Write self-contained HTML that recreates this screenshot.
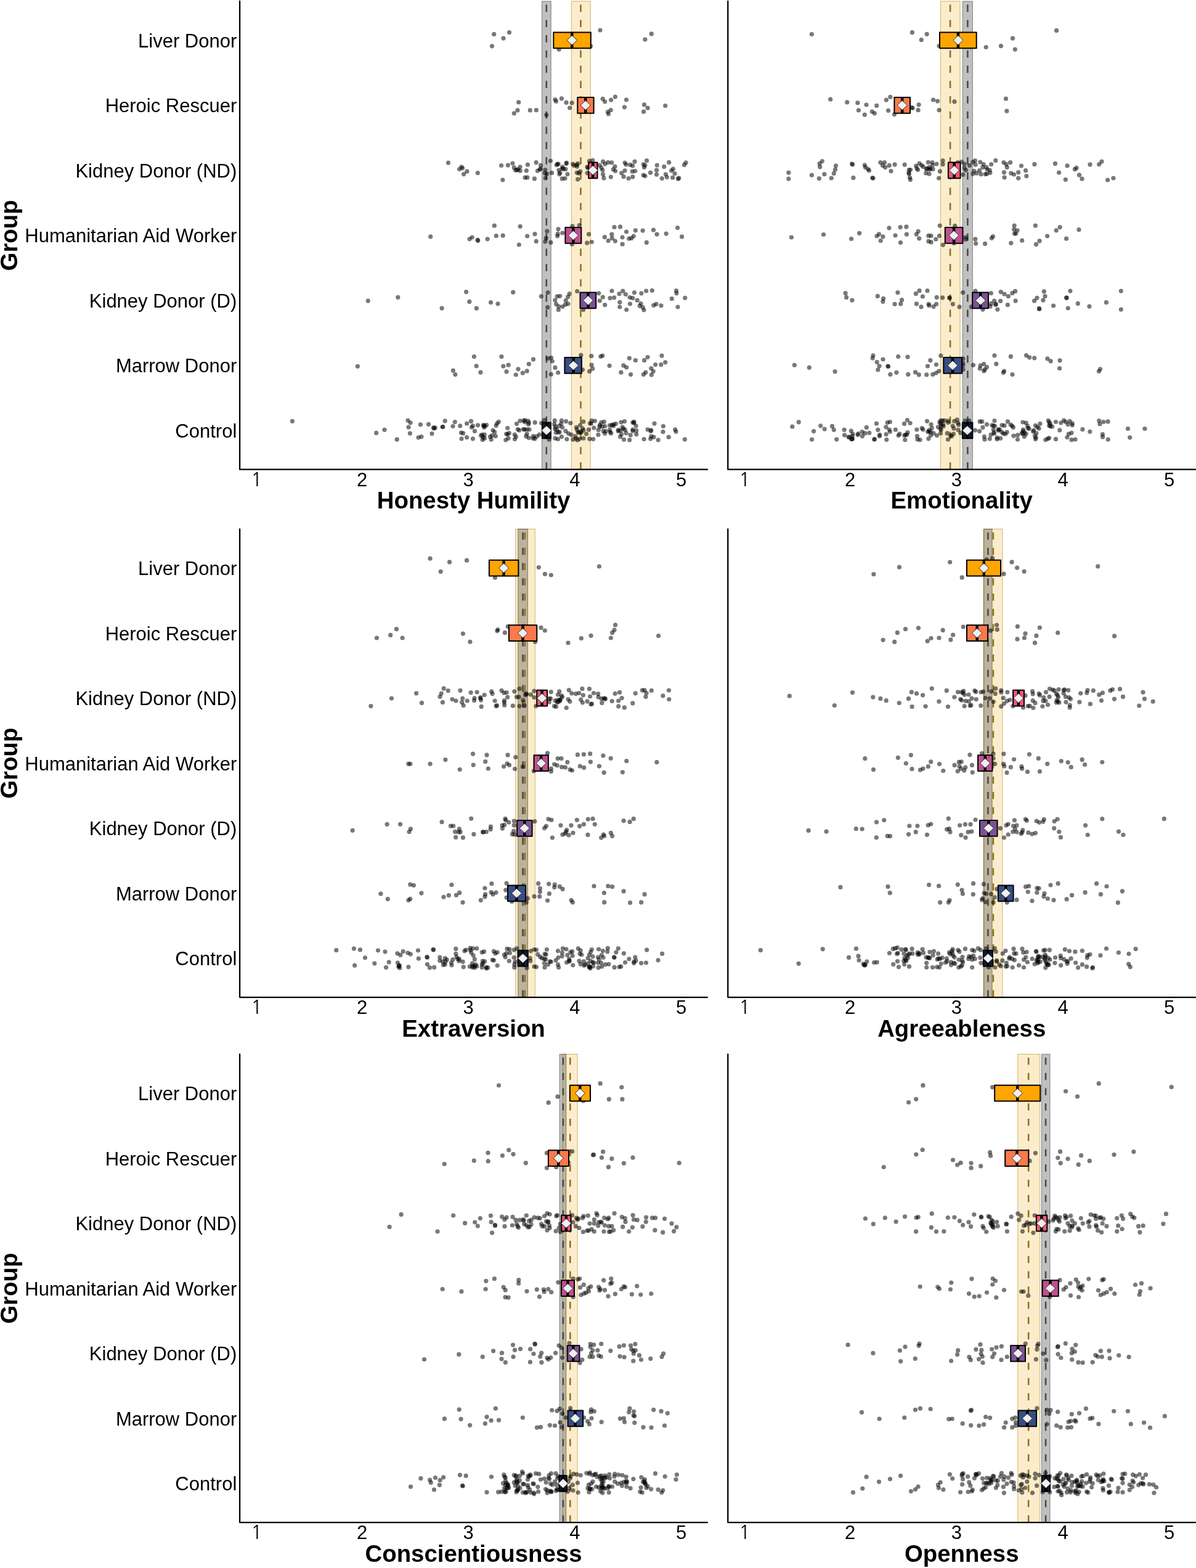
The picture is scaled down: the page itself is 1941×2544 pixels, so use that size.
<!DOCTYPE html><html><head><meta charset="utf-8"><title>Personality traits by group</title>
<style>html,body{margin:0;padding:0;background:#fff;}svg{display:block;}text{font-family:"Liberation Sans",Arial,sans-serif;fill:#000;}.lb{font-size:31px;text-anchor:end;}.tk{font-size:31px;text-anchor:middle;}.tt{font-size:38.4px;font-weight:700;text-anchor:middle;}.pt{fill:#000;fill-opacity:.53;}.gb{fill:#1e1e1e;fill-opacity:.28;stroke:#1e1e1e;stroke-opacity:.45;stroke-width:1.1;}.yb{fill:#EDAD17;fill-opacity:.22;stroke:#CDAE62;stroke-opacity:.85;stroke-width:1.1;}.gd{stroke:#4a4a4a;stroke-width:2.6;stroke-dasharray:11.6 13.15;}.yd{stroke:#93701C;stroke-width:2.6;stroke-dasharray:11.6 13.15;}.bx{stroke:#000;stroke-width:2;stroke-linejoin:round;}.md{stroke:#000;stroke-width:4.4;}.dm{fill:#f0f0f0;stroke:#222;stroke-width:0.9;}.one{font-family:NanumGothic,"Liberation Sans",sans-serif;}.ax{stroke:#000;stroke-width:2.3;fill:none;stroke-linecap:round;stroke-linejoin:round;}</style></head><body>
<svg width="1941" height="2544" viewBox="0 0 1941 2544">
<rect width="1941" height="2544" fill="#fff"/>
<g>
<rect class="yb" x="927.4" y="2" width="30.8" height="759.7"/>
<rect class="gb" x="879.5" y="2" width="14.7" height="759.7"/>
<line class="gd" x1="886.8" y1="761.7" x2="886.8" y2="2"/>
<line class="yd" x1="942.5" y1="761.7" x2="942.5" y2="2"/>
<circle class="pt" cx="801.7" cy="55.4" r="3.6"/>
<circle class="pt" cx="826.5" cy="52.6" r="3.6"/>
<circle class="pt" cx="817" cy="62.1" r="3.6"/>
<circle class="pt" cx="798.5" cy="74.8" r="3.6"/>
<circle class="pt" cx="907.1" cy="80.2" r="3.6"/>
<circle class="pt" cx="958.6" cy="74.8" r="3.6"/>
<circle class="pt" cx="974" cy="49" r="3.6"/>
<circle class="pt" cx="1057.3" cy="54.9" r="3.6"/>
<circle class="pt" cx="1046.9" cy="64" r="3.6"/>
<circle class="pt" cx="841.7" cy="165.9" r="3.6"/>
<circle class="pt" cx="839.9" cy="178.9" r="3.6"/>
<circle class="pt" cx="834.3" cy="183.8" r="3.6"/>
<circle class="pt" cx="860.3" cy="178.9" r="3.6"/>
<circle class="pt" cx="870.3" cy="178.7" r="3.6"/>
<circle class="pt" cx="886.8" cy="186.6" r="3.6"/>
<circle class="pt" cx="900.9" cy="161.5" r="3.6"/>
<circle class="pt" cx="902.5" cy="164.5" r="3.6"/>
<circle class="pt" cx="911.4" cy="159.9" r="3.6"/>
<circle class="pt" cx="919" cy="166.4" r="3.6"/>
<circle class="pt" cx="928.1" cy="166.9" r="3.6"/>
<circle class="pt" cx="924.6" cy="175" r="3.6"/>
<circle class="pt" cx="978.2" cy="160.4" r="3.6"/>
<circle class="pt" cx="981.7" cy="165" r="3.6"/>
<circle class="pt" cx="991.7" cy="162.2" r="3.6"/>
<circle class="pt" cx="998.4" cy="157.1" r="3.6"/>
<circle class="pt" cx="991.2" cy="178.7" r="3.6"/>
<circle class="pt" cx="986.3" cy="181.5" r="3.6"/>
<circle class="pt" cx="987.5" cy="185" r="3.6"/>
<circle class="pt" cx="1016.5" cy="161.8" r="3.6"/>
<circle class="pt" cx="1013.5" cy="173.8" r="3.6"/>
<circle class="pt" cx="1045.5" cy="169.9" r="3.6"/>
<circle class="pt" cx="1051.1" cy="175.2" r="3.6"/>
<circle class="pt" cx="1044.6" cy="181.2" r="3.6"/>
<circle class="pt" cx="1079.7" cy="171.5" r="3.6"/>
<circle class="pt" cx="727.5" cy="264.1" r="3.6"/>
<circle class="pt" cx="748.9" cy="270.8" r="3.6"/>
<circle class="pt" cx="745.5" cy="274.5" r="3.6"/>
<circle class="pt" cx="750.6" cy="272.8" r="3.6"/>
<circle class="pt" cx="757.9" cy="278.2" r="3.6"/>
<circle class="pt" cx="752.6" cy="282.6" r="3.6"/>
<circle class="pt" cx="775.3" cy="280.6" r="3.6"/>
<circle class="pt" cx="813.6" cy="268.5" r="3.6"/>
<circle class="pt" cx="824.4" cy="268.1" r="3.6"/>
<circle class="pt" cx="831.9" cy="265" r="3.6"/>
<circle class="pt" cx="834.3" cy="271.9" r="3.6"/>
<circle class="pt" cx="836.6" cy="276.1" r="3.6"/>
<circle class="pt" cx="840.6" cy="274.8" r="3.6"/>
<circle class="pt" cx="844" cy="270.8" r="3.6"/>
<circle class="pt" cx="844.2" cy="277.2" r="3.6"/>
<circle class="pt" cx="856.4" cy="267.2" r="3.6"/>
<circle class="pt" cx="854.4" cy="276.8" r="3.6"/>
<circle class="pt" cx="852" cy="288.2" r="3.6"/>
<circle class="pt" cx="855.8" cy="287.9" r="3.6"/>
<circle class="pt" cx="867.4" cy="289.9" r="3.6"/>
<circle class="pt" cx="815.8" cy="291.8" r="3.6"/>
<circle class="pt" cx="870.1" cy="263.7" r="3.6"/>
<circle class="pt" cx="877.5" cy="268.1" r="3.6"/>
<circle class="pt" cx="877.1" cy="273.7" r="3.6"/>
<circle class="pt" cx="872.4" cy="277.1" r="3.6"/>
<circle class="pt" cx="884.8" cy="275.5" r="3.6"/>
<circle class="pt" cx="884.2" cy="280.8" r="3.6"/>
<circle class="pt" cx="887.5" cy="282.2" r="3.6"/>
<circle class="pt" cx="885.2" cy="288.9" r="3.6"/>
<circle class="pt" cx="893.5" cy="261" r="3.6"/>
<circle class="pt" cx="895.5" cy="280.4" r="3.6"/>
<circle class="pt" cx="906.2" cy="266.1" r="3.6"/>
<circle class="pt" cx="904.6" cy="266.1" r="3.6"/>
<circle class="pt" cx="906.9" cy="276.1" r="3.6"/>
<circle class="pt" cx="908.9" cy="280.2" r="3.6"/>
<circle class="pt" cx="907.9" cy="282.6" r="3.6"/>
<circle class="pt" cx="912.9" cy="270.8" r="3.6"/>
<circle class="pt" cx="914.3" cy="274.1" r="3.6"/>
<circle class="pt" cx="919.4" cy="264.1" r="3.6"/>
<circle class="pt" cx="919.1" cy="265.4" r="3.6"/>
<circle class="pt" cx="921" cy="282.6" r="3.6"/>
<circle class="pt" cx="912.3" cy="289.9" r="3.6"/>
<circle class="pt" cx="917" cy="289.5" r="3.6"/>
<circle class="pt" cx="929.7" cy="266.1" r="3.6"/>
<circle class="pt" cx="935.7" cy="267.4" r="3.6"/>
<circle class="pt" cx="937.7" cy="265.4" r="3.6"/>
<circle class="pt" cx="936.4" cy="270.1" r="3.6"/>
<circle class="pt" cx="941.7" cy="278.2" r="3.6"/>
<circle class="pt" cx="936.4" cy="280.2" r="3.6"/>
<circle class="pt" cx="937.7" cy="290.9" r="3.6"/>
<circle class="pt" cx="956.5" cy="261.4" r="3.6"/>
<circle class="pt" cx="953.1" cy="270.8" r="3.6"/>
<circle class="pt" cx="953.1" cy="280.8" r="3.6"/>
<circle class="pt" cx="961.8" cy="260.1" r="3.6"/>
<circle class="pt" cx="973.2" cy="268.1" r="3.6"/>
<circle class="pt" cx="975.9" cy="272.1" r="3.6"/>
<circle class="pt" cx="977.9" cy="276.1" r="3.6"/>
<circle class="pt" cx="978.6" cy="282.8" r="3.6"/>
<circle class="pt" cx="979.9" cy="288.9" r="3.6"/>
<circle class="pt" cx="978.6" cy="262.1" r="3.6"/>
<circle class="pt" cx="981.9" cy="266.1" r="3.6"/>
<circle class="pt" cx="986.6" cy="263.4" r="3.6"/>
<circle class="pt" cx="992.6" cy="263.8" r="3.6"/>
<circle class="pt" cx="998" cy="270.1" r="3.6"/>
<circle class="pt" cx="995.3" cy="274.8" r="3.6"/>
<circle class="pt" cx="998.7" cy="277.5" r="3.6"/>
<circle class="pt" cx="991.3" cy="287.1" r="3.6"/>
<circle class="pt" cx="1014.1" cy="264.1" r="3.6"/>
<circle class="pt" cx="1016.1" cy="266.8" r="3.6"/>
<circle class="pt" cx="1008.7" cy="280.8" r="3.6"/>
<circle class="pt" cx="1014.1" cy="276.8" r="3.6"/>
<circle class="pt" cx="1012.1" cy="286.6" r="3.6"/>
<circle class="pt" cx="1020.1" cy="289.5" r="3.6"/>
<circle class="pt" cx="1022.8" cy="267.4" r="3.6"/>
<circle class="pt" cx="1026.8" cy="268.8" r="3.6"/>
<circle class="pt" cx="1030.1" cy="262.1" r="3.6"/>
<circle class="pt" cx="1026.1" cy="278.2" r="3.6"/>
<circle class="pt" cx="1030.8" cy="277.5" r="3.6"/>
<circle class="pt" cx="1026.8" cy="286.9" r="3.6"/>
<circle class="pt" cx="1044.2" cy="266.8" r="3.6"/>
<circle class="pt" cx="1046.9" cy="268.1" r="3.6"/>
<circle class="pt" cx="1049.6" cy="260.7" r="3.6"/>
<circle class="pt" cx="1045.5" cy="271.5" r="3.6"/>
<circle class="pt" cx="1044.2" cy="284.2" r="3.6"/>
<circle class="pt" cx="1046.9" cy="285.5" r="3.6"/>
<circle class="pt" cx="1055.6" cy="280.2" r="3.6"/>
<circle class="pt" cx="1066.3" cy="268.1" r="3.6"/>
<circle class="pt" cx="1065.6" cy="276.1" r="3.6"/>
<circle class="pt" cx="1065.6" cy="283.1" r="3.6"/>
<circle class="pt" cx="1077.7" cy="270.4" r="3.6"/>
<circle class="pt" cx="1085.7" cy="263.4" r="3.6"/>
<circle class="pt" cx="1092.4" cy="274.1" r="3.6"/>
<circle class="pt" cx="1089.7" cy="276.8" r="3.6"/>
<circle class="pt" cx="1095.1" cy="281.5" r="3.6"/>
<circle class="pt" cx="1080.4" cy="282.8" r="3.6"/>
<circle class="pt" cx="1082.4" cy="287.5" r="3.6"/>
<circle class="pt" cx="1074.3" cy="289.5" r="3.6"/>
<circle class="pt" cx="1091.7" cy="288.2" r="3.6"/>
<circle class="pt" cx="1100.4" cy="290.2" r="3.6"/>
<circle class="pt" cx="1101.8" cy="288.9" r="3.6"/>
<circle class="pt" cx="1110.5" cy="267.4" r="3.6"/>
<circle class="pt" cx="1113.2" cy="263.8" r="3.6"/>
<circle class="pt" cx="917.8" cy="274.4" r="3.6"/>
<circle class="pt" cx="903.3" cy="267.6" r="3.6"/>
<circle class="pt" cx="954.1" cy="272.3" r="3.6"/>
<circle class="pt" cx="912.5" cy="273.4" r="3.6"/>
<circle class="pt" cx="939.4" cy="281.2" r="3.6"/>
<circle class="pt" cx="839.1" cy="275.8" r="3.6"/>
<circle class="pt" cx="931.7" cy="268.7" r="3.6"/>
<circle class="pt" cx="876.2" cy="275" r="3.6"/>
<circle class="pt" cx="698.7" cy="383.9" r="3.6"/>
<circle class="pt" cx="762" cy="387.8" r="3.6"/>
<circle class="pt" cx="766.2" cy="385" r="3.6"/>
<circle class="pt" cx="775.1" cy="389.2" r="3.6"/>
<circle class="pt" cx="775.7" cy="390.6" r="3.6"/>
<circle class="pt" cx="791.1" cy="387.8" r="3.6"/>
<circle class="pt" cx="802.3" cy="366.2" r="3.6"/>
<circle class="pt" cx="805.3" cy="382.7" r="3.6"/>
<circle class="pt" cx="816.2" cy="382.2" r="3.6"/>
<circle class="pt" cx="844.2" cy="367.3" r="3.6"/>
<circle class="pt" cx="842.3" cy="397" r="3.6"/>
<circle class="pt" cx="855.7" cy="383" r="3.6"/>
<circle class="pt" cx="868" cy="379.7" r="3.6"/>
<circle class="pt" cx="870.2" cy="391.4" r="3.6"/>
<circle class="pt" cx="887.9" cy="375.2" r="3.6"/>
<circle class="pt" cx="886.2" cy="386.4" r="3.6"/>
<circle class="pt" cx="884.8" cy="392" r="3.6"/>
<circle class="pt" cx="894" cy="393.4" r="3.6"/>
<circle class="pt" cx="906" cy="371.8" r="3.6"/>
<circle class="pt" cx="905.2" cy="379.4" r="3.6"/>
<circle class="pt" cx="904.6" cy="383" r="3.6"/>
<circle class="pt" cx="912.8" cy="378" r="3.6"/>
<circle class="pt" cx="929" cy="366.8" r="3.6"/>
<circle class="pt" cx="940.2" cy="365.7" r="3.6"/>
<circle class="pt" cx="928.4" cy="396.2" r="3.6"/>
<circle class="pt" cx="955.6" cy="379.9" r="3.6"/>
<circle class="pt" cx="952.8" cy="394.2" r="3.6"/>
<circle class="pt" cx="960.3" cy="392.5" r="3.6"/>
<circle class="pt" cx="981.3" cy="384.7" r="3.6"/>
<circle class="pt" cx="987.2" cy="390.6" r="3.6"/>
<circle class="pt" cx="992.8" cy="380.2" r="3.6"/>
<circle class="pt" cx="993.3" cy="386.4" r="3.6"/>
<circle class="pt" cx="998.4" cy="391.1" r="3.6"/>
<circle class="pt" cx="997" cy="368.5" r="3.6"/>
<circle class="pt" cx="1006.5" cy="367.9" r="3.6"/>
<circle class="pt" cx="1010.1" cy="385" r="3.6"/>
<circle class="pt" cx="1010.1" cy="396.2" r="3.6"/>
<circle class="pt" cx="1016.6" cy="376" r="3.6"/>
<circle class="pt" cx="1020.8" cy="387.2" r="3.6"/>
<circle class="pt" cx="1024.9" cy="386.4" r="3.6"/>
<circle class="pt" cx="1028.3" cy="383" r="3.6"/>
<circle class="pt" cx="1031.4" cy="373.8" r="3.6"/>
<circle class="pt" cx="1043.1" cy="374.1" r="3.6"/>
<circle class="pt" cx="1049.3" cy="393.4" r="3.6"/>
<circle class="pt" cx="1060.5" cy="373.2" r="3.6"/>
<circle class="pt" cx="1066.1" cy="380.2" r="3.6"/>
<circle class="pt" cx="1081.2" cy="379.1" r="3.6"/>
<circle class="pt" cx="1099.6" cy="369.6" r="3.6"/>
<circle class="pt" cx="1106.6" cy="383.9" r="3.6"/>
<circle class="pt" cx="597.3" cy="488.1" r="3.6"/>
<circle class="pt" cx="645.8" cy="482.3" r="3.6"/>
<circle class="pt" cx="717.1" cy="500.1" r="3.6"/>
<circle class="pt" cx="756.6" cy="473.6" r="3.6"/>
<circle class="pt" cx="761.8" cy="489.4" r="3.6"/>
<circle class="pt" cx="773.3" cy="500.2" r="3.6"/>
<circle class="pt" cx="796.5" cy="490.7" r="3.6"/>
<circle class="pt" cx="808" cy="492.8" r="3.6"/>
<circle class="pt" cx="832.7" cy="474.2" r="3.6"/>
<circle class="pt" cx="878.3" cy="480.8" r="3.6"/>
<circle class="pt" cx="889.2" cy="474.7" r="3.6"/>
<circle class="pt" cx="888.7" cy="498.7" r="3.6"/>
<circle class="pt" cx="904.2" cy="480.8" r="3.6"/>
<circle class="pt" cx="908.7" cy="480.3" r="3.6"/>
<circle class="pt" cx="900.8" cy="487" r="3.6"/>
<circle class="pt" cx="902.5" cy="493.3" r="3.6"/>
<circle class="pt" cx="906.7" cy="497" r="3.6"/>
<circle class="pt" cx="906.3" cy="502.5" r="3.6"/>
<circle class="pt" cx="913" cy="497.5" r="3.6"/>
<circle class="pt" cx="917.5" cy="494.2" r="3.6"/>
<circle class="pt" cx="918.3" cy="487.5" r="3.6"/>
<circle class="pt" cx="921.7" cy="481.7" r="3.6"/>
<circle class="pt" cx="924.2" cy="476.7" r="3.6"/>
<circle class="pt" cx="922" cy="493" r="3.6"/>
<circle class="pt" cx="936.7" cy="472.5" r="3.6"/>
<circle class="pt" cx="946.7" cy="502.5" r="3.6"/>
<circle class="pt" cx="971.7" cy="475.8" r="3.6"/>
<circle class="pt" cx="978.3" cy="482.2" r="3.6"/>
<circle class="pt" cx="973.3" cy="488" r="3.6"/>
<circle class="pt" cx="981.7" cy="494.7" r="3.6"/>
<circle class="pt" cx="993" cy="472" r="3.6"/>
<circle class="pt" cx="990" cy="483.7" r="3.6"/>
<circle class="pt" cx="996.7" cy="482.8" r="3.6"/>
<circle class="pt" cx="1005" cy="476.7" r="3.6"/>
<circle class="pt" cx="1010.8" cy="472.2" r="3.6"/>
<circle class="pt" cx="1015.3" cy="477.5" r="3.6"/>
<circle class="pt" cx="1005.8" cy="490.3" r="3.6"/>
<circle class="pt" cx="1005.8" cy="498" r="3.6"/>
<circle class="pt" cx="1016.7" cy="502.5" r="3.6"/>
<circle class="pt" cx="1022" cy="482.5" r="3.6"/>
<circle class="pt" cx="1026.7" cy="483.7" r="3.6"/>
<circle class="pt" cx="1022.5" cy="493" r="3.6"/>
<circle class="pt" cx="1034.2" cy="487.2" r="3.6"/>
<circle class="pt" cx="1029.5" cy="474.7" r="3.6"/>
<circle class="pt" cx="1040.8" cy="475.8" r="3.6"/>
<circle class="pt" cx="1048.7" cy="472" r="3.6"/>
<circle class="pt" cx="1058.3" cy="471.3" r="3.6"/>
<circle class="pt" cx="1040" cy="492.5" r="3.6"/>
<circle class="pt" cx="1038.3" cy="496.3" r="3.6"/>
<circle class="pt" cx="1043.3" cy="498.7" r="3.6"/>
<circle class="pt" cx="1045" cy="503" r="3.6"/>
<circle class="pt" cx="1060.8" cy="495.3" r="3.6"/>
<circle class="pt" cx="1065" cy="493.3" r="3.6"/>
<circle class="pt" cx="1073" cy="495.8" r="3.6"/>
<circle class="pt" cx="1090.3" cy="484.7" r="3.6"/>
<circle class="pt" cx="1097.5" cy="471.7" r="3.6"/>
<circle class="pt" cx="1098" cy="475.8" r="3.6"/>
<circle class="pt" cx="1100" cy="498" r="3.6"/>
<circle class="pt" cx="1111.7" cy="483.3" r="3.6"/>
<circle class="pt" cx="580.4" cy="594.3" r="3.6"/>
<circle class="pt" cx="735.4" cy="601.2" r="3.6"/>
<circle class="pt" cx="738.8" cy="607.6" r="3.6"/>
<circle class="pt" cx="769.4" cy="578.6" r="3.6"/>
<circle class="pt" cx="773.2" cy="593.8" r="3.6"/>
<circle class="pt" cx="779.9" cy="604.2" r="3.6"/>
<circle class="pt" cx="813.9" cy="578.6" r="3.6"/>
<circle class="pt" cx="816.8" cy="594.1" r="3.6"/>
<circle class="pt" cx="825.1" cy="592.2" r="3.6"/>
<circle class="pt" cx="822" cy="602.9" r="3.6"/>
<circle class="pt" cx="841" cy="598.8" r="3.6"/>
<circle class="pt" cx="837.2" cy="608" r="3.6"/>
<circle class="pt" cx="848.3" cy="605.2" r="3.6"/>
<circle class="pt" cx="855.2" cy="601.9" r="3.6"/>
<circle class="pt" cx="858.3" cy="590.7" r="3.6"/>
<circle class="pt" cx="865.5" cy="582.9" r="3.6"/>
<circle class="pt" cx="889.3" cy="581.7" r="3.6"/>
<circle class="pt" cx="894.5" cy="580.3" r="3.6"/>
<circle class="pt" cx="896.2" cy="586" r="3.6"/>
<circle class="pt" cx="900.9" cy="596.4" r="3.6"/>
<circle class="pt" cx="905.7" cy="604.5" r="3.6"/>
<circle class="pt" cx="894.5" cy="607.3" r="3.6"/>
<circle class="pt" cx="942.9" cy="576.2" r="3.6"/>
<circle class="pt" cx="945.4" cy="599.8" r="3.6"/>
<circle class="pt" cx="959.8" cy="577.7" r="3.6"/>
<circle class="pt" cx="960.1" cy="592.1" r="3.6"/>
<circle class="pt" cx="961.8" cy="598.1" r="3.6"/>
<circle class="pt" cx="956.7" cy="602.4" r="3.6"/>
<circle class="pt" cx="974.8" cy="578.3" r="3.6"/>
<circle class="pt" cx="977.9" cy="577.1" r="3.6"/>
<circle class="pt" cx="989.1" cy="593.3" r="3.6"/>
<circle class="pt" cx="1021.4" cy="581.2" r="3.6"/>
<circle class="pt" cx="1031.4" cy="584.6" r="3.6"/>
<circle class="pt" cx="1011.9" cy="592.9" r="3.6"/>
<circle class="pt" cx="1016.7" cy="596" r="3.6"/>
<circle class="pt" cx="1007.9" cy="604.2" r="3.6"/>
<circle class="pt" cx="1023.6" cy="607.6" r="3.6"/>
<circle class="pt" cx="1045.6" cy="584.6" r="3.6"/>
<circle class="pt" cx="1051.1" cy="579.5" r="3.6"/>
<circle class="pt" cx="1047.8" cy="604.2" r="3.6"/>
<circle class="pt" cx="1044.4" cy="607.6" r="3.6"/>
<circle class="pt" cx="1056.8" cy="597.6" r="3.6"/>
<circle class="pt" cx="1060.2" cy="602.4" r="3.6"/>
<circle class="pt" cx="1057.3" cy="608.1" r="3.6"/>
<circle class="pt" cx="1063.7" cy="591.6" r="3.6"/>
<circle class="pt" cx="1072.8" cy="591.6" r="3.6"/>
<circle class="pt" cx="1074" cy="577.1" r="3.6"/>
<circle class="pt" cx="1079.7" cy="587.8" r="3.6"/>
<circle class="pt" cx="474.4" cy="683.3" r="3.6"/>
<circle class="pt" cx="610.6" cy="702.4" r="3.6"/>
<circle class="pt" cx="624" cy="697.3" r="3.6"/>
<circle class="pt" cx="644.2" cy="712.9" r="3.6"/>
<circle class="pt" cx="662" cy="682.2" r="3.6"/>
<circle class="pt" cx="666.1" cy="685.8" r="3.6"/>
<circle class="pt" cx="663" cy="693.1" r="3.6"/>
<circle class="pt" cx="665.4" cy="703.1" r="3.6"/>
<circle class="pt" cx="682.4" cy="688.8" r="3.6"/>
<circle class="pt" cx="679" cy="709.8" r="3.6"/>
<circle class="pt" cx="683.9" cy="708.6" r="3.6"/>
<circle class="pt" cx="695.5" cy="688.4" r="3.6"/>
<circle class="pt" cx="703.4" cy="693.9" r="3.6"/>
<circle class="pt" cx="704.5" cy="694.9" r="3.6"/>
<circle class="pt" cx="701" cy="703.6" r="3.6"/>
<circle class="pt" cx="718" cy="692.6" r="3.6"/>
<circle class="pt" cx="722.2" cy="682.8" r="3.6"/>
<circle class="pt" cx="718.9" cy="692.5" r="3.6"/>
<circle class="pt" cx="738.3" cy="684.6" r="3.6"/>
<circle class="pt" cx="735" cy="691.5" r="3.6"/>
<circle class="pt" cx="746.7" cy="690.9" r="3.6"/>
<circle class="pt" cx="757.6" cy="687.2" r="3.6"/>
<circle class="pt" cx="764.5" cy="683.4" r="3.6"/>
<circle class="pt" cx="767.4" cy="690.9" r="3.6"/>
<circle class="pt" cx="765.4" cy="693.2" r="3.6"/>
<circle class="pt" cx="775.5" cy="689.8" r="3.6"/>
<circle class="pt" cx="770.4" cy="699.4" r="3.6"/>
<circle class="pt" cx="748.4" cy="702" r="3.6"/>
<circle class="pt" cx="751.7" cy="702.9" r="3.6"/>
<circle class="pt" cx="749" cy="711.8" r="3.6"/>
<circle class="pt" cx="757.6" cy="709.6" r="3.6"/>
<circle class="pt" cx="767.4" cy="711.8" r="3.6"/>
<circle class="pt" cx="784.4" cy="690.2" r="3.6"/>
<circle class="pt" cx="786.8" cy="691.5" r="3.6"/>
<circle class="pt" cx="789.6" cy="689.6" r="3.6"/>
<circle class="pt" cx="785.7" cy="693.5" r="3.6"/>
<circle class="pt" cx="780.5" cy="706.6" r="3.6"/>
<circle class="pt" cx="782.4" cy="705.3" r="3.6"/>
<circle class="pt" cx="783.8" cy="709.2" r="3.6"/>
<circle class="pt" cx="786.4" cy="711.2" r="3.6"/>
<circle class="pt" cx="783.1" cy="713.4" r="3.6"/>
<circle class="pt" cx="797.2" cy="713.1" r="3.6"/>
<circle class="pt" cx="798.5" cy="706.6" r="3.6"/>
<circle class="pt" cx="799.9" cy="698.1" r="3.6"/>
<circle class="pt" cx="802.7" cy="701.1" r="3.6"/>
<circle class="pt" cx="804.3" cy="707.6" r="3.6"/>
<circle class="pt" cx="809.3" cy="684.3" r="3.6"/>
<circle class="pt" cx="806.7" cy="687" r="3.6"/>
<circle class="pt" cx="805.1" cy="690.6" r="3.6"/>
<circle class="pt" cx="823.7" cy="694.5" r="3.6"/>
<circle class="pt" cx="821.7" cy="704" r="3.6"/>
<circle class="pt" cx="823.7" cy="704.6" r="3.6"/>
<circle class="pt" cx="826.3" cy="702.7" r="3.6"/>
<circle class="pt" cx="820.8" cy="713.8" r="3.6"/>
<circle class="pt" cx="825" cy="711.2" r="3.6"/>
<circle class="pt" cx="835.2" cy="705" r="3.6"/>
<circle class="pt" cx="837.4" cy="708.6" r="3.6"/>
<circle class="pt" cx="835.5" cy="712.5" r="3.6"/>
<circle class="pt" cx="838.5" cy="687.6" r="3.6"/>
<circle class="pt" cx="842.7" cy="698.1" r="3.6"/>
<circle class="pt" cx="844" cy="682.8" r="3.6"/>
<circle class="pt" cx="849.9" cy="682.4" r="3.6"/>
<circle class="pt" cx="851.8" cy="685" r="3.6"/>
<circle class="pt" cx="857.1" cy="683" r="3.6"/>
<circle class="pt" cx="857.5" cy="688.5" r="3.6"/>
<circle class="pt" cx="851.2" cy="696.8" r="3.6"/>
<circle class="pt" cx="854.9" cy="696.8" r="3.6"/>
<circle class="pt" cx="859" cy="696.8" r="3.6"/>
<circle class="pt" cx="855.1" cy="704" r="3.6"/>
<circle class="pt" cx="853.8" cy="707.9" r="3.6"/>
<circle class="pt" cx="858.4" cy="710.5" r="3.6"/>
<circle class="pt" cx="868.2" cy="685.4" r="3.6"/>
<circle class="pt" cx="865.6" cy="707.6" r="3.6"/>
<circle class="pt" cx="868" cy="711.8" r="3.6"/>
<circle class="pt" cx="871.2" cy="708.2" r="3.6"/>
<circle class="pt" cx="875.4" cy="705" r="3.6"/>
<circle class="pt" cx="878.7" cy="686.3" r="3.6"/>
<circle class="pt" cx="883.3" cy="681.7" r="3.6"/>
<circle class="pt" cx="891.1" cy="713.1" r="3.6"/>
<circle class="pt" cx="900.3" cy="682.4" r="3.6"/>
<circle class="pt" cx="899.6" cy="688.3" r="3.6"/>
<circle class="pt" cx="901.6" cy="692.2" r="3.6"/>
<circle class="pt" cx="900.7" cy="695.9" r="3.6"/>
<circle class="pt" cx="902.3" cy="702" r="3.6"/>
<circle class="pt" cx="901" cy="711.2" r="3.6"/>
<circle class="pt" cx="905.5" cy="712.5" r="3.6"/>
<circle class="pt" cx="908.2" cy="701.1" r="3.6"/>
<circle class="pt" cx="907.5" cy="690.9" r="3.6"/>
<circle class="pt" cx="911.4" cy="682.4" r="3.6"/>
<circle class="pt" cx="910.8" cy="687.6" r="3.6"/>
<circle class="pt" cx="912.7" cy="693.5" r="3.6"/>
<circle class="pt" cx="911.4" cy="708.6" r="3.6"/>
<circle class="pt" cx="918.6" cy="683.7" r="3.6"/>
<circle class="pt" cx="918" cy="699.4" r="3.6"/>
<circle class="pt" cx="922.6" cy="703.3" r="3.6"/>
<circle class="pt" cx="919.9" cy="712.5" r="3.6"/>
<circle class="pt" cx="925.8" cy="686.3" r="3.6"/>
<circle class="pt" cx="927.1" cy="705.3" r="3.6"/>
<circle class="pt" cx="929.8" cy="713.1" r="3.6"/>
<circle class="pt" cx="933.7" cy="707.9" r="3.6"/>
<circle class="pt" cx="946.8" cy="684.1" r="3.6"/>
<circle class="pt" cx="941.5" cy="690" r="3.6"/>
<circle class="pt" cx="936.3" cy="696.8" r="3.6"/>
<circle class="pt" cx="945.5" cy="695.1" r="3.6"/>
<circle class="pt" cx="947" cy="698.1" r="3.6"/>
<circle class="pt" cx="937.9" cy="701.1" r="3.6"/>
<circle class="pt" cx="943.1" cy="702" r="3.6"/>
<circle class="pt" cx="951.6" cy="704" r="3.6"/>
<circle class="pt" cx="955.5" cy="697.2" r="3.6"/>
<circle class="pt" cx="934.6" cy="711.6" r="3.6"/>
<circle class="pt" cx="940.5" cy="712.1" r="3.6"/>
<circle class="pt" cx="946.8" cy="711.2" r="3.6"/>
<circle class="pt" cx="956.8" cy="712.1" r="3.6"/>
<circle class="pt" cx="957.5" cy="687" r="3.6"/>
<circle class="pt" cx="960.1" cy="682.4" r="3.6"/>
<circle class="pt" cx="965.4" cy="683" r="3.6"/>
<circle class="pt" cx="959.5" cy="687" r="3.6"/>
<circle class="pt" cx="963.8" cy="694.2" r="3.6"/>
<circle class="pt" cx="975.8" cy="685.4" r="3.6"/>
<circle class="pt" cx="980.4" cy="684.3" r="3.6"/>
<circle class="pt" cx="973.2" cy="692.2" r="3.6"/>
<circle class="pt" cx="977.1" cy="692.2" r="3.6"/>
<circle class="pt" cx="981.7" cy="691.5" r="3.6"/>
<circle class="pt" cx="971.2" cy="697.4" r="3.6"/>
<circle class="pt" cx="979.1" cy="699.4" r="3.6"/>
<circle class="pt" cx="981.7" cy="703.3" r="3.6"/>
<circle class="pt" cx="970.9" cy="705.3" r="3.6"/>
<circle class="pt" cx="989.6" cy="690.2" r="3.6"/>
<circle class="pt" cx="992.9" cy="689.6" r="3.6"/>
<circle class="pt" cx="995.5" cy="690.9" r="3.6"/>
<circle class="pt" cx="999.4" cy="687.6" r="3.6"/>
<circle class="pt" cx="989.6" cy="697.4" r="3.6"/>
<circle class="pt" cx="991.8" cy="702.9" r="3.6"/>
<circle class="pt" cx="1007.9" cy="685" r="3.6"/>
<circle class="pt" cx="1013.5" cy="683.7" r="3.6"/>
<circle class="pt" cx="1010.1" cy="692.8" r="3.6"/>
<circle class="pt" cx="1011.8" cy="695.5" r="3.6"/>
<circle class="pt" cx="1014.5" cy="697.4" r="3.6"/>
<circle class="pt" cx="1003.3" cy="699.4" r="3.6"/>
<circle class="pt" cx="1007.3" cy="698.7" r="3.6"/>
<circle class="pt" cx="1016.2" cy="702.7" r="3.6"/>
<circle class="pt" cx="1008.6" cy="704.6" r="3.6"/>
<circle class="pt" cx="1006.6" cy="708.6" r="3.6"/>
<circle class="pt" cx="1012.5" cy="713.1" r="3.6"/>
<circle class="pt" cx="1023.2" cy="705.9" r="3.6"/>
<circle class="pt" cx="1021.7" cy="713.8" r="3.6"/>
<circle class="pt" cx="1028.9" cy="684.3" r="3.6"/>
<circle class="pt" cx="1026.9" cy="685.6" r="3.6"/>
<circle class="pt" cx="1032.1" cy="690.9" r="3.6"/>
<circle class="pt" cx="1026.9" cy="697.2" r="3.6"/>
<circle class="pt" cx="1032.8" cy="698.7" r="3.6"/>
<circle class="pt" cx="1032.8" cy="704.6" r="3.6"/>
<circle class="pt" cx="1062" cy="687.2" r="3.6"/>
<circle class="pt" cx="1051.1" cy="696.8" r="3.6"/>
<circle class="pt" cx="1056" cy="699.4" r="3.6"/>
<circle class="pt" cx="1045.2" cy="712.5" r="3.6"/>
<circle class="pt" cx="1057" cy="707.9" r="3.6"/>
<circle class="pt" cx="1061" cy="709.2" r="3.6"/>
<circle class="pt" cx="1055.7" cy="711.8" r="3.6"/>
<circle class="pt" cx="1068.2" cy="713.8" r="3.6"/>
<circle class="pt" cx="1076.4" cy="691.5" r="3.6"/>
<circle class="pt" cx="1076" cy="700.7" r="3.6"/>
<circle class="pt" cx="1085.2" cy="709.2" r="3.6"/>
<circle class="pt" cx="1095.7" cy="696.8" r="3.6"/>
<circle class="pt" cx="1097" cy="700.3" r="3.6"/>
<circle class="pt" cx="1111.4" cy="712.8" r="3.6"/>
<circle class="pt" cx="962.7" cy="712.5" r="3.6"/>
<circle class="pt" cx="906.1" cy="701.2" r="3.6"/>
<circle class="pt" cx="983" cy="699.5" r="3.6"/>
<circle class="pt" cx="1003.6" cy="697.5" r="3.6"/>
<circle class="pt" cx="795.4" cy="708.5" r="3.6"/>
<circle class="pt" cx="942.9" cy="699.9" r="3.6"/>
<circle class="pt" cx="935.4" cy="693.3" r="3.6"/>
<circle class="pt" cx="990" cy="701.1" r="3.6"/>
<circle class="pt" cx="858.4" cy="685.8" r="3.6"/>
<circle class="pt" cx="840.3" cy="696.6" r="3.6"/>
<circle class="pt" cx="1028.8" cy="686.1" r="3.6"/>
<circle class="pt" cx="1056.9" cy="697.8" r="3.6"/>
<circle class="pt" cx="849.4" cy="696.3" r="3.6"/>
<circle class="pt" cx="903.8" cy="696.9" r="3.6"/>
<circle class="pt" cx="786.2" cy="705.2" r="3.6"/>
<circle class="pt" cx="995.8" cy="688.5" r="3.6"/>
<circle class="pt" cx="973.4" cy="689.5" r="3.6"/>
<circle class="pt" cx="785.1" cy="689.9" r="3.6"/>
<circle class="pt" cx="937.1" cy="713.9" r="3.6"/>
<circle class="pt" cx="852.2" cy="681.8" r="3.6"/>
<circle class="pt" cx="939.5" cy="702" r="3.6"/>
<circle class="pt" cx="1027.1" cy="699.1" r="3.6"/>
<circle class="pt" cx="865.2" cy="711.2" r="3.6"/>
<circle class="pt" cx="706.2" cy="693.9" r="3.6"/>
<rect class="bx" fill="#FFA500" x="898.3" y="52.4" width="60.5" height="25.8"/>
<line class="md" x1="928.3" y1="52.4" x2="928.3" y2="78.2"/>
<polygon class="dm" points="920.1,65.3 928.3,57.6 936.5,65.3 928.3,73"/>
<rect class="bx" fill="#FB794A" x="937.3" y="157.9" width="26.3" height="25.8"/>
<line class="md" x1="950.3" y1="157.9" x2="950.3" y2="183.7"/>
<polygon class="dm" points="942.1,170.8 950.3,163.1 958.5,170.8 950.3,178.5"/>
<rect class="bx" fill="#F05576" x="955.2" y="263.4" width="14.3" height="25.8"/>
<line class="md" x1="962.2" y1="263.4" x2="962.2" y2="289.2"/>
<polygon class="dm" points="954,276.3 962.2,268.6 970.4,276.3 962.2,284"/>
<rect class="bx" fill="#C05091" x="917.4" y="369" width="25.9" height="25.8"/>
<line class="md" x1="930.4" y1="369" x2="930.4" y2="394.8"/>
<polygon class="dm" points="922.2,381.9 930.4,374.2 938.6,381.9 930.4,389.6"/>
<rect class="bx" fill="#7C5296" x="941.5" y="474.5" width="25.7" height="25.8"/>
<line class="md" x1="954.5" y1="474.5" x2="954.5" y2="500.3"/>
<polygon class="dm" points="946.3,487.4 954.5,479.7 962.7,487.4 954.5,495.1"/>
<rect class="bx" fill="#384E84" x="916.4" y="580" width="27.5" height="25.8"/>
<line class="md" x1="930.6" y1="580" x2="930.6" y2="605.8"/>
<polygon class="dm" points="922.4,592.9 930.6,585.2 938.8,592.9 930.6,600.6"/>
<rect class="bx" fill="#0C1C34" x="879.9" y="685.5" width="14" height="25.8"/>
<line class="md" x1="886.9" y1="685.5" x2="886.9" y2="711.3"/>
<polygon class="dm" points="878.7,698.4 886.9,690.7 895.1,698.4 886.9,706.1"/>
<path class="ax" d="M389.1 2V761.7H1148"/>
<text class="tk one" x="416.3" y="788.7">1</text>
<text class="tk" x="587.5" y="788.7">2</text>
<text class="tk" x="760.2" y="788.7">3</text>
<text class="tk" x="932.9" y="788.7">4</text>
<text class="tk" x="1105.6" y="788.7">5</text>
<text class="tt" x="768.5" y="825.2">Honesty Humility</text>
</g>
<g>
<rect class="yb" x="1526.4" y="2" width="31.7" height="759.7"/>
<rect class="gb" x="1562.3" y="2" width="16.1" height="759.7"/>
<line class="gd" x1="1570.4" y1="761.7" x2="1570.4" y2="2"/>
<line class="yd" x1="1542.1" y1="761.7" x2="1542.1" y2="2"/>
<circle class="pt" cx="1317.4" cy="55.5" r="3.6"/>
<circle class="pt" cx="1480.4" cy="52.7" r="3.6"/>
<circle class="pt" cx="1504.2" cy="55.3" r="3.6"/>
<circle class="pt" cx="1495.3" cy="64.7" r="3.6"/>
<circle class="pt" cx="1524" cy="74.5" r="3.6"/>
<circle class="pt" cx="1600.2" cy="76.5" r="3.6"/>
<circle class="pt" cx="1624.5" cy="74.7" r="3.6"/>
<circle class="pt" cx="1643.5" cy="62.2" r="3.6"/>
<circle class="pt" cx="1647.3" cy="80.1" r="3.6"/>
<circle class="pt" cx="1714.6" cy="49.4" r="3.6"/>
<circle class="pt" cx="1347.7" cy="161.2" r="3.6"/>
<circle class="pt" cx="1374.8" cy="165.9" r="3.6"/>
<circle class="pt" cx="1391.9" cy="166.9" r="3.6"/>
<circle class="pt" cx="1406" cy="170" r="3.6"/>
<circle class="pt" cx="1422.7" cy="171.4" r="3.6"/>
<circle class="pt" cx="1393.4" cy="178.9" r="3.6"/>
<circle class="pt" cx="1403.3" cy="186.1" r="3.6"/>
<circle class="pt" cx="1415.4" cy="181.2" r="3.6"/>
<circle class="pt" cx="1419.4" cy="183.8" r="3.6"/>
<circle class="pt" cx="1438.4" cy="162.2" r="3.6"/>
<circle class="pt" cx="1444.9" cy="157.3" r="3.6"/>
<circle class="pt" cx="1441.6" cy="179.3" r="3.6"/>
<circle class="pt" cx="1451.4" cy="185.6" r="3.6"/>
<circle class="pt" cx="1479.3" cy="174.4" r="3.6"/>
<circle class="pt" cx="1481.2" cy="175.3" r="3.6"/>
<circle class="pt" cx="1491.1" cy="169.8" r="3.6"/>
<circle class="pt" cx="1490.1" cy="178.7" r="3.6"/>
<circle class="pt" cx="1514.6" cy="162" r="3.6"/>
<circle class="pt" cx="1521.5" cy="164.1" r="3.6"/>
<circle class="pt" cx="1524.1" cy="178.7" r="3.6"/>
<circle class="pt" cx="1549" cy="164.9" r="3.6"/>
<circle class="pt" cx="1632.5" cy="160.2" r="3.6"/>
<circle class="pt" cx="1633.9" cy="180.2" r="3.6"/>
<circle class="pt" cx="1279.8" cy="280.1" r="3.6"/>
<circle class="pt" cx="1279.8" cy="290.1" r="3.6"/>
<circle class="pt" cx="1317.4" cy="284.2" r="3.6"/>
<circle class="pt" cx="1334.3" cy="261.5" r="3.6"/>
<circle class="pt" cx="1330.1" cy="265.4" r="3.6"/>
<circle class="pt" cx="1330.7" cy="270.8" r="3.6"/>
<circle class="pt" cx="1329.3" cy="289.6" r="3.6"/>
<circle class="pt" cx="1337.9" cy="282.7" r="3.6"/>
<circle class="pt" cx="1356.5" cy="268.8" r="3.6"/>
<circle class="pt" cx="1355.5" cy="275.2" r="3.6"/>
<circle class="pt" cx="1353.3" cy="281.3" r="3.6"/>
<circle class="pt" cx="1349.2" cy="289" r="3.6"/>
<circle class="pt" cx="1382.5" cy="265.8" r="3.6"/>
<circle class="pt" cx="1383.7" cy="266.9" r="3.6"/>
<circle class="pt" cx="1384.9" cy="288.4" r="3.6"/>
<circle class="pt" cx="1403.3" cy="267.8" r="3.6"/>
<circle class="pt" cx="1404.5" cy="271.4" r="3.6"/>
<circle class="pt" cx="1408.7" cy="274.4" r="3.6"/>
<circle class="pt" cx="1410.5" cy="276.7" r="3.6"/>
<circle class="pt" cx="1415.8" cy="288.6" r="3.6"/>
<circle class="pt" cx="1417" cy="289.2" r="3.6"/>
<circle class="pt" cx="1428.9" cy="263.6" r="3.6"/>
<circle class="pt" cx="1435.5" cy="263.6" r="3.6"/>
<circle class="pt" cx="1432.5" cy="268.4" r="3.6"/>
<circle class="pt" cx="1436.7" cy="271.4" r="3.6"/>
<circle class="pt" cx="1443.2" cy="268.4" r="3.6"/>
<circle class="pt" cx="1452.1" cy="266.9" r="3.6"/>
<circle class="pt" cx="1446" cy="277.7" r="3.6"/>
<circle class="pt" cx="1468.2" cy="267.2" r="3.6"/>
<circle class="pt" cx="1477.7" cy="275.5" r="3.6"/>
<circle class="pt" cx="1474.8" cy="280.3" r="3.6"/>
<circle class="pt" cx="1475.4" cy="282.1" r="3.6"/>
<circle class="pt" cx="1476.5" cy="288" r="3.6"/>
<circle class="pt" cx="1477.4" cy="291.4" r="3.6"/>
<circle class="pt" cx="1486.7" cy="269" r="3.6"/>
<circle class="pt" cx="1487.9" cy="273.2" r="3.6"/>
<circle class="pt" cx="1489.6" cy="275.5" r="3.6"/>
<circle class="pt" cx="1492" cy="265.2" r="3.6"/>
<circle class="pt" cx="1498.3" cy="270.4" r="3.6"/>
<circle class="pt" cx="1503.3" cy="274.4" r="3.6"/>
<circle class="pt" cx="1502.7" cy="280.9" r="3.6"/>
<circle class="pt" cx="1506.3" cy="263.3" r="3.6"/>
<circle class="pt" cx="1508.1" cy="271.4" r="3.6"/>
<circle class="pt" cx="1509.9" cy="273.8" r="3.6"/>
<circle class="pt" cx="1508.1" cy="282.1" r="3.6"/>
<circle class="pt" cx="1512.9" cy="263.6" r="3.6"/>
<circle class="pt" cx="1513.5" cy="267.8" r="3.6"/>
<circle class="pt" cx="1514" cy="274.4" r="3.6"/>
<circle class="pt" cx="1520" cy="266" r="3.6"/>
<circle class="pt" cx="1525.4" cy="277.9" r="3.6"/>
<circle class="pt" cx="1523.6" cy="289" r="3.6"/>
<circle class="pt" cx="1530.1" cy="260.7" r="3.6"/>
<circle class="pt" cx="1530.1" cy="266.6" r="3.6"/>
<circle class="pt" cx="1554.5" cy="263.6" r="3.6"/>
<circle class="pt" cx="1560.5" cy="262.5" r="3.6"/>
<circle class="pt" cx="1565.2" cy="266" r="3.6"/>
<circle class="pt" cx="1565.2" cy="272.6" r="3.6"/>
<circle class="pt" cx="1567.6" cy="276.1" r="3.6"/>
<circle class="pt" cx="1562.9" cy="283.3" r="3.6"/>
<circle class="pt" cx="1573.6" cy="268.4" r="3.6"/>
<circle class="pt" cx="1578.9" cy="263" r="3.6"/>
<circle class="pt" cx="1582.5" cy="260.7" r="3.6"/>
<circle class="pt" cx="1583.1" cy="267.2" r="3.6"/>
<circle class="pt" cx="1580.7" cy="277.3" r="3.6"/>
<circle class="pt" cx="1578.9" cy="282.1" r="3.6"/>
<circle class="pt" cx="1584.9" cy="280.9" r="3.6"/>
<circle class="pt" cx="1590.8" cy="263" r="3.6"/>
<circle class="pt" cx="1589.6" cy="276.7" r="3.6"/>
<circle class="pt" cx="1592" cy="282.7" r="3.6"/>
<circle class="pt" cx="1596.2" cy="266.6" r="3.6"/>
<circle class="pt" cx="1595" cy="271.4" r="3.6"/>
<circle class="pt" cx="1599.2" cy="282.7" r="3.6"/>
<circle class="pt" cx="1601" cy="271.4" r="3.6"/>
<circle class="pt" cx="1602.1" cy="275" r="3.6"/>
<circle class="pt" cx="1606.3" cy="276.1" r="3.6"/>
<circle class="pt" cx="1606.9" cy="280.3" r="3.6"/>
<circle class="pt" cx="1608.7" cy="266.6" r="3.6"/>
<circle class="pt" cx="1615.8" cy="260.4" r="3.6"/>
<circle class="pt" cx="1628.9" cy="263.6" r="3.6"/>
<circle class="pt" cx="1629.5" cy="279.7" r="3.6"/>
<circle class="pt" cx="1633.1" cy="266.6" r="3.6"/>
<circle class="pt" cx="1634.3" cy="271.4" r="3.6"/>
<circle class="pt" cx="1639.6" cy="263.6" r="3.6"/>
<circle class="pt" cx="1630.1" cy="287.8" r="3.6"/>
<circle class="pt" cx="1640.8" cy="280.9" r="3.6"/>
<circle class="pt" cx="1645.6" cy="283" r="3.6"/>
<circle class="pt" cx="1652.7" cy="279.7" r="3.6"/>
<circle class="pt" cx="1657.5" cy="269" r="3.6"/>
<circle class="pt" cx="1652.7" cy="289.2" r="3.6"/>
<circle class="pt" cx="1664.6" cy="276.7" r="3.6"/>
<circle class="pt" cx="1665.8" cy="285.7" r="3.6"/>
<circle class="pt" cx="1678.9" cy="266.4" r="3.6"/>
<circle class="pt" cx="1712.5" cy="265.4" r="3.6"/>
<circle class="pt" cx="1718.6" cy="280" r="3.6"/>
<circle class="pt" cx="1732.1" cy="268.8" r="3.6"/>
<circle class="pt" cx="1729.3" cy="291.3" r="3.6"/>
<circle class="pt" cx="1744.4" cy="274.7" r="3.6"/>
<circle class="pt" cx="1747.1" cy="272.3" r="3.6"/>
<circle class="pt" cx="1751.5" cy="283.9" r="3.6"/>
<circle class="pt" cx="1756" cy="290.2" r="3.6"/>
<circle class="pt" cx="1769" cy="266.9" r="3.6"/>
<circle class="pt" cx="1783.7" cy="266.6" r="3.6"/>
<circle class="pt" cx="1787.9" cy="262.1" r="3.6"/>
<circle class="pt" cx="1797.6" cy="292" r="3.6"/>
<circle class="pt" cx="1806.9" cy="289" r="3.6"/>
<circle class="pt" cx="1495.6" cy="268.2" r="3.6"/>
<circle class="pt" cx="1475.2" cy="275.5" r="3.6"/>
<circle class="pt" cx="1601.6" cy="282" r="3.6"/>
<circle class="pt" cx="1504.5" cy="273.3" r="3.6"/>
<circle class="pt" cx="1508.3" cy="275" r="3.6"/>
<circle class="pt" cx="1284.4" cy="385" r="3.6"/>
<circle class="pt" cx="1336.5" cy="380.5" r="3.6"/>
<circle class="pt" cx="1381.6" cy="387.5" r="3.6"/>
<circle class="pt" cx="1394.6" cy="378.3" r="3.6"/>
<circle class="pt" cx="1423" cy="383" r="3.6"/>
<circle class="pt" cx="1426.5" cy="379.8" r="3.6"/>
<circle class="pt" cx="1432.9" cy="383.9" r="3.6"/>
<circle class="pt" cx="1429.2" cy="390.5" r="3.6"/>
<circle class="pt" cx="1442.9" cy="369.8" r="3.6"/>
<circle class="pt" cx="1453" cy="382" r="3.6"/>
<circle class="pt" cx="1461.2" cy="368.6" r="3.6"/>
<circle class="pt" cx="1461.5" cy="393.5" r="3.6"/>
<circle class="pt" cx="1470.9" cy="367.9" r="3.6"/>
<circle class="pt" cx="1471.3" cy="380.2" r="3.6"/>
<circle class="pt" cx="1487.3" cy="380.1" r="3.6"/>
<circle class="pt" cx="1490.2" cy="375.3" r="3.6"/>
<circle class="pt" cx="1491.7" cy="386.8" r="3.6"/>
<circle class="pt" cx="1506.9" cy="382.4" r="3.6"/>
<circle class="pt" cx="1511.1" cy="382.7" r="3.6"/>
<circle class="pt" cx="1506.9" cy="391.4" r="3.6"/>
<circle class="pt" cx="1511.1" cy="392.9" r="3.6"/>
<circle class="pt" cx="1518.8" cy="388.2" r="3.6"/>
<circle class="pt" cx="1525.2" cy="366.1" r="3.6"/>
<circle class="pt" cx="1524.5" cy="382.7" r="3.6"/>
<circle class="pt" cx="1530.4" cy="397.3" r="3.6"/>
<circle class="pt" cx="1549.8" cy="366.4" r="3.6"/>
<circle class="pt" cx="1548.3" cy="394.6" r="3.6"/>
<circle class="pt" cx="1566.9" cy="385" r="3.6"/>
<circle class="pt" cx="1567.3" cy="388.4" r="3.6"/>
<circle class="pt" cx="1582.8" cy="387.9" r="3.6"/>
<circle class="pt" cx="1583.7" cy="395.1" r="3.6"/>
<circle class="pt" cx="1598.6" cy="395.4" r="3.6"/>
<circle class="pt" cx="1609.3" cy="386.5" r="3.6"/>
<circle class="pt" cx="1611.5" cy="383.5" r="3.6"/>
<circle class="pt" cx="1646.2" cy="366.1" r="3.6"/>
<circle class="pt" cx="1645.7" cy="372.3" r="3.6"/>
<circle class="pt" cx="1651" cy="373.8" r="3.6"/>
<circle class="pt" cx="1646.5" cy="379" r="3.6"/>
<circle class="pt" cx="1648.7" cy="379" r="3.6"/>
<circle class="pt" cx="1640.8" cy="394.3" r="3.6"/>
<circle class="pt" cx="1658.7" cy="390.2" r="3.6"/>
<circle class="pt" cx="1680.4" cy="366.1" r="3.6"/>
<circle class="pt" cx="1699.6" cy="383" r="3.6"/>
<circle class="pt" cx="1687" cy="390.9" r="3.6"/>
<circle class="pt" cx="1681.5" cy="396.4" r="3.6"/>
<circle class="pt" cx="1714.2" cy="373.8" r="3.6"/>
<circle class="pt" cx="1720.1" cy="368.6" r="3.6"/>
<circle class="pt" cx="1730.6" cy="387.2" r="3.6"/>
<circle class="pt" cx="1751" cy="372.6" r="3.6"/>
<circle class="pt" cx="1372.1" cy="475.7" r="3.6"/>
<circle class="pt" cx="1373.6" cy="482.4" r="3.6"/>
<circle class="pt" cx="1382.9" cy="487.1" r="3.6"/>
<circle class="pt" cx="1424.3" cy="480.4" r="3.6"/>
<circle class="pt" cx="1433.6" cy="484.3" r="3.6"/>
<circle class="pt" cx="1432.9" cy="489.3" r="3.6"/>
<circle class="pt" cx="1456.9" cy="474.6" r="3.6"/>
<circle class="pt" cx="1463.6" cy="486.7" r="3.6"/>
<circle class="pt" cx="1461.7" cy="492.9" r="3.6"/>
<circle class="pt" cx="1452.1" cy="493.3" r="3.6"/>
<circle class="pt" cx="1486.4" cy="476.4" r="3.6"/>
<circle class="pt" cx="1492.1" cy="471.7" r="3.6"/>
<circle class="pt" cx="1505" cy="471.7" r="3.6"/>
<circle class="pt" cx="1497.4" cy="481" r="3.6"/>
<circle class="pt" cx="1487.4" cy="492.9" r="3.6"/>
<circle class="pt" cx="1495" cy="497.9" r="3.6"/>
<circle class="pt" cx="1507.1" cy="493.3" r="3.6"/>
<circle class="pt" cx="1507.9" cy="495.7" r="3.6"/>
<circle class="pt" cx="1515" cy="497.4" r="3.6"/>
<circle class="pt" cx="1519.6" cy="493.3" r="3.6"/>
<circle class="pt" cx="1520.3" cy="482.4" r="3.6"/>
<circle class="pt" cx="1529.6" cy="482.9" r="3.6"/>
<circle class="pt" cx="1540.7" cy="482.9" r="3.6"/>
<circle class="pt" cx="1541.4" cy="483.6" r="3.6"/>
<circle class="pt" cx="1546.4" cy="493.3" r="3.6"/>
<circle class="pt" cx="1557.1" cy="497.9" r="3.6"/>
<circle class="pt" cx="1562.6" cy="474.6" r="3.6"/>
<circle class="pt" cx="1576.4" cy="497.9" r="3.6"/>
<circle class="pt" cx="1582.9" cy="472.1" r="3.6"/>
<circle class="pt" cx="1595" cy="502.1" r="3.6"/>
<circle class="pt" cx="1608.3" cy="475.7" r="3.6"/>
<circle class="pt" cx="1613.6" cy="488.1" r="3.6"/>
<circle class="pt" cx="1608.6" cy="492.4" r="3.6"/>
<circle class="pt" cx="1615.7" cy="494.3" r="3.6"/>
<circle class="pt" cx="1616.4" cy="493.3" r="3.6"/>
<circle class="pt" cx="1607.1" cy="497.1" r="3.6"/>
<circle class="pt" cx="1618.9" cy="502.1" r="3.6"/>
<circle class="pt" cx="1624.3" cy="473.6" r="3.6"/>
<circle class="pt" cx="1630" cy="477.1" r="3.6"/>
<circle class="pt" cx="1636.4" cy="480.7" r="3.6"/>
<circle class="pt" cx="1623.6" cy="488.3" r="3.6"/>
<circle class="pt" cx="1635.4" cy="494.6" r="3.6"/>
<circle class="pt" cx="1642.9" cy="475.7" r="3.6"/>
<circle class="pt" cx="1647.6" cy="472.4" r="3.6"/>
<circle class="pt" cx="1648.1" cy="488.1" r="3.6"/>
<circle class="pt" cx="1682.9" cy="483.3" r="3.6"/>
<circle class="pt" cx="1678.6" cy="488.1" r="3.6"/>
<circle class="pt" cx="1694.3" cy="472.9" r="3.6"/>
<circle class="pt" cx="1696" cy="480.7" r="3.6"/>
<circle class="pt" cx="1692.9" cy="487.1" r="3.6"/>
<circle class="pt" cx="1686.4" cy="500.4" r="3.6"/>
<circle class="pt" cx="1686.7" cy="501.4" r="3.6"/>
<circle class="pt" cx="1709.6" cy="496" r="3.6"/>
<circle class="pt" cx="1736.9" cy="472.1" r="3.6"/>
<circle class="pt" cx="1730.7" cy="482.9" r="3.6"/>
<circle class="pt" cx="1731.1" cy="483.3" r="3.6"/>
<circle class="pt" cx="1733.3" cy="500" r="3.6"/>
<circle class="pt" cx="1749.3" cy="492.4" r="3.6"/>
<circle class="pt" cx="1767.9" cy="497.1" r="3.6"/>
<circle class="pt" cx="1795.4" cy="490.7" r="3.6"/>
<circle class="pt" cx="1819.3" cy="472.1" r="3.6"/>
<circle class="pt" cx="1819.3" cy="502.1" r="3.6"/>
<circle class="pt" cx="1289.3" cy="592.3" r="3.6"/>
<circle class="pt" cx="1313.3" cy="596.3" r="3.6"/>
<circle class="pt" cx="1355.1" cy="602.8" r="3.6"/>
<circle class="pt" cx="1417" cy="576.8" r="3.6"/>
<circle class="pt" cx="1416.2" cy="581.1" r="3.6"/>
<circle class="pt" cx="1423.2" cy="587.6" r="3.6"/>
<circle class="pt" cx="1427.1" cy="593.8" r="3.6"/>
<circle class="pt" cx="1424.8" cy="600" r="3.6"/>
<circle class="pt" cx="1433" cy="583" r="3.6"/>
<circle class="pt" cx="1441" cy="594" r="3.6"/>
<circle class="pt" cx="1441.5" cy="594.7" r="3.6"/>
<circle class="pt" cx="1444.9" cy="607.4" r="3.6"/>
<circle class="pt" cx="1454.9" cy="604.3" r="3.6"/>
<circle class="pt" cx="1457.7" cy="578.5" r="3.6"/>
<circle class="pt" cx="1473" cy="579.1" r="3.6"/>
<circle class="pt" cx="1473.8" cy="607.4" r="3.6"/>
<circle class="pt" cx="1485.6" cy="603.9" r="3.6"/>
<circle class="pt" cx="1491.3" cy="607.9" r="3.6"/>
<circle class="pt" cx="1503.7" cy="607.9" r="3.6"/>
<circle class="pt" cx="1505.5" cy="594" r="3.6"/>
<circle class="pt" cx="1509.9" cy="584.7" r="3.6"/>
<circle class="pt" cx="1513.8" cy="607.4" r="3.6"/>
<circle class="pt" cx="1519.5" cy="591.5" r="3.6"/>
<circle class="pt" cx="1519.2" cy="605.1" r="3.6"/>
<circle class="pt" cx="1523.8" cy="602" r="3.6"/>
<circle class="pt" cx="1526.9" cy="577.2" r="3.6"/>
<circle class="pt" cx="1562.9" cy="581.9" r="3.6"/>
<circle class="pt" cx="1562.9" cy="589.1" r="3.6"/>
<circle class="pt" cx="1562.9" cy="593.1" r="3.6"/>
<circle class="pt" cx="1562.9" cy="599.6" r="3.6"/>
<circle class="pt" cx="1579.5" cy="592.3" r="3.6"/>
<circle class="pt" cx="1591.1" cy="593.1" r="3.6"/>
<circle class="pt" cx="1590.3" cy="598" r="3.6"/>
<circle class="pt" cx="1596.7" cy="590.7" r="3.6"/>
<circle class="pt" cx="1601.5" cy="595.6" r="3.6"/>
<circle class="pt" cx="1598.3" cy="599.6" r="3.6"/>
<circle class="pt" cx="1596.7" cy="602" r="3.6"/>
<circle class="pt" cx="1613.9" cy="576.8" r="3.6"/>
<circle class="pt" cx="1616.8" cy="590.4" r="3.6"/>
<circle class="pt" cx="1629.6" cy="602" r="3.6"/>
<circle class="pt" cx="1628.4" cy="604.4" r="3.6"/>
<circle class="pt" cx="1643" cy="607.6" r="3.6"/>
<circle class="pt" cx="1640.4" cy="578.4" r="3.6"/>
<circle class="pt" cx="1665.5" cy="576.6" r="3.6"/>
<circle class="pt" cx="1670.6" cy="579.8" r="3.6"/>
<circle class="pt" cx="1678.7" cy="580.8" r="3.6"/>
<circle class="pt" cx="1699.9" cy="581.9" r="3.6"/>
<circle class="pt" cx="1705.2" cy="585.9" r="3.6"/>
<circle class="pt" cx="1720.1" cy="584.8" r="3.6"/>
<circle class="pt" cx="1719.6" cy="597.6" r="3.6"/>
<circle class="pt" cx="1785.5" cy="598.8" r="3.6"/>
<circle class="pt" cx="1783.4" cy="602.5" r="3.6"/>
<circle class="pt" cx="1285.8" cy="692.2" r="3.6"/>
<circle class="pt" cx="1296.2" cy="684.8" r="3.6"/>
<circle class="pt" cx="1320.6" cy="699.6" r="3.6"/>
<circle class="pt" cx="1317.6" cy="713" r="3.6"/>
<circle class="pt" cx="1331.7" cy="690.8" r="3.6"/>
<circle class="pt" cx="1338.2" cy="696.1" r="3.6"/>
<circle class="pt" cx="1350.6" cy="691.4" r="3.6"/>
<circle class="pt" cx="1353.3" cy="697.3" r="3.6"/>
<circle class="pt" cx="1357.7" cy="712.8" r="3.6"/>
<circle class="pt" cx="1370.2" cy="697.3" r="3.6"/>
<circle class="pt" cx="1370.6" cy="705.9" r="3.6"/>
<circle class="pt" cx="1381.3" cy="699.1" r="3.6"/>
<circle class="pt" cx="1384" cy="704.1" r="3.6"/>
<circle class="pt" cx="1377.1" cy="708.9" r="3.6"/>
<circle class="pt" cx="1378.3" cy="709.5" r="3.6"/>
<circle class="pt" cx="1383.1" cy="707.7" r="3.6"/>
<circle class="pt" cx="1383.7" cy="711.8" r="3.6"/>
<circle class="pt" cx="1382.5" cy="712.4" r="3.6"/>
<circle class="pt" cx="1392" cy="705.5" r="3.6"/>
<circle class="pt" cx="1399.2" cy="700.5" r="3.6"/>
<circle class="pt" cx="1399.5" cy="707.7" r="3.6"/>
<circle class="pt" cx="1403.9" cy="702.9" r="3.6"/>
<circle class="pt" cx="1406.3" cy="693.4" r="3.6"/>
<circle class="pt" cx="1410.8" cy="702.3" r="3.6"/>
<circle class="pt" cx="1422.4" cy="687.2" r="3.6"/>
<circle class="pt" cx="1424.8" cy="697.3" r="3.6"/>
<circle class="pt" cx="1427.7" cy="705.3" r="3.6"/>
<circle class="pt" cx="1427.4" cy="707.7" r="3.6"/>
<circle class="pt" cx="1419.4" cy="712.4" r="3.6"/>
<circle class="pt" cx="1418.8" cy="713" r="3.6"/>
<circle class="pt" cx="1437.9" cy="692.8" r="3.6"/>
<circle class="pt" cx="1440.2" cy="685.6" r="3.6"/>
<circle class="pt" cx="1444.4" cy="684.5" r="3.6"/>
<circle class="pt" cx="1443.2" cy="697" r="3.6"/>
<circle class="pt" cx="1444.4" cy="700.5" r="3.6"/>
<circle class="pt" cx="1438.1" cy="704.7" r="3.6"/>
<circle class="pt" cx="1438.8" cy="713.3" r="3.6"/>
<circle class="pt" cx="1453.3" cy="697.2" r="3.6"/>
<circle class="pt" cx="1459.9" cy="703.9" r="3.6"/>
<circle class="pt" cx="1458.1" cy="706.5" r="3.6"/>
<circle class="pt" cx="1467.6" cy="687.4" r="3.6"/>
<circle class="pt" cx="1468.8" cy="713.6" r="3.6"/>
<circle class="pt" cx="1469.4" cy="705.3" r="3.6"/>
<circle class="pt" cx="1472.4" cy="681.5" r="3.6"/>
<circle class="pt" cx="1477.1" cy="686.5" r="3.6"/>
<circle class="pt" cx="1473" cy="701.7" r="3.6"/>
<circle class="pt" cx="1471.8" cy="705.3" r="3.6"/>
<circle class="pt" cx="1487.9" cy="697" r="3.6"/>
<circle class="pt" cx="1488.5" cy="707.7" r="3.6"/>
<circle class="pt" cx="1489" cy="713" r="3.6"/>
<circle class="pt" cx="1493.2" cy="713.6" r="3.6"/>
<circle class="pt" cx="1496.2" cy="694.6" r="3.6"/>
<circle class="pt" cx="1498" cy="697" r="3.6"/>
<circle class="pt" cx="1504.5" cy="683.3" r="3.6"/>
<circle class="pt" cx="1511.1" cy="688.6" r="3.6"/>
<circle class="pt" cx="1512.3" cy="694.6" r="3.6"/>
<circle class="pt" cx="1505.7" cy="700.5" r="3.6"/>
<circle class="pt" cx="1508.1" cy="700.5" r="3.6"/>
<circle class="pt" cx="1510.5" cy="706.5" r="3.6"/>
<circle class="pt" cx="1506.9" cy="711.8" r="3.6"/>
<circle class="pt" cx="1515.2" cy="702.9" r="3.6"/>
<circle class="pt" cx="1520.6" cy="706.5" r="3.6"/>
<circle class="pt" cx="1522.4" cy="692.8" r="3.6"/>
<circle class="pt" cx="1526.5" cy="687.4" r="3.6"/>
<circle class="pt" cx="1524.8" cy="685" r="3.6"/>
<circle class="pt" cx="1527.7" cy="690.4" r="3.6"/>
<circle class="pt" cx="1529.5" cy="682.7" r="3.6"/>
<circle class="pt" cx="1532.5" cy="682.1" r="3.6"/>
<circle class="pt" cx="1531.3" cy="691.6" r="3.6"/>
<circle class="pt" cx="1527.1" cy="697.5" r="3.6"/>
<circle class="pt" cx="1526.5" cy="702.9" r="3.6"/>
<circle class="pt" cx="1538.5" cy="682.7" r="3.6"/>
<circle class="pt" cx="1538.5" cy="685.6" r="3.6"/>
<circle class="pt" cx="1537.3" cy="702.9" r="3.6"/>
<circle class="pt" cx="1538.5" cy="713" r="3.6"/>
<circle class="pt" cx="1542.6" cy="706.5" r="3.6"/>
<circle class="pt" cx="1544.4" cy="707.7" r="3.6"/>
<circle class="pt" cx="1546.2" cy="691" r="3.6"/>
<circle class="pt" cx="1548" cy="695.2" r="3.6"/>
<circle class="pt" cx="1548.6" cy="683.3" r="3.6"/>
<circle class="pt" cx="1553.3" cy="680.9" r="3.6"/>
<circle class="pt" cx="1555.7" cy="689.2" r="3.6"/>
<circle class="pt" cx="1555.1" cy="697.5" r="3.6"/>
<circle class="pt" cx="1558.7" cy="702.3" r="3.6"/>
<circle class="pt" cx="1547.4" cy="704.1" r="3.6"/>
<circle class="pt" cx="1566.4" cy="682.7" r="3.6"/>
<circle class="pt" cx="1573" cy="682.7" r="3.6"/>
<circle class="pt" cx="1582.5" cy="698.1" r="3.6"/>
<circle class="pt" cx="1589.6" cy="699.6" r="3.6"/>
<circle class="pt" cx="1590.2" cy="683.9" r="3.6"/>
<circle class="pt" cx="1593.8" cy="683.9" r="3.6"/>
<circle class="pt" cx="1595" cy="693.4" r="3.6"/>
<circle class="pt" cx="1601.5" cy="688.6" r="3.6"/>
<circle class="pt" cx="1597.4" cy="708.3" r="3.6"/>
<circle class="pt" cx="1598" cy="713" r="3.6"/>
<circle class="pt" cx="1606.3" cy="711.8" r="3.6"/>
<circle class="pt" cx="1608.1" cy="705.3" r="3.6"/>
<circle class="pt" cx="1612.3" cy="697" r="3.6"/>
<circle class="pt" cx="1612.9" cy="701.7" r="3.6"/>
<circle class="pt" cx="1609.9" cy="689.8" r="3.6"/>
<circle class="pt" cx="1614" cy="682.7" r="3.6"/>
<circle class="pt" cx="1614.6" cy="691" r="3.6"/>
<circle class="pt" cx="1618.2" cy="710" r="3.6"/>
<circle class="pt" cx="1618.2" cy="712.4" r="3.6"/>
<circle class="pt" cx="1623.6" cy="711.2" r="3.6"/>
<circle class="pt" cx="1622.4" cy="697" r="3.6"/>
<circle class="pt" cx="1626" cy="701.1" r="3.6"/>
<circle class="pt" cx="1628.3" cy="703.5" r="3.6"/>
<circle class="pt" cx="1630.1" cy="690.4" r="3.6"/>
<circle class="pt" cx="1626" cy="689.8" r="3.6"/>
<circle class="pt" cx="1634.3" cy="701.1" r="3.6"/>
<circle class="pt" cx="1635.5" cy="683.9" r="3.6"/>
<circle class="pt" cx="1640.2" cy="689.2" r="3.6"/>
<circle class="pt" cx="1642.6" cy="691" r="3.6"/>
<circle class="pt" cx="1644.4" cy="693.4" r="3.6"/>
<circle class="pt" cx="1645" cy="707.1" r="3.6"/>
<circle class="pt" cx="1651.5" cy="705.9" r="3.6"/>
<circle class="pt" cx="1651.5" cy="713" r="3.6"/>
<circle class="pt" cx="1658.1" cy="702.9" r="3.6"/>
<circle class="pt" cx="1660.5" cy="697" r="3.6"/>
<circle class="pt" cx="1662.9" cy="701.7" r="3.6"/>
<circle class="pt" cx="1662.3" cy="708.3" r="3.6"/>
<circle class="pt" cx="1659.9" cy="685" r="3.6"/>
<circle class="pt" cx="1665.2" cy="686.2" r="3.6"/>
<circle class="pt" cx="1667.6" cy="691" r="3.6"/>
<circle class="pt" cx="1668.2" cy="694.6" r="3.6"/>
<circle class="pt" cx="1665.2" cy="704.1" r="3.6"/>
<circle class="pt" cx="1680.5" cy="690.4" r="3.6"/>
<circle class="pt" cx="1683.7" cy="692.8" r="3.6"/>
<circle class="pt" cx="1686.1" cy="695.2" r="3.6"/>
<circle class="pt" cx="1687.9" cy="687.4" r="3.6"/>
<circle class="pt" cx="1677.7" cy="698.1" r="3.6"/>
<circle class="pt" cx="1681.9" cy="702.9" r="3.6"/>
<circle class="pt" cx="1679.5" cy="707.1" r="3.6"/>
<circle class="pt" cx="1681.3" cy="710" r="3.6"/>
<circle class="pt" cx="1680.5" cy="712.4" r="3.6"/>
<circle class="pt" cx="1702.7" cy="685" r="3.6"/>
<circle class="pt" cx="1704.5" cy="687.4" r="3.6"/>
<circle class="pt" cx="1702.7" cy="690.4" r="3.6"/>
<circle class="pt" cx="1704.5" cy="691.6" r="3.6"/>
<circle class="pt" cx="1696.8" cy="713.6" r="3.6"/>
<circle class="pt" cx="1700.4" cy="711.8" r="3.6"/>
<circle class="pt" cx="1702.7" cy="710.6" r="3.6"/>
<circle class="pt" cx="1713.5" cy="684.5" r="3.6"/>
<circle class="pt" cx="1721.8" cy="686" r="3.6"/>
<circle class="pt" cx="1726.5" cy="682.1" r="3.6"/>
<circle class="pt" cx="1729.5" cy="684.5" r="3.6"/>
<circle class="pt" cx="1733.1" cy="688.6" r="3.6"/>
<circle class="pt" cx="1736.1" cy="683.3" r="3.6"/>
<circle class="pt" cx="1740.2" cy="686.8" r="3.6"/>
<circle class="pt" cx="1740.2" cy="689.8" r="3.6"/>
<circle class="pt" cx="1719.8" cy="697.9" r="3.6"/>
<circle class="pt" cx="1713.5" cy="712.4" r="3.6"/>
<circle class="pt" cx="1734.3" cy="704.1" r="3.6"/>
<circle class="pt" cx="1739" cy="702.3" r="3.6"/>
<circle class="pt" cx="1731.9" cy="709.5" r="3.6"/>
<circle class="pt" cx="1739" cy="713.6" r="3.6"/>
<circle class="pt" cx="1745" cy="713" r="3.6"/>
<circle class="pt" cx="1756.9" cy="696.7" r="3.6"/>
<circle class="pt" cx="1768.8" cy="700.3" r="3.6"/>
<circle class="pt" cx="1783.7" cy="682.7" r="3.6"/>
<circle class="pt" cx="1784.9" cy="688" r="3.6"/>
<circle class="pt" cx="1790.8" cy="684.5" r="3.6"/>
<circle class="pt" cx="1798" cy="683.9" r="3.6"/>
<circle class="pt" cx="1789.4" cy="704.7" r="3.6"/>
<circle class="pt" cx="1789.6" cy="708.9" r="3.6"/>
<circle class="pt" cx="1798.3" cy="713" r="3.6"/>
<circle class="pt" cx="1830.5" cy="695.5" r="3.6"/>
<circle class="pt" cx="1833.7" cy="709.8" r="3.6"/>
<circle class="pt" cx="1857.9" cy="695.5" r="3.6"/>
<circle class="pt" cx="1620.3" cy="696.7" r="3.6"/>
<circle class="pt" cx="1526.3" cy="695.4" r="3.6"/>
<circle class="pt" cx="1381.8" cy="712.3" r="3.6"/>
<circle class="pt" cx="1613.4" cy="703.5" r="3.6"/>
<circle class="pt" cx="1676.7" cy="700.1" r="3.6"/>
<circle class="pt" cx="1554.6" cy="686.2" r="3.6"/>
<circle class="pt" cx="1660.3" cy="699.5" r="3.6"/>
<circle class="pt" cx="1526.6" cy="682.4" r="3.6"/>
<circle class="pt" cx="1612.1" cy="690.8" r="3.6"/>
<circle class="pt" cx="1631.6" cy="704.2" r="3.6"/>
<circle class="pt" cx="1620.2" cy="698.5" r="3.6"/>
<circle class="pt" cx="1507.9" cy="697.8" r="3.6"/>
<circle class="pt" cx="1510.4" cy="701" r="3.6"/>
<circle class="pt" cx="1701.4" cy="682.3" r="3.6"/>
<circle class="pt" cx="1707.5" cy="692.2" r="3.6"/>
<circle class="pt" cx="1467.8" cy="706.5" r="3.6"/>
<circle class="pt" cx="1530.4" cy="688.5" r="3.6"/>
<circle class="pt" cx="1670.2" cy="695.6" r="3.6"/>
<circle class="pt" cx="1660" cy="703.4" r="3.6"/>
<circle class="pt" cx="1392.9" cy="703.6" r="3.6"/>
<rect class="bx" fill="#FFA500" x="1525" y="52.4" width="59.7" height="25.8"/>
<line class="md" x1="1555" y1="52.4" x2="1555" y2="78.2"/>
<polygon class="dm" points="1546.8,65.3 1555,57.6 1563.2,65.3 1555,73"/>
<rect class="bx" fill="#FB794A" x="1451.4" y="157.9" width="25.6" height="25.8"/>
<line class="md" x1="1464.2" y1="157.9" x2="1464.2" y2="183.7"/>
<polygon class="dm" points="1456,170.8 1464.2,163.1 1472.4,170.8 1464.2,178.5"/>
<rect class="bx" fill="#F05576" x="1538.9" y="263.4" width="19.7" height="25.8"/>
<line class="md" x1="1548.7" y1="263.4" x2="1548.7" y2="289.2"/>
<polygon class="dm" points="1540.5,276.3 1548.7,268.6 1556.9,276.3 1548.7,284"/>
<rect class="bx" fill="#C05091" x="1533.8" y="369" width="28.7" height="25.8"/>
<line class="md" x1="1548.1" y1="369" x2="1548.1" y2="394.8"/>
<polygon class="dm" points="1539.9,381.9 1548.1,374.2 1556.3,381.9 1548.1,389.6"/>
<rect class="bx" fill="#7C5296" x="1578.2" y="474.5" width="25.8" height="25.8"/>
<line class="md" x1="1591.3" y1="474.5" x2="1591.3" y2="500.3"/>
<polygon class="dm" points="1583.1,487.4 1591.3,479.7 1599.5,487.4 1591.3,495.1"/>
<rect class="bx" fill="#384E84" x="1531.3" y="580" width="29.8" height="25.8"/>
<line class="md" x1="1546" y1="580" x2="1546" y2="605.8"/>
<polygon class="dm" points="1537.8,592.9 1546,585.2 1554.2,592.9 1546,600.6"/>
<rect class="bx" fill="#0C1C34" x="1561.9" y="685.5" width="16.5" height="25.8"/>
<line class="md" x1="1569.9" y1="685.5" x2="1569.9" y2="711.3"/>
<polygon class="dm" points="1561.7,698.4 1569.9,690.7 1578.1,698.4 1569.9,706.1"/>
<path class="ax" d="M1181.3 2V761.7H1940"/>
<text class="tk one" x="1208.4" y="788.7">1</text>
<text class="tk" x="1379.6" y="788.7">2</text>
<text class="tk" x="1552.3" y="788.7">3</text>
<text class="tk" x="1725" y="788.7">4</text>
<text class="tk" x="1897.7" y="788.7">5</text>
<text class="tt" x="1560.7" y="825.2">Emotionality</text>
</g>
<text class="lb" x="384.3" y="76.7">Liver Donor</text>
<text class="lb" x="384.3" y="182.2">Heroic Rescuer</text>
<text class="lb" x="384.3" y="287.7">Kidney Donor (ND)</text>
<text class="lb" x="384.3" y="393.2">Humanitarian Aid Worker</text>
<text class="lb" x="384.3" y="498.8">Kidney Donor (D)</text>
<text class="lb" x="384.3" y="604.3">Marrow Donor</text>
<text class="lb" x="384.3" y="709.8">Control</text>
<text class="tt" transform="translate(28.3 381.9) rotate(-90)" x="0" y="0">Group</text>
<g>
<rect class="yb" x="836.7" y="858.4" width="31.6" height="759.7"/>
<rect class="gb" x="840.8" y="858.4" width="15.6" height="759.7"/>
<line class="gd" x1="848.5" y1="1618.1" x2="848.5" y2="858.4"/>
<line class="yd" x1="851.8" y1="1618.1" x2="851.8" y2="858.4"/>
<circle class="pt" cx="698.1" cy="906.2" r="3.6"/>
<circle class="pt" cx="729.5" cy="911.9" r="3.6"/>
<circle class="pt" cx="757.5" cy="909.2" r="3.6"/>
<circle class="pt" cx="715.2" cy="927.3" r="3.6"/>
<circle class="pt" cx="803.4" cy="937.2" r="3.6"/>
<circle class="pt" cx="874.3" cy="920.5" r="3.6"/>
<circle class="pt" cx="884.4" cy="931.3" r="3.6"/>
<circle class="pt" cx="894.3" cy="933" r="3.6"/>
<circle class="pt" cx="972.4" cy="919" r="3.6"/>
<circle class="pt" cx="611.4" cy="1035" r="3.6"/>
<circle class="pt" cx="633.7" cy="1030.4" r="3.6"/>
<circle class="pt" cx="643.4" cy="1020.7" r="3.6"/>
<circle class="pt" cx="653.1" cy="1035" r="3.6"/>
<circle class="pt" cx="751.4" cy="1028.1" r="3.6"/>
<circle class="pt" cx="762.9" cy="1041.3" r="3.6"/>
<circle class="pt" cx="808" cy="1021.6" r="3.6"/>
<circle class="pt" cx="806.9" cy="1023.6" r="3.6"/>
<circle class="pt" cx="819.4" cy="1026.4" r="3.6"/>
<circle class="pt" cx="824.3" cy="1016.4" r="3.6"/>
<circle class="pt" cx="868.6" cy="1041.3" r="3.6"/>
<circle class="pt" cx="878" cy="1018.4" r="3.6"/>
<circle class="pt" cx="884.3" cy="1023" r="3.6"/>
<circle class="pt" cx="922" cy="1043" r="3.6"/>
<circle class="pt" cx="943.4" cy="1035.6" r="3.6"/>
<circle class="pt" cx="959.1" cy="1031.3" r="3.6"/>
<circle class="pt" cx="991.4" cy="1035" r="3.6"/>
<circle class="pt" cx="993.7" cy="1026.4" r="3.6"/>
<circle class="pt" cx="997.1" cy="1022.1" r="3.6"/>
<circle class="pt" cx="998.6" cy="1013.9" r="3.6"/>
<circle class="pt" cx="1068.6" cy="1031.6" r="3.6"/>
<circle class="pt" cx="601.9" cy="1145.6" r="3.6"/>
<circle class="pt" cx="635.4" cy="1133" r="3.6"/>
<circle class="pt" cx="675.6" cy="1124.8" r="3.6"/>
<circle class="pt" cx="684.5" cy="1140.4" r="3.6"/>
<circle class="pt" cx="720.2" cy="1116.9" r="3.6"/>
<circle class="pt" cx="727.2" cy="1120.6" r="3.6"/>
<circle class="pt" cx="716.2" cy="1125.1" r="3.6"/>
<circle class="pt" cx="714" cy="1130.3" r="3.6"/>
<circle class="pt" cx="718.4" cy="1139.4" r="3.6"/>
<circle class="pt" cx="734" cy="1134.5" r="3.6"/>
<circle class="pt" cx="740" cy="1137" r="3.6"/>
<circle class="pt" cx="747" cy="1120.3" r="3.6"/>
<circle class="pt" cx="750.7" cy="1133" r="3.6"/>
<circle class="pt" cx="749.7" cy="1139.4" r="3.6"/>
<circle class="pt" cx="752.2" cy="1144.6" r="3.6"/>
<circle class="pt" cx="758.2" cy="1137" r="3.6"/>
<circle class="pt" cx="764.1" cy="1123.6" r="3.6"/>
<circle class="pt" cx="774.1" cy="1123" r="3.6"/>
<circle class="pt" cx="770.1" cy="1132.5" r="3.6"/>
<circle class="pt" cx="769.6" cy="1136.4" r="3.6"/>
<circle class="pt" cx="779.7" cy="1131.5" r="3.6"/>
<circle class="pt" cx="779.7" cy="1133" r="3.6"/>
<circle class="pt" cx="786.1" cy="1127.5" r="3.6"/>
<circle class="pt" cx="781.2" cy="1146.4" r="3.6"/>
<circle class="pt" cx="797.6" cy="1121.8" r="3.6"/>
<circle class="pt" cx="799.1" cy="1125.6" r="3.6"/>
<circle class="pt" cx="803.1" cy="1137" r="3.6"/>
<circle class="pt" cx="806.5" cy="1144.6" r="3.6"/>
<circle class="pt" cx="814" cy="1120.3" r="3.6"/>
<circle class="pt" cx="817.7" cy="1124.1" r="3.6"/>
<circle class="pt" cx="822.1" cy="1123.6" r="3.6"/>
<circle class="pt" cx="823.6" cy="1131.2" r="3.6"/>
<circle class="pt" cx="818.4" cy="1136.7" r="3.6"/>
<circle class="pt" cx="818.4" cy="1139.7" r="3.6"/>
<circle class="pt" cx="818.7" cy="1144.2" r="3.6"/>
<circle class="pt" cx="832.3" cy="1145.2" r="3.6"/>
<circle class="pt" cx="834.8" cy="1121.8" r="3.6"/>
<circle class="pt" cx="838.5" cy="1130.8" r="3.6"/>
<circle class="pt" cx="843" cy="1117.4" r="3.6"/>
<circle class="pt" cx="842.2" cy="1130.8" r="3.6"/>
<circle class="pt" cx="843" cy="1145.6" r="3.6"/>
<circle class="pt" cx="848.9" cy="1136" r="3.6"/>
<circle class="pt" cx="851.2" cy="1144.9" r="3.6"/>
<circle class="pt" cx="853.4" cy="1125.6" r="3.6"/>
<circle class="pt" cx="852.6" cy="1127.8" r="3.6"/>
<circle class="pt" cx="861.6" cy="1127" r="3.6"/>
<circle class="pt" cx="866.8" cy="1121.1" r="3.6"/>
<circle class="pt" cx="866.8" cy="1131.5" r="3.6"/>
<circle class="pt" cx="869.8" cy="1145.6" r="3.6"/>
<circle class="pt" cx="891.3" cy="1133.7" r="3.6"/>
<circle class="pt" cx="891.3" cy="1138.9" r="3.6"/>
<circle class="pt" cx="894.3" cy="1122.6" r="3.6"/>
<circle class="pt" cx="901" cy="1136.7" r="3.6"/>
<circle class="pt" cx="904" cy="1138.9" r="3.6"/>
<circle class="pt" cx="902.5" cy="1146.4" r="3.6"/>
<circle class="pt" cx="899.5" cy="1145.6" r="3.6"/>
<circle class="pt" cx="905.5" cy="1127" r="3.6"/>
<circle class="pt" cx="907.7" cy="1121.8" r="3.6"/>
<circle class="pt" cx="908.5" cy="1137.5" r="3.6"/>
<circle class="pt" cx="912.6" cy="1130.8" r="3.6"/>
<circle class="pt" cx="919.2" cy="1148.3" r="3.6"/>
<circle class="pt" cx="923.3" cy="1119.6" r="3.6"/>
<circle class="pt" cx="927.8" cy="1124.8" r="3.6"/>
<circle class="pt" cx="922.1" cy="1134.5" r="3.6"/>
<circle class="pt" cx="924.8" cy="1138.2" r="3.6"/>
<circle class="pt" cx="934.5" cy="1125.6" r="3.6"/>
<circle class="pt" cx="939.7" cy="1124.5" r="3.6"/>
<circle class="pt" cx="944.9" cy="1117.4" r="3.6"/>
<circle class="pt" cx="946.4" cy="1127.8" r="3.6"/>
<circle class="pt" cx="942.7" cy="1135.2" r="3.6"/>
<circle class="pt" cx="945.4" cy="1140" r="3.6"/>
<circle class="pt" cx="953.1" cy="1137.9" r="3.6"/>
<circle class="pt" cx="956.5" cy="1117.7" r="3.6"/>
<circle class="pt" cx="957.6" cy="1130" r="3.6"/>
<circle class="pt" cx="959" cy="1142.7" r="3.6"/>
<circle class="pt" cx="960.5" cy="1141.9" r="3.6"/>
<circle class="pt" cx="963.5" cy="1124.5" r="3.6"/>
<circle class="pt" cx="970.7" cy="1125.6" r="3.6"/>
<circle class="pt" cx="971" cy="1130.8" r="3.6"/>
<circle class="pt" cx="976.2" cy="1133.7" r="3.6"/>
<circle class="pt" cx="979.9" cy="1133" r="3.6"/>
<circle class="pt" cx="982.1" cy="1133" r="3.6"/>
<circle class="pt" cx="976.9" cy="1140.4" r="3.6"/>
<circle class="pt" cx="993.3" cy="1137.5" r="3.6"/>
<circle class="pt" cx="998.2" cy="1125.3" r="3.6"/>
<circle class="pt" cx="1005.5" cy="1123.3" r="3.6"/>
<circle class="pt" cx="1003.7" cy="1137" r="3.6"/>
<circle class="pt" cx="1009.2" cy="1132.5" r="3.6"/>
<circle class="pt" cx="1003.7" cy="1145.9" r="3.6"/>
<circle class="pt" cx="1013.4" cy="1147.9" r="3.6"/>
<circle class="pt" cx="1026.8" cy="1140.9" r="3.6"/>
<circle class="pt" cx="1031.2" cy="1124.8" r="3.6"/>
<circle class="pt" cx="1042.4" cy="1119.9" r="3.6"/>
<circle class="pt" cx="1046.1" cy="1119.9" r="3.6"/>
<circle class="pt" cx="1049.1" cy="1124.5" r="3.6"/>
<circle class="pt" cx="1048" cy="1130.5" r="3.6"/>
<circle class="pt" cx="1057.3" cy="1120.3" r="3.6"/>
<circle class="pt" cx="1075.9" cy="1128.8" r="3.6"/>
<circle class="pt" cx="1085.5" cy="1120" r="3.6"/>
<circle class="pt" cx="1085.8" cy="1134.5" r="3.6"/>
<circle class="pt" cx="905.8" cy="1139.1" r="3.6"/>
<circle class="pt" cx="909.1" cy="1135.2" r="3.6"/>
<circle class="pt" cx="855.1" cy="1126" r="3.6"/>
<circle class="pt" cx="780.5" cy="1135.8" r="3.6"/>
<circle class="pt" cx="893.5" cy="1133.4" r="3.6"/>
<circle class="pt" cx="982.2" cy="1134.5" r="3.6"/>
<circle class="pt" cx="911.2" cy="1128.7" r="3.6"/>
<circle class="pt" cx="908.8" cy="1135.6" r="3.6"/>
<circle class="pt" cx="905.5" cy="1135.6" r="3.6"/>
<circle class="pt" cx="805.2" cy="1145.4" r="3.6"/>
<circle class="pt" cx="662.8" cy="1239.3" r="3.6"/>
<circle class="pt" cx="665.9" cy="1239.3" r="3.6"/>
<circle class="pt" cx="698.1" cy="1239.3" r="3.6"/>
<circle class="pt" cx="722.9" cy="1232.6" r="3.6"/>
<circle class="pt" cx="746.2" cy="1248.5" r="3.6"/>
<circle class="pt" cx="767.5" cy="1223.1" r="3.6"/>
<circle class="pt" cx="768.2" cy="1241.1" r="3.6"/>
<circle class="pt" cx="790" cy="1224.9" r="3.6"/>
<circle class="pt" cx="787.7" cy="1235.7" r="3.6"/>
<circle class="pt" cx="792.3" cy="1247" r="3.6"/>
<circle class="pt" cx="824" cy="1224.9" r="3.6"/>
<circle class="pt" cx="823" cy="1238.8" r="3.6"/>
<circle class="pt" cx="826.6" cy="1241.3" r="3.6"/>
<circle class="pt" cx="817.6" cy="1243.6" r="3.6"/>
<circle class="pt" cx="836.8" cy="1228.5" r="3.6"/>
<circle class="pt" cx="835.6" cy="1247.5" r="3.6"/>
<circle class="pt" cx="848.4" cy="1243.9" r="3.6"/>
<circle class="pt" cx="866.3" cy="1251" r="3.6"/>
<circle class="pt" cx="888.5" cy="1221.9" r="3.6"/>
<circle class="pt" cx="894.4" cy="1247" r="3.6"/>
<circle class="pt" cx="894.4" cy="1251.6" r="3.6"/>
<circle class="pt" cx="899.6" cy="1240" r="3.6"/>
<circle class="pt" cx="904.2" cy="1241.8" r="3.6"/>
<circle class="pt" cx="905.2" cy="1230.6" r="3.6"/>
<circle class="pt" cx="911.1" cy="1230.6" r="3.6"/>
<circle class="pt" cx="911.6" cy="1244.4" r="3.6"/>
<circle class="pt" cx="917.5" cy="1244.9" r="3.6"/>
<circle class="pt" cx="920.8" cy="1236.7" r="3.6"/>
<circle class="pt" cx="925.1" cy="1248.7" r="3.6"/>
<circle class="pt" cx="928.5" cy="1250" r="3.6"/>
<circle class="pt" cx="937.4" cy="1224.4" r="3.6"/>
<circle class="pt" cx="947.4" cy="1223.9" r="3.6"/>
<circle class="pt" cx="941.3" cy="1243.1" r="3.6"/>
<circle class="pt" cx="947.7" cy="1245.4" r="3.6"/>
<circle class="pt" cx="957.7" cy="1222.9" r="3.6"/>
<circle class="pt" cx="958.4" cy="1236.2" r="3.6"/>
<circle class="pt" cx="972.5" cy="1243.1" r="3.6"/>
<circle class="pt" cx="978.9" cy="1226" r="3.6"/>
<circle class="pt" cx="980.2" cy="1253.4" r="3.6"/>
<circle class="pt" cx="991.2" cy="1230.3" r="3.6"/>
<circle class="pt" cx="1010.4" cy="1252.8" r="3.6"/>
<circle class="pt" cx="1016.8" cy="1234.7" r="3.6"/>
<circle class="pt" cx="1065.9" cy="1236.7" r="3.6"/>
<circle class="pt" cx="572.1" cy="1347.3" r="3.6"/>
<circle class="pt" cx="628.1" cy="1337.3" r="3.6"/>
<circle class="pt" cx="649.6" cy="1337.3" r="3.6"/>
<circle class="pt" cx="666.4" cy="1344.9" r="3.6"/>
<circle class="pt" cx="664" cy="1349.6" r="3.6"/>
<circle class="pt" cx="717.1" cy="1333.7" r="3.6"/>
<circle class="pt" cx="731.4" cy="1340.1" r="3.6"/>
<circle class="pt" cx="735.7" cy="1340.1" r="3.6"/>
<circle class="pt" cx="745.3" cy="1344.9" r="3.6"/>
<circle class="pt" cx="738.6" cy="1349.4" r="3.6"/>
<circle class="pt" cx="744.3" cy="1349.9" r="3.6"/>
<circle class="pt" cx="747.1" cy="1349.9" r="3.6"/>
<circle class="pt" cx="739.7" cy="1358.4" r="3.6"/>
<circle class="pt" cx="751.4" cy="1358.9" r="3.6"/>
<circle class="pt" cx="764.7" cy="1328.1" r="3.6"/>
<circle class="pt" cx="768.9" cy="1353.4" r="3.6"/>
<circle class="pt" cx="783.6" cy="1349.9" r="3.6"/>
<circle class="pt" cx="784.3" cy="1349.9" r="3.6"/>
<circle class="pt" cx="789.3" cy="1349.6" r="3.6"/>
<circle class="pt" cx="796.4" cy="1341" r="3.6"/>
<circle class="pt" cx="796.1" cy="1345.6" r="3.6"/>
<circle class="pt" cx="820" cy="1328.4" r="3.6"/>
<circle class="pt" cx="820.7" cy="1330.6" r="3.6"/>
<circle class="pt" cx="825.7" cy="1334.1" r="3.6"/>
<circle class="pt" cx="815" cy="1339.1" r="3.6"/>
<circle class="pt" cx="818.6" cy="1338.4" r="3.6"/>
<circle class="pt" cx="815.4" cy="1344.1" r="3.6"/>
<circle class="pt" cx="834.3" cy="1332" r="3.6"/>
<circle class="pt" cx="834.3" cy="1338.9" r="3.6"/>
<circle class="pt" cx="833.6" cy="1348.4" r="3.6"/>
<circle class="pt" cx="831.4" cy="1353.4" r="3.6"/>
<circle class="pt" cx="835" cy="1354.1" r="3.6"/>
<circle class="pt" cx="867.9" cy="1332.7" r="3.6"/>
<circle class="pt" cx="890" cy="1328.9" r="3.6"/>
<circle class="pt" cx="895" cy="1330.3" r="3.6"/>
<circle class="pt" cx="886.4" cy="1340.3" r="3.6"/>
<circle class="pt" cx="883.6" cy="1343.7" r="3.6"/>
<circle class="pt" cx="896.4" cy="1359.1" r="3.6"/>
<circle class="pt" cx="910" cy="1339.1" r="3.6"/>
<circle class="pt" cx="919.7" cy="1346.7" r="3.6"/>
<circle class="pt" cx="918.6" cy="1349.4" r="3.6"/>
<circle class="pt" cx="917.1" cy="1352.7" r="3.6"/>
<circle class="pt" cx="912.9" cy="1354.1" r="3.6"/>
<circle class="pt" cx="923.1" cy="1354.9" r="3.6"/>
<circle class="pt" cx="930" cy="1351.3" r="3.6"/>
<circle class="pt" cx="926.9" cy="1339.1" r="3.6"/>
<circle class="pt" cx="936.4" cy="1330.3" r="3.6"/>
<circle class="pt" cx="940.7" cy="1340.3" r="3.6"/>
<circle class="pt" cx="947.4" cy="1337.3" r="3.6"/>
<circle class="pt" cx="954.3" cy="1329.1" r="3.6"/>
<circle class="pt" cx="962.1" cy="1328.4" r="3.6"/>
<circle class="pt" cx="965.3" cy="1337.3" r="3.6"/>
<circle class="pt" cx="954" cy="1354.4" r="3.6"/>
<circle class="pt" cx="975.7" cy="1359.1" r="3.6"/>
<circle class="pt" cx="979.3" cy="1354.1" r="3.6"/>
<circle class="pt" cx="980.7" cy="1356.3" r="3.6"/>
<circle class="pt" cx="991.4" cy="1351.3" r="3.6"/>
<circle class="pt" cx="993.6" cy="1356.3" r="3.6"/>
<circle class="pt" cx="1012.1" cy="1331.6" r="3.6"/>
<circle class="pt" cx="1022.1" cy="1333.4" r="3.6"/>
<circle class="pt" cx="1028.3" cy="1328.4" r="3.6"/>
<circle class="pt" cx="617.9" cy="1450.1" r="3.6"/>
<circle class="pt" cx="629.3" cy="1458.7" r="3.6"/>
<circle class="pt" cx="665.7" cy="1435.1" r="3.6"/>
<circle class="pt" cx="671.4" cy="1436.3" r="3.6"/>
<circle class="pt" cx="683.9" cy="1449.1" r="3.6"/>
<circle class="pt" cx="662.9" cy="1460.6" r="3.6"/>
<circle class="pt" cx="665.7" cy="1458.4" r="3.6"/>
<circle class="pt" cx="732.9" cy="1435.6" r="3.6"/>
<circle class="pt" cx="728.3" cy="1452.7" r="3.6"/>
<circle class="pt" cx="720" cy="1455.3" r="3.6"/>
<circle class="pt" cx="745.7" cy="1448.4" r="3.6"/>
<circle class="pt" cx="740.4" cy="1452.3" r="3.6"/>
<circle class="pt" cx="751" cy="1464.1" r="3.6"/>
<circle class="pt" cx="786.9" cy="1441" r="3.6"/>
<circle class="pt" cx="797.9" cy="1433.7" r="3.6"/>
<circle class="pt" cx="787.6" cy="1450.9" r="3.6"/>
<circle class="pt" cx="786.9" cy="1454.9" r="3.6"/>
<circle class="pt" cx="780.3" cy="1460.6" r="3.6"/>
<circle class="pt" cx="797.1" cy="1447.7" r="3.6"/>
<circle class="pt" cx="800" cy="1450.9" r="3.6"/>
<circle class="pt" cx="805" cy="1448.1" r="3.6"/>
<circle class="pt" cx="822.1" cy="1433.1" r="3.6"/>
<circle class="pt" cx="820.7" cy="1444.1" r="3.6"/>
<circle class="pt" cx="822.1" cy="1456.3" r="3.6"/>
<circle class="pt" cx="830.7" cy="1462.7" r="3.6"/>
<circle class="pt" cx="856.4" cy="1457.7" r="3.6"/>
<circle class="pt" cx="854.3" cy="1464.1" r="3.6"/>
<circle class="pt" cx="867.1" cy="1454.4" r="3.6"/>
<circle class="pt" cx="873.6" cy="1433.4" r="3.6"/>
<circle class="pt" cx="876.4" cy="1441.3" r="3.6"/>
<circle class="pt" cx="876.4" cy="1447" r="3.6"/>
<circle class="pt" cx="875.7" cy="1454.4" r="3.6"/>
<circle class="pt" cx="890.7" cy="1434.1" r="3.6"/>
<circle class="pt" cx="891.4" cy="1449.9" r="3.6"/>
<circle class="pt" cx="888.6" cy="1461" r="3.6"/>
<circle class="pt" cx="900.3" cy="1435.1" r="3.6"/>
<circle class="pt" cx="899.7" cy="1439.6" r="3.6"/>
<circle class="pt" cx="908.3" cy="1438.4" r="3.6"/>
<circle class="pt" cx="913.1" cy="1442.4" r="3.6"/>
<circle class="pt" cx="927.1" cy="1460.6" r="3.6"/>
<circle class="pt" cx="929.3" cy="1463.9" r="3.6"/>
<circle class="pt" cx="964" cy="1437.7" r="3.6"/>
<circle class="pt" cx="986.9" cy="1437.7" r="3.6"/>
<circle class="pt" cx="993.6" cy="1438.7" r="3.6"/>
<circle class="pt" cx="980.4" cy="1448.7" r="3.6"/>
<circle class="pt" cx="980.7" cy="1463.9" r="3.6"/>
<circle class="pt" cx="1012.1" cy="1445.9" r="3.6"/>
<circle class="pt" cx="1022.6" cy="1464.6" r="3.6"/>
<circle class="pt" cx="1040.7" cy="1463.9" r="3.6"/>
<circle class="pt" cx="1046.1" cy="1450.9" r="3.6"/>
<circle class="pt" cx="545.8" cy="1541.7" r="3.6"/>
<circle class="pt" cx="574.4" cy="1539.1" r="3.6"/>
<circle class="pt" cx="584.5" cy="1540.9" r="3.6"/>
<circle class="pt" cx="592.5" cy="1553.8" r="3.6"/>
<circle class="pt" cx="575.6" cy="1566.3" r="3.6"/>
<circle class="pt" cx="613.5" cy="1542" r="3.6"/>
<circle class="pt" cx="625" cy="1544.1" r="3.6"/>
<circle class="pt" cx="607.8" cy="1563.1" r="3.6"/>
<circle class="pt" cx="631.2" cy="1561.1" r="3.6"/>
<circle class="pt" cx="626.5" cy="1569.6" r="3.6"/>
<circle class="pt" cx="644.8" cy="1546.8" r="3.6"/>
<circle class="pt" cx="649.9" cy="1549.4" r="3.6"/>
<circle class="pt" cx="654.2" cy="1543.6" r="3.6"/>
<circle class="pt" cx="661.8" cy="1546" r="3.6"/>
<circle class="pt" cx="666.3" cy="1548.1" r="3.6"/>
<circle class="pt" cx="645.4" cy="1562" r="3.6"/>
<circle class="pt" cx="648.2" cy="1566" r="3.6"/>
<circle class="pt" cx="646.8" cy="1568.5" r="3.6"/>
<circle class="pt" cx="647.6" cy="1567.1" r="3.6"/>
<circle class="pt" cx="662.9" cy="1568.8" r="3.6"/>
<circle class="pt" cx="678.5" cy="1542" r="3.6"/>
<circle class="pt" cx="679.3" cy="1555.2" r="3.6"/>
<circle class="pt" cx="703" cy="1540.5" r="3.6"/>
<circle class="pt" cx="703.6" cy="1541.1" r="3.6"/>
<circle class="pt" cx="692.9" cy="1552.7" r="3.6"/>
<circle class="pt" cx="693.4" cy="1553.3" r="3.6"/>
<circle class="pt" cx="693.4" cy="1564.5" r="3.6"/>
<circle class="pt" cx="697.4" cy="1569.9" r="3.6"/>
<circle class="pt" cx="704.7" cy="1569.4" r="3.6"/>
<circle class="pt" cx="713.8" cy="1553" r="3.6"/>
<circle class="pt" cx="713.8" cy="1558.6" r="3.6"/>
<circle class="pt" cx="718.3" cy="1559.8" r="3.6"/>
<circle class="pt" cx="719.4" cy="1565.4" r="3.6"/>
<circle class="pt" cx="722.3" cy="1554.7" r="3.6"/>
<circle class="pt" cx="722.8" cy="1560.3" r="3.6"/>
<circle class="pt" cx="722.3" cy="1564.8" r="3.6"/>
<circle class="pt" cx="739.8" cy="1539.4" r="3.6"/>
<circle class="pt" cx="739.8" cy="1547.3" r="3.6"/>
<circle class="pt" cx="740.9" cy="1552.4" r="3.6"/>
<circle class="pt" cx="734.7" cy="1556.9" r="3.6"/>
<circle class="pt" cx="732.4" cy="1562" r="3.6"/>
<circle class="pt" cx="733" cy="1566" r="3.6"/>
<circle class="pt" cx="745.4" cy="1555.8" r="3.6"/>
<circle class="pt" cx="744.9" cy="1559.2" r="3.6"/>
<circle class="pt" cx="751.1" cy="1560.3" r="3.6"/>
<circle class="pt" cx="752.2" cy="1568.8" r="3.6"/>
<circle class="pt" cx="753.9" cy="1542.8" r="3.6"/>
<circle class="pt" cx="756.2" cy="1541.1" r="3.6"/>
<circle class="pt" cx="763.5" cy="1541.7" r="3.6"/>
<circle class="pt" cx="764.7" cy="1545.6" r="3.6"/>
<circle class="pt" cx="767.5" cy="1538.8" r="3.6"/>
<circle class="pt" cx="773.7" cy="1538.8" r="3.6"/>
<circle class="pt" cx="768.1" cy="1550.1" r="3.6"/>
<circle class="pt" cx="770.3" cy="1556.4" r="3.6"/>
<circle class="pt" cx="766.4" cy="1563.1" r="3.6"/>
<circle class="pt" cx="762.4" cy="1568.2" r="3.6"/>
<circle class="pt" cx="766.9" cy="1569.4" r="3.6"/>
<circle class="pt" cx="772" cy="1564.8" r="3.6"/>
<circle class="pt" cx="773.7" cy="1567.7" r="3.6"/>
<circle class="pt" cx="770.3" cy="1569.9" r="3.6"/>
<circle class="pt" cx="782.2" cy="1545.1" r="3.6"/>
<circle class="pt" cx="785.6" cy="1543.9" r="3.6"/>
<circle class="pt" cx="783.3" cy="1559.2" r="3.6"/>
<circle class="pt" cx="786.7" cy="1559.8" r="3.6"/>
<circle class="pt" cx="782.2" cy="1564.8" r="3.6"/>
<circle class="pt" cx="782.2" cy="1569.4" r="3.6"/>
<circle class="pt" cx="789" cy="1569.4" r="3.6"/>
<circle class="pt" cx="791.8" cy="1569.9" r="3.6"/>
<circle class="pt" cx="801.4" cy="1543.4" r="3.6"/>
<circle class="pt" cx="807.1" cy="1545.1" r="3.6"/>
<circle class="pt" cx="803.7" cy="1546.8" r="3.6"/>
<circle class="pt" cx="799.2" cy="1557.5" r="3.6"/>
<circle class="pt" cx="801.4" cy="1558.1" r="3.6"/>
<circle class="pt" cx="807.1" cy="1566.5" r="3.6"/>
<circle class="pt" cx="822.9" cy="1539.4" r="3.6"/>
<circle class="pt" cx="826.9" cy="1540" r="3.6"/>
<circle class="pt" cx="818.4" cy="1549" r="3.6"/>
<circle class="pt" cx="821.8" cy="1546.8" r="3.6"/>
<circle class="pt" cx="827.4" cy="1546.2" r="3.6"/>
<circle class="pt" cx="820.1" cy="1553" r="3.6"/>
<circle class="pt" cx="826.3" cy="1559.2" r="3.6"/>
<circle class="pt" cx="834.2" cy="1541.1" r="3.6"/>
<circle class="pt" cx="838.8" cy="1538.8" r="3.6"/>
<circle class="pt" cx="834.2" cy="1553.5" r="3.6"/>
<circle class="pt" cx="835.9" cy="1560.3" r="3.6"/>
<circle class="pt" cx="834.8" cy="1564.8" r="3.6"/>
<circle class="pt" cx="834.8" cy="1569.4" r="3.6"/>
<circle class="pt" cx="861.4" cy="1542.8" r="3.6"/>
<circle class="pt" cx="867" cy="1540.5" r="3.6"/>
<circle class="pt" cx="870.4" cy="1541.1" r="3.6"/>
<circle class="pt" cx="860.2" cy="1554.7" r="3.6"/>
<circle class="pt" cx="860.8" cy="1559.2" r="3.6"/>
<circle class="pt" cx="855.1" cy="1570.5" r="3.6"/>
<circle class="pt" cx="867" cy="1568.2" r="3.6"/>
<circle class="pt" cx="870.4" cy="1568.8" r="3.6"/>
<circle class="pt" cx="872.7" cy="1548.4" r="3.6"/>
<circle class="pt" cx="876.6" cy="1552.4" r="3.6"/>
<circle class="pt" cx="879.5" cy="1554.7" r="3.6"/>
<circle class="pt" cx="884" cy="1547.9" r="3.6"/>
<circle class="pt" cx="886.2" cy="1548.4" r="3.6"/>
<circle class="pt" cx="887.4" cy="1540.5" r="3.6"/>
<circle class="pt" cx="883.4" cy="1555.8" r="3.6"/>
<circle class="pt" cx="883.4" cy="1562.6" r="3.6"/>
<circle class="pt" cx="884" cy="1569.4" r="3.6"/>
<circle class="pt" cx="889.6" cy="1564.8" r="3.6"/>
<circle class="pt" cx="892.5" cy="1559.8" r="3.6"/>
<circle class="pt" cx="902.1" cy="1558.1" r="3.6"/>
<circle class="pt" cx="905.5" cy="1542.8" r="3.6"/>
<circle class="pt" cx="906" cy="1553.5" r="3.6"/>
<circle class="pt" cx="905.5" cy="1564.8" r="3.6"/>
<circle class="pt" cx="906.6" cy="1569.4" r="3.6"/>
<circle class="pt" cx="913.4" cy="1538.8" r="3.6"/>
<circle class="pt" cx="919" cy="1540" r="3.6"/>
<circle class="pt" cx="912.3" cy="1545.6" r="3.6"/>
<circle class="pt" cx="912.3" cy="1551.3" r="3.6"/>
<circle class="pt" cx="925.8" cy="1545.1" r="3.6"/>
<circle class="pt" cx="920.7" cy="1549.6" r="3.6"/>
<circle class="pt" cx="929.2" cy="1550.7" r="3.6"/>
<circle class="pt" cx="923.6" cy="1555.8" r="3.6"/>
<circle class="pt" cx="924.1" cy="1558.6" r="3.6"/>
<circle class="pt" cx="919.6" cy="1561.5" r="3.6"/>
<circle class="pt" cx="929.8" cy="1566" r="3.6"/>
<circle class="pt" cx="938.3" cy="1538.8" r="3.6"/>
<circle class="pt" cx="942.2" cy="1542.2" r="3.6"/>
<circle class="pt" cx="941.1" cy="1547.3" r="3.6"/>
<circle class="pt" cx="943.9" cy="1549" r="3.6"/>
<circle class="pt" cx="940" cy="1559.2" r="3.6"/>
<circle class="pt" cx="942.2" cy="1564.3" r="3.6"/>
<circle class="pt" cx="947.3" cy="1559.8" r="3.6"/>
<circle class="pt" cx="947.9" cy="1566.5" r="3.6"/>
<circle class="pt" cx="960.3" cy="1540.5" r="3.6"/>
<circle class="pt" cx="958.6" cy="1544.5" r="3.6"/>
<circle class="pt" cx="956.4" cy="1549" r="3.6"/>
<circle class="pt" cx="962" cy="1551.8" r="3.6"/>
<circle class="pt" cx="954.1" cy="1554.7" r="3.6"/>
<circle class="pt" cx="958.6" cy="1559.2" r="3.6"/>
<circle class="pt" cx="954.1" cy="1563.1" r="3.6"/>
<circle class="pt" cx="963.7" cy="1562" r="3.6"/>
<circle class="pt" cx="962.6" cy="1567.7" r="3.6"/>
<circle class="pt" cx="955.8" cy="1568.8" r="3.6"/>
<circle class="pt" cx="957.5" cy="1569.4" r="3.6"/>
<circle class="pt" cx="971.6" cy="1540" r="3.6"/>
<circle class="pt" cx="978.4" cy="1542.8" r="3.6"/>
<circle class="pt" cx="986.3" cy="1538.3" r="3.6"/>
<circle class="pt" cx="985.8" cy="1543.9" r="3.6"/>
<circle class="pt" cx="976.2" cy="1549.6" r="3.6"/>
<circle class="pt" cx="979" cy="1553.5" r="3.6"/>
<circle class="pt" cx="970.5" cy="1553" r="3.6"/>
<circle class="pt" cx="972.2" cy="1556.4" r="3.6"/>
<circle class="pt" cx="970.5" cy="1562" r="3.6"/>
<circle class="pt" cx="975.6" cy="1562" r="3.6"/>
<circle class="pt" cx="971.1" cy="1569.9" r="3.6"/>
<circle class="pt" cx="976.7" cy="1568.2" r="3.6"/>
<circle class="pt" cx="982.4" cy="1564.8" r="3.6"/>
<circle class="pt" cx="988" cy="1564.3" r="3.6"/>
<circle class="pt" cx="996.5" cy="1553" r="3.6"/>
<circle class="pt" cx="997.1" cy="1553.5" r="3.6"/>
<circle class="pt" cx="999.9" cy="1545.1" r="3.6"/>
<circle class="pt" cx="1003.3" cy="1538.8" r="3.6"/>
<circle class="pt" cx="1012.4" cy="1546.8" r="3.6"/>
<circle class="pt" cx="1020.8" cy="1555.8" r="3.6"/>
<circle class="pt" cx="1014.6" cy="1561.5" r="3.6"/>
<circle class="pt" cx="997.1" cy="1569.4" r="3.6"/>
<circle class="pt" cx="1005" cy="1568.8" r="3.6"/>
<circle class="pt" cx="1007.8" cy="1568.2" r="3.6"/>
<circle class="pt" cx="1030.8" cy="1553" r="3.6"/>
<circle class="pt" cx="1028.8" cy="1560.3" r="3.6"/>
<circle class="pt" cx="1028.8" cy="1562.6" r="3.6"/>
<circle class="pt" cx="1040.6" cy="1562.6" r="3.6"/>
<circle class="pt" cx="1048.5" cy="1562" r="3.6"/>
<circle class="pt" cx="1049.7" cy="1541.1" r="3.6"/>
<circle class="pt" cx="1068.1" cy="1557.8" r="3.6"/>
<circle class="pt" cx="1074.6" cy="1547.3" r="3.6"/>
<circle class="pt" cx="949.5" cy="1564.8" r="3.6"/>
<circle class="pt" cx="956.7" cy="1568.1" r="3.6"/>
<circle class="pt" cx="885.6" cy="1556.4" r="3.6"/>
<circle class="pt" cx="957.9" cy="1570.9" r="3.6"/>
<circle class="pt" cx="725.3" cy="1557.1" r="3.6"/>
<circle class="pt" cx="742.7" cy="1555.8" r="3.6"/>
<circle class="pt" cx="789.4" cy="1571.1" r="3.6"/>
<circle class="pt" cx="894.4" cy="1560.5" r="3.6"/>
<circle class="pt" cx="766.9" cy="1567.5" r="3.6"/>
<circle class="pt" cx="923.8" cy="1559.8" r="3.6"/>
<circle class="pt" cx="1032.1" cy="1558.6" r="3.6"/>
<circle class="pt" cx="928.6" cy="1543.7" r="3.6"/>
<circle class="pt" cx="763.1" cy="1538.1" r="3.6"/>
<circle class="pt" cx="648.8" cy="1570.4" r="3.6"/>
<circle class="pt" cx="962" cy="1561.3" r="3.6"/>
<circle class="pt" cx="783.7" cy="1563.1" r="3.6"/>
<circle class="pt" cx="769.8" cy="1567.2" r="3.6"/>
<rect class="bx" fill="#FFA500" x="793.9" y="908.8" width="47.5" height="25.8"/>
<line class="md" x1="817.6" y1="908.8" x2="817.6" y2="934.6"/>
<polygon class="dm" points="809.4,921.7 817.6,914 825.8,921.7 817.6,929.4"/>
<rect class="bx" fill="#FB794A" x="825.9" y="1014.3" width="45.4" height="25.8"/>
<line class="md" x1="848.5" y1="1014.3" x2="848.5" y2="1040.1"/>
<polygon class="dm" points="840.3,1027.2 848.5,1019.5 856.7,1027.2 848.5,1034.9"/>
<rect class="bx" fill="#F05576" x="871.2" y="1119.8" width="16.9" height="25.8"/>
<line class="md" x1="879.6" y1="1119.8" x2="879.6" y2="1145.6"/>
<polygon class="dm" points="871.4,1132.7 879.6,1125 887.8,1132.7 879.6,1140.4"/>
<rect class="bx" fill="#C05091" x="866.5" y="1225.3" width="23.4" height="25.8"/>
<line class="md" x1="878.2" y1="1225.3" x2="878.2" y2="1251.2"/>
<polygon class="dm" points="870,1238.2 878.2,1230.5 886.4,1238.2 878.2,1246"/>
<rect class="bx" fill="#7C5296" x="839.1" y="1330.9" width="24.5" height="25.8"/>
<line class="md" x1="851.3" y1="1330.9" x2="851.3" y2="1356.7"/>
<polygon class="dm" points="843.1,1343.8 851.3,1336.1 859.5,1343.8 851.3,1351.5"/>
<rect class="bx" fill="#384E84" x="824" y="1436.4" width="29" height="25.8"/>
<line class="md" x1="838.4" y1="1436.4" x2="838.4" y2="1462.2"/>
<polygon class="dm" points="830.2,1449.3 838.4,1441.6 846.6,1449.3 838.4,1457"/>
<rect class="bx" fill="#0C1C34" x="840.5" y="1541.9" width="16.3" height="25.8"/>
<line class="md" x1="848.5" y1="1541.9" x2="848.5" y2="1567.7"/>
<polygon class="dm" points="840.3,1554.8 848.5,1547.1 856.7,1554.8 848.5,1562.5"/>
<path class="ax" d="M389.1 858.4V1618.1H1148"/>
<text class="tk one" x="416.3" y="1645.1">1</text>
<text class="tk" x="587.5" y="1645.1">2</text>
<text class="tk" x="760.2" y="1645.1">3</text>
<text class="tk" x="932.9" y="1645.1">4</text>
<text class="tk" x="1105.6" y="1645.1">5</text>
<text class="tt" x="768.5" y="1681.6">Extraversion</text>
</g>
<g>
<rect class="yb" x="1596.5" y="858.4" width="30.4" height="759.7"/>
<rect class="gb" x="1596.5" y="858.4" width="13.6" height="759.7"/>
<line class="gd" x1="1603.4" y1="1618.1" x2="1603.4" y2="858.4"/>
<line class="yd" x1="1611.9" y1="1618.1" x2="1611.9" y2="858.4"/>
<circle class="pt" cx="1417.9" cy="931.7" r="3.6"/>
<circle class="pt" cx="1459.5" cy="920.2" r="3.6"/>
<circle class="pt" cx="1541.7" cy="912.1" r="3.6"/>
<circle class="pt" cx="1561.2" cy="936.9" r="3.6"/>
<circle class="pt" cx="1601.2" cy="907.9" r="3.6"/>
<circle class="pt" cx="1610.7" cy="905.5" r="3.6"/>
<circle class="pt" cx="1629" cy="931.2" r="3.6"/>
<circle class="pt" cx="1642.1" cy="911.9" r="3.6"/>
<circle class="pt" cx="1650.7" cy="921.2" r="3.6"/>
<circle class="pt" cx="1662.1" cy="927.1" r="3.6"/>
<circle class="pt" cx="1781.7" cy="918.8" r="3.6"/>
<circle class="pt" cx="1433.1" cy="1038.3" r="3.6"/>
<circle class="pt" cx="1451.7" cy="1041.4" r="3.6"/>
<circle class="pt" cx="1456.4" cy="1026.4" r="3.6"/>
<circle class="pt" cx="1469.5" cy="1020.7" r="3.6"/>
<circle class="pt" cx="1490.5" cy="1018.8" r="3.6"/>
<circle class="pt" cx="1505.2" cy="1040.2" r="3.6"/>
<circle class="pt" cx="1511" cy="1035.5" r="3.6"/>
<circle class="pt" cx="1524" cy="1035" r="3.6"/>
<circle class="pt" cx="1530.2" cy="1022.4" r="3.6"/>
<circle class="pt" cx="1542.9" cy="1037.9" r="3.6"/>
<circle class="pt" cx="1546.7" cy="1030.2" r="3.6"/>
<circle class="pt" cx="1563.3" cy="1017.1" r="3.6"/>
<circle class="pt" cx="1607.6" cy="1023.1" r="3.6"/>
<circle class="pt" cx="1617.6" cy="1014" r="3.6"/>
<circle class="pt" cx="1618.3" cy="1021.4" r="3.6"/>
<circle class="pt" cx="1651.4" cy="1016.4" r="3.6"/>
<circle class="pt" cx="1651" cy="1036.9" r="3.6"/>
<circle class="pt" cx="1662.4" cy="1035" r="3.6"/>
<circle class="pt" cx="1664" cy="1027.9" r="3.6"/>
<circle class="pt" cx="1679.5" cy="1042.9" r="3.6"/>
<circle class="pt" cx="1681.9" cy="1031.4" r="3.6"/>
<circle class="pt" cx="1687.4" cy="1018.3" r="3.6"/>
<circle class="pt" cx="1716.7" cy="1026.7" r="3.6"/>
<circle class="pt" cx="1808.6" cy="1031.9" r="3.6"/>
<circle class="pt" cx="1281.3" cy="1129.2" r="3.6"/>
<circle class="pt" cx="1354.3" cy="1144.5" r="3.6"/>
<circle class="pt" cx="1383.5" cy="1123.6" r="3.6"/>
<circle class="pt" cx="1416.8" cy="1131.1" r="3.6"/>
<circle class="pt" cx="1428.9" cy="1133.4" r="3.6"/>
<circle class="pt" cx="1438.2" cy="1136.7" r="3.6"/>
<circle class="pt" cx="1459.3" cy="1140.5" r="3.6"/>
<circle class="pt" cx="1474.5" cy="1133.4" r="3.6"/>
<circle class="pt" cx="1479.3" cy="1122.8" r="3.6"/>
<circle class="pt" cx="1487.5" cy="1125.2" r="3.6"/>
<circle class="pt" cx="1497.6" cy="1127.8" r="3.6"/>
<circle class="pt" cx="1480.1" cy="1146.6" r="3.6"/>
<circle class="pt" cx="1502.1" cy="1146" r="3.6"/>
<circle class="pt" cx="1512.3" cy="1117.1" r="3.6"/>
<circle class="pt" cx="1523.9" cy="1138.1" r="3.6"/>
<circle class="pt" cx="1536.3" cy="1120.4" r="3.6"/>
<circle class="pt" cx="1538.5" cy="1146.5" r="3.6"/>
<circle class="pt" cx="1548.9" cy="1131" r="3.6"/>
<circle class="pt" cx="1554.5" cy="1122.8" r="3.6"/>
<circle class="pt" cx="1560.5" cy="1123" r="3.6"/>
<circle class="pt" cx="1562.9" cy="1124.2" r="3.6"/>
<circle class="pt" cx="1558.7" cy="1134.3" r="3.6"/>
<circle class="pt" cx="1560.5" cy="1136.1" r="3.6"/>
<circle class="pt" cx="1565.2" cy="1127.2" r="3.6"/>
<circle class="pt" cx="1572.1" cy="1127" r="3.6"/>
<circle class="pt" cx="1567" cy="1137.3" r="3.6"/>
<circle class="pt" cx="1572.4" cy="1137.9" r="3.6"/>
<circle class="pt" cx="1577.1" cy="1133.1" r="3.6"/>
<circle class="pt" cx="1584.3" cy="1134.6" r="3.6"/>
<circle class="pt" cx="1565.2" cy="1145.6" r="3.6"/>
<circle class="pt" cx="1574.2" cy="1145" r="3.6"/>
<circle class="pt" cx="1576" cy="1143.9" r="3.6"/>
<circle class="pt" cx="1581.9" cy="1120.6" r="3.6"/>
<circle class="pt" cx="1583.7" cy="1122.4" r="3.6"/>
<circle class="pt" cx="1592" cy="1123" r="3.6"/>
<circle class="pt" cx="1595.6" cy="1122.2" r="3.6"/>
<circle class="pt" cx="1591.8" cy="1144.8" r="3.6"/>
<circle class="pt" cx="1599.2" cy="1132.5" r="3.6"/>
<circle class="pt" cx="1606.3" cy="1133.1" r="3.6"/>
<circle class="pt" cx="1608.7" cy="1121.8" r="3.6"/>
<circle class="pt" cx="1615.8" cy="1117.1" r="3.6"/>
<circle class="pt" cx="1615.2" cy="1125.4" r="3.6"/>
<circle class="pt" cx="1612.3" cy="1138.5" r="3.6"/>
<circle class="pt" cx="1624.8" cy="1120" r="3.6"/>
<circle class="pt" cx="1624.8" cy="1123" r="3.6"/>
<circle class="pt" cx="1634.9" cy="1123" r="3.6"/>
<circle class="pt" cx="1628.3" cy="1132.5" r="3.6"/>
<circle class="pt" cx="1629.5" cy="1141.5" r="3.6"/>
<circle class="pt" cx="1634.3" cy="1137.3" r="3.6"/>
<circle class="pt" cx="1624.8" cy="1146.2" r="3.6"/>
<circle class="pt" cx="1639" cy="1135.5" r="3.6"/>
<circle class="pt" cx="1643.8" cy="1145.6" r="3.6"/>
<circle class="pt" cx="1660.5" cy="1148" r="3.6"/>
<circle class="pt" cx="1664" cy="1128.4" r="3.6"/>
<circle class="pt" cx="1668.2" cy="1145.6" r="3.6"/>
<circle class="pt" cx="1675.6" cy="1121.6" r="3.6"/>
<circle class="pt" cx="1676.2" cy="1126" r="3.6"/>
<circle class="pt" cx="1686.2" cy="1125.4" r="3.6"/>
<circle class="pt" cx="1687.5" cy="1127.9" r="3.6"/>
<circle class="pt" cx="1676.2" cy="1136.6" r="3.6"/>
<circle class="pt" cx="1680" cy="1140.4" r="3.6"/>
<circle class="pt" cx="1671.2" cy="1145.4" r="3.6"/>
<circle class="pt" cx="1676.9" cy="1148.5" r="3.6"/>
<circle class="pt" cx="1693.8" cy="1131.6" r="3.6"/>
<circle class="pt" cx="1693.1" cy="1137.2" r="3.6"/>
<circle class="pt" cx="1696.9" cy="1137.2" r="3.6"/>
<circle class="pt" cx="1691.9" cy="1146" r="3.6"/>
<circle class="pt" cx="1700.6" cy="1143.5" r="3.6"/>
<circle class="pt" cx="1697.5" cy="1122.9" r="3.6"/>
<circle class="pt" cx="1703.5" cy="1117.5" r="3.6"/>
<circle class="pt" cx="1703.1" cy="1130.4" r="3.6"/>
<circle class="pt" cx="1711.2" cy="1120.4" r="3.6"/>
<circle class="pt" cx="1718.1" cy="1118.5" r="3.6"/>
<circle class="pt" cx="1714.4" cy="1125.4" r="3.6"/>
<circle class="pt" cx="1716.2" cy="1127.9" r="3.6"/>
<circle class="pt" cx="1717.5" cy="1131" r="3.6"/>
<circle class="pt" cx="1715" cy="1136" r="3.6"/>
<circle class="pt" cx="1716.9" cy="1137.9" r="3.6"/>
<circle class="pt" cx="1718.8" cy="1139.8" r="3.6"/>
<circle class="pt" cx="1714.4" cy="1139.8" r="3.6"/>
<circle class="pt" cx="1726.2" cy="1119.8" r="3.6"/>
<circle class="pt" cx="1733.8" cy="1119.8" r="3.6"/>
<circle class="pt" cx="1726.2" cy="1124.8" r="3.6"/>
<circle class="pt" cx="1729.4" cy="1130.4" r="3.6"/>
<circle class="pt" cx="1735" cy="1131.6" r="3.6"/>
<circle class="pt" cx="1737.5" cy="1134.1" r="3.6"/>
<circle class="pt" cx="1730" cy="1139.1" r="3.6"/>
<circle class="pt" cx="1736.2" cy="1144.1" r="3.6"/>
<circle class="pt" cx="1736.2" cy="1147.9" r="3.6"/>
<circle class="pt" cx="1753.8" cy="1124.8" r="3.6"/>
<circle class="pt" cx="1765" cy="1119.8" r="3.6"/>
<circle class="pt" cx="1763.8" cy="1124.1" r="3.6"/>
<circle class="pt" cx="1774.4" cy="1120.4" r="3.6"/>
<circle class="pt" cx="1751.9" cy="1139.1" r="3.6"/>
<circle class="pt" cx="1769.4" cy="1142.2" r="3.6"/>
<circle class="pt" cx="1783.8" cy="1127.2" r="3.6"/>
<circle class="pt" cx="1789.4" cy="1124.1" r="3.6"/>
<circle class="pt" cx="1787.5" cy="1136.6" r="3.6"/>
<circle class="pt" cx="1801.9" cy="1120.4" r="3.6"/>
<circle class="pt" cx="1805.6" cy="1118.5" r="3.6"/>
<circle class="pt" cx="1808.5" cy="1134.1" r="3.6"/>
<circle class="pt" cx="1817.5" cy="1117.9" r="3.6"/>
<circle class="pt" cx="1822.5" cy="1130.4" r="3.6"/>
<circle class="pt" cx="1848.8" cy="1145" r="3.6"/>
<circle class="pt" cx="1855" cy="1123.2" r="3.6"/>
<circle class="pt" cx="1857.5" cy="1133.8" r="3.6"/>
<circle class="pt" cx="1871.2" cy="1138.2" r="3.6"/>
<circle class="pt" cx="1708.4" cy="1119.2" r="3.6"/>
<circle class="pt" cx="1727.8" cy="1118.8" r="3.6"/>
<circle class="pt" cx="1563.7" cy="1121.1" r="3.6"/>
<circle class="pt" cx="1403.8" cy="1230.6" r="3.6"/>
<circle class="pt" cx="1417.5" cy="1248.6" r="3.6"/>
<circle class="pt" cx="1457.4" cy="1229.3" r="3.6"/>
<circle class="pt" cx="1478.4" cy="1225.1" r="3.6"/>
<circle class="pt" cx="1470.3" cy="1238.5" r="3.6"/>
<circle class="pt" cx="1480" cy="1247.6" r="3.6"/>
<circle class="pt" cx="1493.5" cy="1249.2" r="3.6"/>
<circle class="pt" cx="1498" cy="1247" r="3.6"/>
<circle class="pt" cx="1506.3" cy="1243.7" r="3.6"/>
<circle class="pt" cx="1510.7" cy="1235.9" r="3.6"/>
<circle class="pt" cx="1524.5" cy="1239.5" r="3.6"/>
<circle class="pt" cx="1530.8" cy="1250.5" r="3.6"/>
<circle class="pt" cx="1549.1" cy="1241.4" r="3.6"/>
<circle class="pt" cx="1556.3" cy="1236.4" r="3.6"/>
<circle class="pt" cx="1560.2" cy="1235.9" r="3.6"/>
<circle class="pt" cx="1557" cy="1243.3" r="3.6"/>
<circle class="pt" cx="1559.6" cy="1247.2" r="3.6"/>
<circle class="pt" cx="1566.8" cy="1245" r="3.6"/>
<circle class="pt" cx="1564.8" cy="1249.9" r="3.6"/>
<circle class="pt" cx="1554.3" cy="1251.2" r="3.6"/>
<circle class="pt" cx="1574" cy="1224.6" r="3.6"/>
<circle class="pt" cx="1577.5" cy="1241.4" r="3.6"/>
<circle class="pt" cx="1578.2" cy="1253.1" r="3.6"/>
<circle class="pt" cx="1593.6" cy="1222.4" r="3.6"/>
<circle class="pt" cx="1612.1" cy="1223.1" r="3.6"/>
<circle class="pt" cx="1612.1" cy="1230.4" r="3.6"/>
<circle class="pt" cx="1614.8" cy="1239.3" r="3.6"/>
<circle class="pt" cx="1628.9" cy="1223.1" r="3.6"/>
<circle class="pt" cx="1628.5" cy="1239.3" r="3.6"/>
<circle class="pt" cx="1629.9" cy="1243.2" r="3.6"/>
<circle class="pt" cx="1645.6" cy="1232" r="3.6"/>
<circle class="pt" cx="1640.4" cy="1244.7" r="3.6"/>
<circle class="pt" cx="1634" cy="1253.6" r="3.6"/>
<circle class="pt" cx="1657.9" cy="1243.6" r="3.6"/>
<circle class="pt" cx="1658.6" cy="1247.1" r="3.6"/>
<circle class="pt" cx="1670.5" cy="1223.8" r="3.6"/>
<circle class="pt" cx="1667.5" cy="1252.1" r="3.6"/>
<circle class="pt" cx="1685.3" cy="1230.4" r="3.6"/>
<circle class="pt" cx="1687.4" cy="1251.6" r="3.6"/>
<circle class="pt" cx="1699.7" cy="1239.3" r="3.6"/>
<circle class="pt" cx="1722.3" cy="1234.8" r="3.6"/>
<circle class="pt" cx="1733.2" cy="1236.8" r="3.6"/>
<circle class="pt" cx="1738.3" cy="1244.7" r="3.6"/>
<circle class="pt" cx="1756.2" cy="1232.4" r="3.6"/>
<circle class="pt" cx="1760.6" cy="1240.5" r="3.6"/>
<circle class="pt" cx="1788.7" cy="1236.5" r="3.6"/>
<circle class="pt" cx="1312.1" cy="1347.4" r="3.6"/>
<circle class="pt" cx="1341.1" cy="1349.1" r="3.6"/>
<circle class="pt" cx="1389.3" cy="1344.7" r="3.6"/>
<circle class="pt" cx="1399.1" cy="1345" r="3.6"/>
<circle class="pt" cx="1422.5" cy="1333.8" r="3.6"/>
<circle class="pt" cx="1434.8" cy="1330.6" r="3.6"/>
<circle class="pt" cx="1422.3" cy="1358.8" r="3.6"/>
<circle class="pt" cx="1440.2" cy="1356.3" r="3.6"/>
<circle class="pt" cx="1444.6" cy="1356.6" r="3.6"/>
<circle class="pt" cx="1475.9" cy="1340" r="3.6"/>
<circle class="pt" cx="1488.9" cy="1340" r="3.6"/>
<circle class="pt" cx="1474.5" cy="1353.6" r="3.6"/>
<circle class="pt" cx="1486.2" cy="1349.9" r="3.6"/>
<circle class="pt" cx="1506.2" cy="1338.8" r="3.6"/>
<circle class="pt" cx="1510.7" cy="1337" r="3.6"/>
<circle class="pt" cx="1504.5" cy="1354.3" r="3.6"/>
<circle class="pt" cx="1539.3" cy="1328.1" r="3.6"/>
<circle class="pt" cx="1536.6" cy="1345.6" r="3.6"/>
<circle class="pt" cx="1540.5" cy="1344.7" r="3.6"/>
<circle class="pt" cx="1542" cy="1349.9" r="3.6"/>
<circle class="pt" cx="1557.7" cy="1339" r="3.6"/>
<circle class="pt" cx="1566.4" cy="1337.4" r="3.6"/>
<circle class="pt" cx="1575" cy="1337.4" r="3.6"/>
<circle class="pt" cx="1583" cy="1330" r="3.6"/>
<circle class="pt" cx="1571.1" cy="1349.9" r="3.6"/>
<circle class="pt" cx="1576.8" cy="1349.1" r="3.6"/>
<circle class="pt" cx="1559.8" cy="1354.9" r="3.6"/>
<circle class="pt" cx="1567.1" cy="1358.8" r="3.6"/>
<circle class="pt" cx="1623.6" cy="1343.8" r="3.6"/>
<circle class="pt" cx="1633" cy="1339.1" r="3.6"/>
<circle class="pt" cx="1636.2" cy="1337" r="3.6"/>
<circle class="pt" cx="1636.2" cy="1354" r="3.6"/>
<circle class="pt" cx="1629.5" cy="1359" r="3.6"/>
<circle class="pt" cx="1646.4" cy="1330.8" r="3.6"/>
<circle class="pt" cx="1644.6" cy="1340" r="3.6"/>
<circle class="pt" cx="1650" cy="1339.1" r="3.6"/>
<circle class="pt" cx="1647.3" cy="1345" r="3.6"/>
<circle class="pt" cx="1643.8" cy="1349.5" r="3.6"/>
<circle class="pt" cx="1650" cy="1350" r="3.6"/>
<circle class="pt" cx="1659.8" cy="1346.8" r="3.6"/>
<circle class="pt" cx="1658.9" cy="1350.4" r="3.6"/>
<circle class="pt" cx="1657.1" cy="1352.7" r="3.6"/>
<circle class="pt" cx="1664.3" cy="1329" r="3.6"/>
<circle class="pt" cx="1666.4" cy="1331.3" r="3.6"/>
<circle class="pt" cx="1668.8" cy="1350.9" r="3.6"/>
<circle class="pt" cx="1675" cy="1353.1" r="3.6"/>
<circle class="pt" cx="1680.4" cy="1351.6" r="3.6"/>
<circle class="pt" cx="1682.1" cy="1332" r="3.6"/>
<circle class="pt" cx="1686.6" cy="1334.3" r="3.6"/>
<circle class="pt" cx="1692.9" cy="1333.1" r="3.6"/>
<circle class="pt" cx="1694.3" cy="1329.3" r="3.6"/>
<circle class="pt" cx="1711.1" cy="1332.5" r="3.6"/>
<circle class="pt" cx="1716.1" cy="1329" r="3.6"/>
<circle class="pt" cx="1710.7" cy="1343.8" r="3.6"/>
<circle class="pt" cx="1718.8" cy="1349.5" r="3.6"/>
<circle class="pt" cx="1721.4" cy="1358.4" r="3.6"/>
<circle class="pt" cx="1761.6" cy="1339.1" r="3.6"/>
<circle class="pt" cx="1765.2" cy="1354.5" r="3.6"/>
<circle class="pt" cx="1788.8" cy="1328.6" r="3.6"/>
<circle class="pt" cx="1815.5" cy="1349.1" r="3.6"/>
<circle class="pt" cx="1822.9" cy="1354.5" r="3.6"/>
<circle class="pt" cx="1889.3" cy="1328.4" r="3.6"/>
<circle class="pt" cx="1364" cy="1439.4" r="3.6"/>
<circle class="pt" cx="1441" cy="1438.4" r="3.6"/>
<circle class="pt" cx="1444.3" cy="1448.7" r="3.6"/>
<circle class="pt" cx="1507.6" cy="1435.6" r="3.6"/>
<circle class="pt" cx="1523.6" cy="1437.4" r="3.6"/>
<circle class="pt" cx="1525.7" cy="1464.1" r="3.6"/>
<circle class="pt" cx="1539.3" cy="1464.1" r="3.6"/>
<circle class="pt" cx="1541.1" cy="1460.6" r="3.6"/>
<circle class="pt" cx="1554.3" cy="1435.1" r="3.6"/>
<circle class="pt" cx="1561.1" cy="1444.1" r="3.6"/>
<circle class="pt" cx="1562.4" cy="1450.1" r="3.6"/>
<circle class="pt" cx="1579.6" cy="1433.4" r="3.6"/>
<circle class="pt" cx="1579.3" cy="1450.9" r="3.6"/>
<circle class="pt" cx="1596.4" cy="1434.4" r="3.6"/>
<circle class="pt" cx="1597.1" cy="1449.1" r="3.6"/>
<circle class="pt" cx="1600.7" cy="1450.1" r="3.6"/>
<circle class="pt" cx="1595" cy="1457.7" r="3.6"/>
<circle class="pt" cx="1593.6" cy="1459.9" r="3.6"/>
<circle class="pt" cx="1599.3" cy="1463.4" r="3.6"/>
<circle class="pt" cx="1608.6" cy="1450.6" r="3.6"/>
<circle class="pt" cx="1614.3" cy="1455.9" r="3.6"/>
<circle class="pt" cx="1612.1" cy="1464.1" r="3.6"/>
<circle class="pt" cx="1617.9" cy="1442.4" r="3.6"/>
<circle class="pt" cx="1634.3" cy="1464.1" r="3.6"/>
<circle class="pt" cx="1650" cy="1459.9" r="3.6"/>
<circle class="pt" cx="1664.6" cy="1438.7" r="3.6"/>
<circle class="pt" cx="1669.7" cy="1437.7" r="3.6"/>
<circle class="pt" cx="1668.3" cy="1447" r="3.6"/>
<circle class="pt" cx="1682.9" cy="1440.9" r="3.6"/>
<circle class="pt" cx="1686.1" cy="1441.3" r="3.6"/>
<circle class="pt" cx="1682.9" cy="1448.1" r="3.6"/>
<circle class="pt" cx="1695" cy="1449.6" r="3.6"/>
<circle class="pt" cx="1694" cy="1454.4" r="3.6"/>
<circle class="pt" cx="1700.4" cy="1458" r="3.6"/>
<circle class="pt" cx="1705" cy="1436" r="3.6"/>
<circle class="pt" cx="1717.1" cy="1433.4" r="3.6"/>
<circle class="pt" cx="1710" cy="1460.3" r="3.6"/>
<circle class="pt" cx="1675" cy="1461.6" r="3.6"/>
<circle class="pt" cx="1731.1" cy="1458.9" r="3.6"/>
<circle class="pt" cx="1739.6" cy="1452.4" r="3.6"/>
<circle class="pt" cx="1761.1" cy="1447.9" r="3.6"/>
<circle class="pt" cx="1779.6" cy="1433.4" r="3.6"/>
<circle class="pt" cx="1796" cy="1438" r="3.6"/>
<circle class="pt" cx="1786.4" cy="1450.9" r="3.6"/>
<circle class="pt" cx="1814.3" cy="1464.4" r="3.6"/>
<circle class="pt" cx="1821.4" cy="1445.9" r="3.6"/>
<circle class="pt" cx="1234.3" cy="1541.7" r="3.6"/>
<circle class="pt" cx="1296.1" cy="1563.3" r="3.6"/>
<circle class="pt" cx="1335.2" cy="1539.8" r="3.6"/>
<circle class="pt" cx="1377.6" cy="1553.4" r="3.6"/>
<circle class="pt" cx="1389.5" cy="1539.2" r="3.6"/>
<circle class="pt" cx="1393" cy="1551.2" r="3.6"/>
<circle class="pt" cx="1394.1" cy="1558" r="3.6"/>
<circle class="pt" cx="1406.8" cy="1560.1" r="3.6"/>
<circle class="pt" cx="1402.6" cy="1565.6" r="3.6"/>
<circle class="pt" cx="1403.5" cy="1566.2" r="3.6"/>
<circle class="pt" cx="1404.2" cy="1565.2" r="3.6"/>
<circle class="pt" cx="1418.6" cy="1561.6" r="3.6"/>
<circle class="pt" cx="1423.2" cy="1561.2" r="3.6"/>
<circle class="pt" cx="1443.5" cy="1546.3" r="3.6"/>
<circle class="pt" cx="1449.3" cy="1539.4" r="3.6"/>
<circle class="pt" cx="1449.7" cy="1564.6" r="3.6"/>
<circle class="pt" cx="1452.9" cy="1538.7" r="3.6"/>
<circle class="pt" cx="1457.2" cy="1546.3" r="3.6"/>
<circle class="pt" cx="1463.1" cy="1540.7" r="3.6"/>
<circle class="pt" cx="1469.6" cy="1540" r="3.6"/>
<circle class="pt" cx="1470.3" cy="1541.3" r="3.6"/>
<circle class="pt" cx="1467" cy="1547.2" r="3.6"/>
<circle class="pt" cx="1474.2" cy="1548.5" r="3.6"/>
<circle class="pt" cx="1476.2" cy="1547.2" r="3.6"/>
<circle class="pt" cx="1480.1" cy="1539.4" r="3.6"/>
<circle class="pt" cx="1480.8" cy="1547.2" r="3.6"/>
<circle class="pt" cx="1473.6" cy="1553.8" r="3.6"/>
<circle class="pt" cx="1469.6" cy="1557.7" r="3.6"/>
<circle class="pt" cx="1471" cy="1558.4" r="3.6"/>
<circle class="pt" cx="1456.5" cy="1559.7" r="3.6"/>
<circle class="pt" cx="1467.7" cy="1564.6" r="3.6"/>
<circle class="pt" cx="1458.5" cy="1568.8" r="3.6"/>
<circle class="pt" cx="1475.5" cy="1568.2" r="3.6"/>
<circle class="pt" cx="1489.3" cy="1545.3" r="3.6"/>
<circle class="pt" cx="1491.9" cy="1546.6" r="3.6"/>
<circle class="pt" cx="1497.1" cy="1540" r="3.6"/>
<circle class="pt" cx="1498.5" cy="1545.9" r="3.6"/>
<circle class="pt" cx="1491.9" cy="1548.5" r="3.6"/>
<circle class="pt" cx="1503" cy="1553.1" r="3.6"/>
<circle class="pt" cx="1506.3" cy="1553.8" r="3.6"/>
<circle class="pt" cx="1508.9" cy="1544.6" r="3.6"/>
<circle class="pt" cx="1515.5" cy="1543.3" r="3.6"/>
<circle class="pt" cx="1514.2" cy="1549.8" r="3.6"/>
<circle class="pt" cx="1508.9" cy="1554.4" r="3.6"/>
<circle class="pt" cx="1522.7" cy="1547.2" r="3.6"/>
<circle class="pt" cx="1523.3" cy="1555.1" r="3.6"/>
<circle class="pt" cx="1529.2" cy="1553.8" r="3.6"/>
<circle class="pt" cx="1527.3" cy="1563.6" r="3.6"/>
<circle class="pt" cx="1503.7" cy="1562.3" r="3.6"/>
<circle class="pt" cx="1503.7" cy="1569.5" r="3.6"/>
<circle class="pt" cx="1513.5" cy="1569.5" r="3.6"/>
<circle class="pt" cx="1520.7" cy="1568.8" r="3.6"/>
<circle class="pt" cx="1524.6" cy="1569.5" r="3.6"/>
<circle class="pt" cx="1536.4" cy="1555.1" r="3.6"/>
<circle class="pt" cx="1537.1" cy="1559.7" r="3.6"/>
<circle class="pt" cx="1541.7" cy="1547.9" r="3.6"/>
<circle class="pt" cx="1545.6" cy="1546.6" r="3.6"/>
<circle class="pt" cx="1546.2" cy="1540" r="3.6"/>
<circle class="pt" cx="1554.8" cy="1541.3" r="3.6"/>
<circle class="pt" cx="1548.9" cy="1553.1" r="3.6"/>
<circle class="pt" cx="1543.6" cy="1561" r="3.6"/>
<circle class="pt" cx="1548.2" cy="1562.3" r="3.6"/>
<circle class="pt" cx="1543.6" cy="1565.6" r="3.6"/>
<circle class="pt" cx="1556.1" cy="1557" r="3.6"/>
<circle class="pt" cx="1562" cy="1552.5" r="3.6"/>
<circle class="pt" cx="1561.3" cy="1558.4" r="3.6"/>
<circle class="pt" cx="1562.6" cy="1561" r="3.6"/>
<circle class="pt" cx="1561.3" cy="1566.2" r="3.6"/>
<circle class="pt" cx="1559.3" cy="1568.2" r="3.6"/>
<circle class="pt" cx="1555.8" cy="1569.5" r="3.6"/>
<circle class="pt" cx="1566.5" cy="1539.4" r="3.6"/>
<circle class="pt" cx="1571.8" cy="1555.7" r="3.6"/>
<circle class="pt" cx="1575.7" cy="1552.5" r="3.6"/>
<circle class="pt" cx="1577.7" cy="1541.3" r="3.6"/>
<circle class="pt" cx="1581" cy="1542.6" r="3.6"/>
<circle class="pt" cx="1579.6" cy="1550.5" r="3.6"/>
<circle class="pt" cx="1577.7" cy="1557" r="3.6"/>
<circle class="pt" cx="1582.3" cy="1555.7" r="3.6"/>
<circle class="pt" cx="1577.7" cy="1569.5" r="3.6"/>
<circle class="pt" cx="1587.5" cy="1538.7" r="3.6"/>
<circle class="pt" cx="1591.4" cy="1541.3" r="3.6"/>
<circle class="pt" cx="1590.8" cy="1553.8" r="3.6"/>
<circle class="pt" cx="1592.1" cy="1562.3" r="3.6"/>
<circle class="pt" cx="1600.6" cy="1538.7" r="3.6"/>
<circle class="pt" cx="1604.5" cy="1569.5" r="3.6"/>
<circle class="pt" cx="1614.3" cy="1538.7" r="3.6"/>
<circle class="pt" cx="1616.3" cy="1544" r="3.6"/>
<circle class="pt" cx="1617.6" cy="1558.4" r="3.6"/>
<circle class="pt" cx="1615" cy="1569.5" r="3.6"/>
<circle class="pt" cx="1624.2" cy="1567.5" r="3.6"/>
<circle class="pt" cx="1627.4" cy="1547.2" r="3.6"/>
<circle class="pt" cx="1626.8" cy="1558.4" r="3.6"/>
<circle class="pt" cx="1632" cy="1542.6" r="3.6"/>
<circle class="pt" cx="1633.3" cy="1562.3" r="3.6"/>
<circle class="pt" cx="1634.6" cy="1567.5" r="3.6"/>
<circle class="pt" cx="1638.6" cy="1553.1" r="3.6"/>
<circle class="pt" cx="1642.5" cy="1555.7" r="3.6"/>
<circle class="pt" cx="1645.1" cy="1539.4" r="3.6"/>
<circle class="pt" cx="1649" cy="1547.2" r="3.6"/>
<circle class="pt" cx="1646.4" cy="1557.7" r="3.6"/>
<circle class="pt" cx="1643.2" cy="1569.5" r="3.6"/>
<circle class="pt" cx="1653.6" cy="1566.2" r="3.6"/>
<circle class="pt" cx="1658.9" cy="1539.4" r="3.6"/>
<circle class="pt" cx="1660.8" cy="1545.3" r="3.6"/>
<circle class="pt" cx="1666.1" cy="1544.6" r="3.6"/>
<circle class="pt" cx="1664.8" cy="1553.1" r="3.6"/>
<circle class="pt" cx="1661.5" cy="1557" r="3.6"/>
<circle class="pt" cx="1667.4" cy="1561" r="3.6"/>
<circle class="pt" cx="1661.5" cy="1569.5" r="3.6"/>
<circle class="pt" cx="1681.5" cy="1543.3" r="3.6"/>
<circle class="pt" cx="1681.8" cy="1544" r="3.6"/>
<circle class="pt" cx="1693.6" cy="1542" r="3.6"/>
<circle class="pt" cx="1696.2" cy="1541.3" r="3.6"/>
<circle class="pt" cx="1703.4" cy="1541.3" r="3.6"/>
<circle class="pt" cx="1696.2" cy="1549.2" r="3.6"/>
<circle class="pt" cx="1675.2" cy="1555.7" r="3.6"/>
<circle class="pt" cx="1684.4" cy="1553.1" r="3.6"/>
<circle class="pt" cx="1682.4" cy="1557.7" r="3.6"/>
<circle class="pt" cx="1688.3" cy="1560.3" r="3.6"/>
<circle class="pt" cx="1685.1" cy="1561" r="3.6"/>
<circle class="pt" cx="1679.2" cy="1564.2" r="3.6"/>
<circle class="pt" cx="1695.5" cy="1554.4" r="3.6"/>
<circle class="pt" cx="1701.4" cy="1554.4" r="3.6"/>
<circle class="pt" cx="1704" cy="1557" r="3.6"/>
<circle class="pt" cx="1697.5" cy="1560.3" r="3.6"/>
<circle class="pt" cx="1698.2" cy="1563.6" r="3.6"/>
<circle class="pt" cx="1702.1" cy="1565.6" r="3.6"/>
<circle class="pt" cx="1700.1" cy="1565.6" r="3.6"/>
<circle class="pt" cx="1696.8" cy="1570.1" r="3.6"/>
<circle class="pt" cx="1712.6" cy="1553.5" r="3.6"/>
<circle class="pt" cx="1711.9" cy="1562.3" r="3.6"/>
<circle class="pt" cx="1721.1" cy="1550.5" r="3.6"/>
<circle class="pt" cx="1721.7" cy="1554.4" r="3.6"/>
<circle class="pt" cx="1727" cy="1556.4" r="3.6"/>
<circle class="pt" cx="1721.7" cy="1566.2" r="3.6"/>
<circle class="pt" cx="1732.9" cy="1559.7" r="3.6"/>
<circle class="pt" cx="1732.2" cy="1563.6" r="3.6"/>
<circle class="pt" cx="1738.1" cy="1555.1" r="3.6"/>
<circle class="pt" cx="1728.3" cy="1540.4" r="3.6"/>
<circle class="pt" cx="1735.5" cy="1543" r="3.6"/>
<circle class="pt" cx="1744.9" cy="1544.2" r="3.6"/>
<circle class="pt" cx="1756.4" cy="1542.6" r="3.6"/>
<circle class="pt" cx="1745.7" cy="1562" r="3.6"/>
<circle class="pt" cx="1756.4" cy="1564.9" r="3.6"/>
<circle class="pt" cx="1749.6" cy="1569.8" r="3.6"/>
<circle class="pt" cx="1763.6" cy="1568.4" r="3.6"/>
<circle class="pt" cx="1773.5" cy="1569.5" r="3.6"/>
<circle class="pt" cx="1772.8" cy="1570.8" r="3.6"/>
<circle class="pt" cx="1764.9" cy="1549.8" r="3.6"/>
<circle class="pt" cx="1768.9" cy="1548.5" r="3.6"/>
<circle class="pt" cx="1764.3" cy="1553.8" r="3.6"/>
<circle class="pt" cx="1785.9" cy="1550.1" r="3.6"/>
<circle class="pt" cx="1795.5" cy="1539" r="3.6"/>
<circle class="pt" cx="1815.4" cy="1545.5" r="3.6"/>
<circle class="pt" cx="1832" cy="1547.5" r="3.6"/>
<circle class="pt" cx="1843.1" cy="1539.6" r="3.6"/>
<circle class="pt" cx="1831.7" cy="1564.2" r="3.6"/>
<circle class="pt" cx="1834.3" cy="1568.8" r="3.6"/>
<circle class="pt" cx="1534.5" cy="1561.6" r="3.6"/>
<circle class="pt" cx="1549.8" cy="1563.6" r="3.6"/>
<circle class="pt" cx="1507.2" cy="1553.6" r="3.6"/>
<circle class="pt" cx="1686.8" cy="1552.7" r="3.6"/>
<circle class="pt" cx="1621.9" cy="1564.9" r="3.6"/>
<circle class="pt" cx="1645.8" cy="1546.9" r="3.6"/>
<circle class="pt" cx="1456.4" cy="1537.3" r="3.6"/>
<circle class="pt" cx="1697.1" cy="1552.1" r="3.6"/>
<circle class="pt" cx="1455.6" cy="1547.5" r="3.6"/>
<circle class="pt" cx="1617.6" cy="1560.1" r="3.6"/>
<circle class="pt" cx="1695.5" cy="1557.3" r="3.6"/>
<circle class="pt" cx="1401" cy="1563.8" r="3.6"/>
<circle class="pt" cx="1684.2" cy="1562.6" r="3.6"/>
<circle class="pt" cx="1637.8" cy="1555.2" r="3.6"/>
<circle class="pt" cx="1489.4" cy="1548.6" r="3.6"/>
<circle class="pt" cx="1546.9" cy="1550.5" r="3.6"/>
<circle class="pt" cx="1691.9" cy="1552.7" r="3.6"/>
<circle class="pt" cx="1572.7" cy="1551.7" r="3.6"/>
<circle class="pt" cx="1731.1" cy="1560" r="3.6"/>
<circle class="pt" cx="1466.8" cy="1559.2" r="3.6"/>
<circle class="pt" cx="1685.4" cy="1551.2" r="3.6"/>
<circle class="pt" cx="1521.2" cy="1556.4" r="3.6"/>
<circle class="pt" cx="1471.8" cy="1550.5" r="3.6"/>
<circle class="pt" cx="1684.8" cy="1556.1" r="3.6"/>
<circle class="pt" cx="1683.3" cy="1559" r="3.6"/>
<circle class="pt" cx="1468" cy="1554.3" r="3.6"/>
<circle class="pt" cx="1545.1" cy="1542.9" r="3.6"/>
<circle class="pt" cx="1525.4" cy="1555.6" r="3.6"/>
<circle class="pt" cx="1632.4" cy="1568.1" r="3.6"/>
<circle class="pt" cx="1557" cy="1543.9" r="3.6"/>
<circle class="pt" cx="1540.6" cy="1545.2" r="3.6"/>
<circle class="pt" cx="1700.6" cy="1563.8" r="3.6"/>
<rect class="bx" fill="#FFA500" x="1569" y="908.8" width="55" height="25.8"/>
<line class="md" x1="1596.8" y1="908.8" x2="1596.8" y2="934.6"/>
<polygon class="dm" points="1588.6,921.7 1596.8,914 1605,921.7 1596.8,929.4"/>
<rect class="bx" fill="#FB794A" x="1569" y="1014.3" width="34.1" height="25.8"/>
<line class="md" x1="1585.7" y1="1014.3" x2="1585.7" y2="1040.1"/>
<polygon class="dm" points="1577.5,1027.2 1585.7,1019.5 1593.9,1027.2 1585.7,1034.9"/>
<rect class="bx" fill="#F05576" x="1644.1" y="1119.8" width="17.9" height="25.8"/>
<line class="md" x1="1652.9" y1="1119.8" x2="1652.9" y2="1145.6"/>
<polygon class="dm" points="1644.7,1132.7 1652.9,1125 1661.1,1132.7 1652.9,1140.4"/>
<rect class="bx" fill="#C05091" x="1587.1" y="1225.3" width="23.4" height="25.8"/>
<line class="md" x1="1598.8" y1="1225.3" x2="1598.8" y2="1251.2"/>
<polygon class="dm" points="1590.6,1238.2 1598.8,1230.5 1607,1238.2 1598.8,1246"/>
<rect class="bx" fill="#7C5296" x="1590" y="1330.9" width="28.6" height="25.8"/>
<line class="md" x1="1604.4" y1="1330.9" x2="1604.4" y2="1356.7"/>
<polygon class="dm" points="1596.2,1343.8 1604.4,1336.1 1612.6,1343.8 1604.4,1351.5"/>
<rect class="bx" fill="#384E84" x="1619.9" y="1436.4" width="24.7" height="25.8"/>
<line class="md" x1="1632.3" y1="1436.4" x2="1632.3" y2="1462.2"/>
<polygon class="dm" points="1624.1,1449.3 1632.3,1441.6 1640.5,1449.3 1632.3,1457"/>
<rect class="bx" fill="#0C1C34" x="1595.9" y="1541.9" width="15.1" height="25.8"/>
<line class="md" x1="1603.5" y1="1541.9" x2="1603.5" y2="1567.7"/>
<polygon class="dm" points="1595.3,1554.8 1603.5,1547.1 1611.7,1554.8 1603.5,1562.5"/>
<path class="ax" d="M1181.3 858.4V1618.1H1940"/>
<text class="tk one" x="1208.4" y="1645.1">1</text>
<text class="tk" x="1379.6" y="1645.1">2</text>
<text class="tk" x="1552.3" y="1645.1">3</text>
<text class="tk" x="1725" y="1645.1">4</text>
<text class="tk" x="1897.7" y="1645.1">5</text>
<text class="tt" x="1560.7" y="1681.6">Agreeableness</text>
</g>
<text class="lb" x="384.3" y="933.1">Liver Donor</text>
<text class="lb" x="384.3" y="1038.6">Heroic Rescuer</text>
<text class="lb" x="384.3" y="1144.1">Kidney Donor (ND)</text>
<text class="lb" x="384.3" y="1249.7">Humanitarian Aid Worker</text>
<text class="lb" x="384.3" y="1355.2">Kidney Donor (D)</text>
<text class="lb" x="384.3" y="1460.7">Marrow Donor</text>
<text class="lb" x="384.3" y="1566.2">Control</text>
<text class="tt" transform="translate(28.3 1238.2) rotate(-90)" x="0" y="0">Group</text>
<g>
<rect class="yb" x="913" y="1710.4" width="24.2" height="759.7"/>
<rect class="gb" x="908.1" y="1710.4" width="10.6" height="759.7"/>
<line class="gd" x1="913.9" y1="2470.1" x2="913.9" y2="1710.4"/>
<line class="yd" x1="925.3" y1="2470.1" x2="925.3" y2="1710.4"/>
<circle class="pt" cx="809.5" cy="1761" r="3.6"/>
<circle class="pt" cx="890.1" cy="1788.9" r="3.6"/>
<circle class="pt" cx="905" cy="1779.2" r="3.6"/>
<circle class="pt" cx="946.7" cy="1785.9" r="3.6"/>
<circle class="pt" cx="974.2" cy="1757.9" r="3.6"/>
<circle class="pt" cx="1008.9" cy="1764" r="3.6"/>
<circle class="pt" cx="988.3" cy="1783.4" r="3.6"/>
<circle class="pt" cx="1009.9" cy="1783.4" r="3.6"/>
<circle class="pt" cx="721.2" cy="1888.5" r="3.6"/>
<circle class="pt" cx="769.3" cy="1883.1" r="3.6"/>
<circle class="pt" cx="792" cy="1870.4" r="3.6"/>
<circle class="pt" cx="792.2" cy="1883.9" r="3.6"/>
<circle class="pt" cx="815.4" cy="1874.8" r="3.6"/>
<circle class="pt" cx="825.7" cy="1865.8" r="3.6"/>
<circle class="pt" cx="833" cy="1872.6" r="3.6"/>
<circle class="pt" cx="853.3" cy="1886.8" r="3.6"/>
<circle class="pt" cx="887.4" cy="1870.7" r="3.6"/>
<circle class="pt" cx="887.4" cy="1894.8" r="3.6"/>
<circle class="pt" cx="902.6" cy="1893.4" r="3.6"/>
<circle class="pt" cx="922.6" cy="1886" r="3.6"/>
<circle class="pt" cx="928.7" cy="1868.2" r="3.6"/>
<circle class="pt" cx="962.4" cy="1873.8" r="3.6"/>
<circle class="pt" cx="963.6" cy="1873.4" r="3.6"/>
<circle class="pt" cx="978.7" cy="1868.7" r="3.6"/>
<circle class="pt" cx="976.5" cy="1878.2" r="3.6"/>
<circle class="pt" cx="992.9" cy="1879.9" r="3.6"/>
<circle class="pt" cx="987.5" cy="1893.4" r="3.6"/>
<circle class="pt" cx="1012.4" cy="1887.3" r="3.6"/>
<circle class="pt" cx="1027" cy="1878.2" r="3.6"/>
<circle class="pt" cx="1102.2" cy="1886.8" r="3.6"/>
<circle class="pt" cx="632.1" cy="1990.6" r="3.6"/>
<circle class="pt" cx="651.1" cy="1970.4" r="3.6"/>
<circle class="pt" cx="710" cy="1998" r="3.6"/>
<circle class="pt" cx="735.7" cy="1972" r="3.6"/>
<circle class="pt" cx="754.6" cy="1984.4" r="3.6"/>
<circle class="pt" cx="770.7" cy="1983" r="3.6"/>
<circle class="pt" cx="775.3" cy="1989.1" r="3.6"/>
<circle class="pt" cx="779.3" cy="1976.6" r="3.6"/>
<circle class="pt" cx="796.4" cy="1972.3" r="3.6"/>
<circle class="pt" cx="797.1" cy="1982.7" r="3.6"/>
<circle class="pt" cx="803.3" cy="1987.3" r="3.6"/>
<circle class="pt" cx="803.6" cy="1988.7" r="3.6"/>
<circle class="pt" cx="798.6" cy="2000.1" r="3.6"/>
<circle class="pt" cx="814.6" cy="1974.1" r="3.6"/>
<circle class="pt" cx="818.9" cy="1978.7" r="3.6"/>
<circle class="pt" cx="822.1" cy="1975.1" r="3.6"/>
<circle class="pt" cx="819" cy="1989.7" r="3.6"/>
<circle class="pt" cx="831.4" cy="1988" r="3.6"/>
<circle class="pt" cx="832.1" cy="1974.4" r="3.6"/>
<circle class="pt" cx="837.1" cy="1979.4" r="3.6"/>
<circle class="pt" cx="843.6" cy="1979.4" r="3.6"/>
<circle class="pt" cx="849.3" cy="1978.7" r="3.6"/>
<circle class="pt" cx="838.6" cy="1985.9" r="3.6"/>
<circle class="pt" cx="840" cy="1989.4" r="3.6"/>
<circle class="pt" cx="841.4" cy="1991.6" r="3.6"/>
<circle class="pt" cx="850.7" cy="1985.9" r="3.6"/>
<circle class="pt" cx="854.3" cy="1988" r="3.6"/>
<circle class="pt" cx="857.1" cy="1990.9" r="3.6"/>
<circle class="pt" cx="854.3" cy="1972" r="3.6"/>
<circle class="pt" cx="858.6" cy="1980.9" r="3.6"/>
<circle class="pt" cx="862.1" cy="1979.4" r="3.6"/>
<circle class="pt" cx="862.1" cy="1986.6" r="3.6"/>
<circle class="pt" cx="867.1" cy="1975.1" r="3.6"/>
<circle class="pt" cx="872.9" cy="1975.9" r="3.6"/>
<circle class="pt" cx="876.4" cy="1976.6" r="3.6"/>
<circle class="pt" cx="883.6" cy="1973" r="3.6"/>
<circle class="pt" cx="887.9" cy="1968.7" r="3.6"/>
<circle class="pt" cx="892.1" cy="1970.1" r="3.6"/>
<circle class="pt" cx="886.4" cy="1981.6" r="3.6"/>
<circle class="pt" cx="889.3" cy="1983" r="3.6"/>
<circle class="pt" cx="878.6" cy="1985.9" r="3.6"/>
<circle class="pt" cx="883.6" cy="1989.4" r="3.6"/>
<circle class="pt" cx="891.4" cy="1988" r="3.6"/>
<circle class="pt" cx="892.1" cy="1992.3" r="3.6"/>
<circle class="pt" cx="887.9" cy="1995.9" r="3.6"/>
<circle class="pt" cx="902.9" cy="1973" r="3.6"/>
<circle class="pt" cx="904.3" cy="1971.6" r="3.6"/>
<circle class="pt" cx="902.1" cy="1997.3" r="3.6"/>
<circle class="pt" cx="909.3" cy="1985.9" r="3.6"/>
<circle class="pt" cx="909.3" cy="1998.7" r="3.6"/>
<circle class="pt" cx="907.1" cy="1992.3" r="3.6"/>
<circle class="pt" cx="928.6" cy="1971.6" r="3.6"/>
<circle class="pt" cx="930" cy="1983" r="3.6"/>
<circle class="pt" cx="937.1" cy="1978.7" r="3.6"/>
<circle class="pt" cx="934.3" cy="1989.4" r="3.6"/>
<circle class="pt" cx="940" cy="1992.3" r="3.6"/>
<circle class="pt" cx="947.1" cy="1973" r="3.6"/>
<circle class="pt" cx="945.7" cy="1975.9" r="3.6"/>
<circle class="pt" cx="954.3" cy="1972.3" r="3.6"/>
<circle class="pt" cx="957.1" cy="1985.1" r="3.6"/>
<circle class="pt" cx="946.4" cy="1998.7" r="3.6"/>
<circle class="pt" cx="952.9" cy="1996.6" r="3.6"/>
<circle class="pt" cx="960" cy="1994.4" r="3.6"/>
<circle class="pt" cx="964.3" cy="1998" r="3.6"/>
<circle class="pt" cx="964.3" cy="1978.7" r="3.6"/>
<circle class="pt" cx="969.3" cy="1971.6" r="3.6"/>
<circle class="pt" cx="964.3" cy="1985.1" r="3.6"/>
<circle class="pt" cx="971.4" cy="1983" r="3.6"/>
<circle class="pt" cx="975" cy="1982.3" r="3.6"/>
<circle class="pt" cx="970.7" cy="1988.7" r="3.6"/>
<circle class="pt" cx="980.7" cy="1975.9" r="3.6"/>
<circle class="pt" cx="987.9" cy="1975.9" r="3.6"/>
<circle class="pt" cx="986.4" cy="1978" r="3.6"/>
<circle class="pt" cx="981.4" cy="1988" r="3.6"/>
<circle class="pt" cx="987.9" cy="1989.4" r="3.6"/>
<circle class="pt" cx="992.9" cy="1989.4" r="3.6"/>
<circle class="pt" cx="980" cy="1998" r="3.6"/>
<circle class="pt" cx="988.6" cy="1998.4" r="3.6"/>
<circle class="pt" cx="995.7" cy="1995.9" r="3.6"/>
<circle class="pt" cx="997.1" cy="1968.7" r="3.6"/>
<circle class="pt" cx="1009.3" cy="1974.4" r="3.6"/>
<circle class="pt" cx="1014.3" cy="1976.6" r="3.6"/>
<circle class="pt" cx="1015" cy="1982.3" r="3.6"/>
<circle class="pt" cx="1010.7" cy="1990.4" r="3.6"/>
<circle class="pt" cx="1020.7" cy="1998" r="3.6"/>
<circle class="pt" cx="1026.4" cy="1991.3" r="3.6"/>
<circle class="pt" cx="1027.1" cy="1971.6" r="3.6"/>
<circle class="pt" cx="1028.6" cy="1978.7" r="3.6"/>
<circle class="pt" cx="1034.3" cy="1979.4" r="3.6"/>
<circle class="pt" cx="1048.6" cy="1975.1" r="3.6"/>
<circle class="pt" cx="1048.3" cy="1982.3" r="3.6"/>
<circle class="pt" cx="1042.9" cy="1989.9" r="3.6"/>
<circle class="pt" cx="1058.6" cy="1975.9" r="3.6"/>
<circle class="pt" cx="1063.6" cy="1975.9" r="3.6"/>
<circle class="pt" cx="1062.9" cy="1995.9" r="3.6"/>
<circle class="pt" cx="1078.6" cy="1977.3" r="3.6"/>
<circle class="pt" cx="1075.7" cy="1999.4" r="3.6"/>
<circle class="pt" cx="1090" cy="1985.1" r="3.6"/>
<circle class="pt" cx="1093.6" cy="1997.6" r="3.6"/>
<circle class="pt" cx="1097.9" cy="1990.9" r="3.6"/>
<circle class="pt" cx="889.8" cy="1981.8" r="3.6"/>
<circle class="pt" cx="859.2" cy="1990.6" r="3.6"/>
<circle class="pt" cx="880" cy="1989.6" r="3.6"/>
<circle class="pt" cx="938.8" cy="1977.2" r="3.6"/>
<circle class="pt" cx="849.9" cy="1980.2" r="3.6"/>
<circle class="pt" cx="968" cy="1968.5" r="3.6"/>
<circle class="pt" cx="976.2" cy="1983.5" r="3.6"/>
<circle class="pt" cx="955.2" cy="1996.6" r="3.6"/>
<circle class="pt" cx="935.4" cy="1976.2" r="3.6"/>
<circle class="pt" cx="990.8" cy="1998.1" r="3.6"/>
<circle class="pt" cx="718.1" cy="2091.5" r="3.6"/>
<circle class="pt" cx="748.9" cy="2095.4" r="3.6"/>
<circle class="pt" cx="788.8" cy="2078.3" r="3.6"/>
<circle class="pt" cx="788.1" cy="2091.5" r="3.6"/>
<circle class="pt" cx="802.4" cy="2074.7" r="3.6"/>
<circle class="pt" cx="817.2" cy="2088.4" r="3.6"/>
<circle class="pt" cx="820.2" cy="2093.2" r="3.6"/>
<circle class="pt" cx="820" cy="2104.7" r="3.6"/>
<circle class="pt" cx="825.1" cy="2105.1" r="3.6"/>
<circle class="pt" cx="841.8" cy="2076.7" r="3.6"/>
<circle class="pt" cx="841.6" cy="2082.2" r="3.6"/>
<circle class="pt" cx="855" cy="2095" r="3.6"/>
<circle class="pt" cx="871.3" cy="2092.1" r="3.6"/>
<circle class="pt" cx="882.4" cy="2092.1" r="3.6"/>
<circle class="pt" cx="883.2" cy="2095.9" r="3.6"/>
<circle class="pt" cx="889.8" cy="2091.5" r="3.6"/>
<circle class="pt" cx="894.7" cy="2096.5" r="3.6"/>
<circle class="pt" cx="875.5" cy="2103.8" r="3.6"/>
<circle class="pt" cx="905.9" cy="2080.5" r="3.6"/>
<circle class="pt" cx="930.1" cy="2074.5" r="3.6"/>
<circle class="pt" cx="937.9" cy="2075.6" r="3.6"/>
<circle class="pt" cx="940.7" cy="2074.5" r="3.6"/>
<circle class="pt" cx="941.6" cy="2088.8" r="3.6"/>
<circle class="pt" cx="947.3" cy="2084.4" r="3.6"/>
<circle class="pt" cx="954.8" cy="2089.9" r="3.6"/>
<circle class="pt" cx="958.8" cy="2087.3" r="3.6"/>
<circle class="pt" cx="955.5" cy="2095" r="3.6"/>
<circle class="pt" cx="951.1" cy="2097.2" r="3.6"/>
<circle class="pt" cx="947.8" cy="2098.7" r="3.6"/>
<circle class="pt" cx="942.9" cy="2100.9" r="3.6"/>
<circle class="pt" cx="930.1" cy="2104.2" r="3.6"/>
<circle class="pt" cx="971.6" cy="2088.2" r="3.6"/>
<circle class="pt" cx="974.2" cy="2091.5" r="3.6"/>
<circle class="pt" cx="973.1" cy="2093.7" r="3.6"/>
<circle class="pt" cx="979.7" cy="2077.2" r="3.6"/>
<circle class="pt" cx="981.5" cy="2093.2" r="3.6"/>
<circle class="pt" cx="991.8" cy="2074.5" r="3.6"/>
<circle class="pt" cx="992.9" cy="2081.1" r="3.6"/>
<circle class="pt" cx="990.7" cy="2082.7" r="3.6"/>
<circle class="pt" cx="987" cy="2103.1" r="3.6"/>
<circle class="pt" cx="998.4" cy="2099.4" r="3.6"/>
<circle class="pt" cx="1008.3" cy="2091.5" r="3.6"/>
<circle class="pt" cx="1012.3" cy="2087.3" r="3.6"/>
<circle class="pt" cx="1014.5" cy="2088.4" r="3.6"/>
<circle class="pt" cx="1025.5" cy="2099.8" r="3.6"/>
<circle class="pt" cx="1033.7" cy="2086.6" r="3.6"/>
<circle class="pt" cx="1039.8" cy="2100.5" r="3.6"/>
<circle class="pt" cx="1056.8" cy="2099" r="3.6"/>
<circle class="pt" cx="688.5" cy="2205.5" r="3.6"/>
<circle class="pt" cx="744.7" cy="2197.4" r="3.6"/>
<circle class="pt" cx="783.2" cy="2201.3" r="3.6"/>
<circle class="pt" cx="800.6" cy="2191.8" r="3.6"/>
<circle class="pt" cx="814.5" cy="2195.2" r="3.6"/>
<circle class="pt" cx="814" cy="2204.8" r="3.6"/>
<circle class="pt" cx="820.3" cy="2210.4" r="3.6"/>
<circle class="pt" cx="832.5" cy="2182.1" r="3.6"/>
<circle class="pt" cx="835.5" cy="2190.4" r="3.6"/>
<circle class="pt" cx="844.5" cy="2188.6" r="3.6"/>
<circle class="pt" cx="833" cy="2201.3" r="3.6"/>
<circle class="pt" cx="860.6" cy="2188.9" r="3.6"/>
<circle class="pt" cx="866" cy="2196.5" r="3.6"/>
<circle class="pt" cx="867.9" cy="2180.1" r="3.6"/>
<circle class="pt" cx="868.4" cy="2181.1" r="3.6"/>
<circle class="pt" cx="860.4" cy="2209.9" r="3.6"/>
<circle class="pt" cx="878.7" cy="2195.2" r="3.6"/>
<circle class="pt" cx="876.7" cy="2200.9" r="3.6"/>
<circle class="pt" cx="878.9" cy="2210.4" r="3.6"/>
<circle class="pt" cx="887.9" cy="2203" r="3.6"/>
<circle class="pt" cx="889.9" cy="2205.5" r="3.6"/>
<circle class="pt" cx="893.8" cy="2202.6" r="3.6"/>
<circle class="pt" cx="901.6" cy="2195.2" r="3.6"/>
<circle class="pt" cx="907" cy="2183" r="3.6"/>
<circle class="pt" cx="911.4" cy="2186.7" r="3.6"/>
<circle class="pt" cx="912.6" cy="2202.6" r="3.6"/>
<circle class="pt" cx="924" cy="2179.1" r="3.6"/>
<circle class="pt" cx="943.1" cy="2188.9" r="3.6"/>
<circle class="pt" cx="944.8" cy="2206.2" r="3.6"/>
<circle class="pt" cx="941.1" cy="2211.1" r="3.6"/>
<circle class="pt" cx="958.2" cy="2180.6" r="3.6"/>
<circle class="pt" cx="963.8" cy="2181.8" r="3.6"/>
<circle class="pt" cx="958.2" cy="2185.5" r="3.6"/>
<circle class="pt" cx="961.9" cy="2190.8" r="3.6"/>
<circle class="pt" cx="959.4" cy="2195.7" r="3.6"/>
<circle class="pt" cx="957" cy="2201.3" r="3.6"/>
<circle class="pt" cx="961.9" cy="2201.3" r="3.6"/>
<circle class="pt" cx="969.9" cy="2190.8" r="3.6"/>
<circle class="pt" cx="971.6" cy="2199.4" r="3.6"/>
<circle class="pt" cx="975.3" cy="2201.1" r="3.6"/>
<circle class="pt" cx="975.8" cy="2180.4" r="3.6"/>
<circle class="pt" cx="990.9" cy="2191.6" r="3.6"/>
<circle class="pt" cx="1005.1" cy="2184.7" r="3.6"/>
<circle class="pt" cx="1012.4" cy="2182.8" r="3.6"/>
<circle class="pt" cx="1023.6" cy="2183" r="3.6"/>
<circle class="pt" cx="1030.9" cy="2180.6" r="3.6"/>
<circle class="pt" cx="1024.6" cy="2189.1" r="3.6"/>
<circle class="pt" cx="1027.8" cy="2191.6" r="3.6"/>
<circle class="pt" cx="1031.4" cy="2190.8" r="3.6"/>
<circle class="pt" cx="1028.3" cy="2196.2" r="3.6"/>
<circle class="pt" cx="1006" cy="2200.6" r="3.6"/>
<circle class="pt" cx="1013.1" cy="2201.8" r="3.6"/>
<circle class="pt" cx="1037.5" cy="2198.9" r="3.6"/>
<circle class="pt" cx="1040.5" cy="2206" r="3.6"/>
<circle class="pt" cx="1027.8" cy="2208.2" r="3.6"/>
<circle class="pt" cx="1055.8" cy="2204.3" r="3.6"/>
<circle class="pt" cx="1074.1" cy="2201.3" r="3.6"/>
<circle class="pt" cx="1076.6" cy="2196.2" r="3.6"/>
<circle class="pt" cx="721.4" cy="2301.9" r="3.6"/>
<circle class="pt" cx="745.2" cy="2286.9" r="3.6"/>
<circle class="pt" cx="748.1" cy="2302.3" r="3.6"/>
<circle class="pt" cx="762.6" cy="2312.3" r="3.6"/>
<circle class="pt" cx="790" cy="2298.8" r="3.6"/>
<circle class="pt" cx="787.4" cy="2309.7" r="3.6"/>
<circle class="pt" cx="797.1" cy="2304.7" r="3.6"/>
<circle class="pt" cx="804.3" cy="2285.2" r="3.6"/>
<circle class="pt" cx="809.5" cy="2304.2" r="3.6"/>
<circle class="pt" cx="848.3" cy="2300" r="3.6"/>
<circle class="pt" cx="871.4" cy="2316.1" r="3.6"/>
<circle class="pt" cx="877.4" cy="2315.4" r="3.6"/>
<circle class="pt" cx="892.4" cy="2312.3" r="3.6"/>
<circle class="pt" cx="900.5" cy="2313" r="3.6"/>
<circle class="pt" cx="895.7" cy="2288" r="3.6"/>
<circle class="pt" cx="904" cy="2289.2" r="3.6"/>
<circle class="pt" cx="908.3" cy="2285.7" r="3.6"/>
<circle class="pt" cx="912.6" cy="2293.5" r="3.6"/>
<circle class="pt" cx="909" cy="2307.8" r="3.6"/>
<circle class="pt" cx="911.4" cy="2315.4" r="3.6"/>
<circle class="pt" cx="917.9" cy="2300" r="3.6"/>
<circle class="pt" cx="925.7" cy="2284.5" r="3.6"/>
<circle class="pt" cx="947.6" cy="2300" r="3.6"/>
<circle class="pt" cx="959.5" cy="2286.9" r="3.6"/>
<circle class="pt" cx="958.8" cy="2290.9" r="3.6"/>
<circle class="pt" cx="964.3" cy="2289.7" r="3.6"/>
<circle class="pt" cx="960" cy="2301.1" r="3.6"/>
<circle class="pt" cx="953.6" cy="2305.9" r="3.6"/>
<circle class="pt" cx="956.4" cy="2310.7" r="3.6"/>
<circle class="pt" cx="976.2" cy="2307.1" r="3.6"/>
<circle class="pt" cx="1006.4" cy="2301.6" r="3.6"/>
<circle class="pt" cx="1012.4" cy="2301.1" r="3.6"/>
<circle class="pt" cx="1013.6" cy="2307.1" r="3.6"/>
<circle class="pt" cx="1021.9" cy="2285.2" r="3.6"/>
<circle class="pt" cx="1020.7" cy="2291.1" r="3.6"/>
<circle class="pt" cx="1028.6" cy="2290" r="3.6"/>
<circle class="pt" cx="1028.1" cy="2296.4" r="3.6"/>
<circle class="pt" cx="1029.8" cy="2297.6" r="3.6"/>
<circle class="pt" cx="1029.8" cy="2308.3" r="3.6"/>
<circle class="pt" cx="1044" cy="2315.7" r="3.6"/>
<circle class="pt" cx="1057.1" cy="2316.1" r="3.6"/>
<circle class="pt" cx="1060.7" cy="2287.3" r="3.6"/>
<circle class="pt" cx="1073.1" cy="2289.7" r="3.6"/>
<circle class="pt" cx="1083.3" cy="2292.8" r="3.6"/>
<circle class="pt" cx="1078.6" cy="2313" r="3.6"/>
<circle class="pt" cx="666.5" cy="2412.1" r="3.6"/>
<circle class="pt" cx="682.9" cy="2398.6" r="3.6"/>
<circle class="pt" cx="697.6" cy="2401.2" r="3.6"/>
<circle class="pt" cx="699.3" cy="2405.4" r="3.6"/>
<circle class="pt" cx="706.5" cy="2397.5" r="3.6"/>
<circle class="pt" cx="714.1" cy="2401.6" r="3.6"/>
<circle class="pt" cx="719.6" cy="2396.9" r="3.6"/>
<circle class="pt" cx="713.3" cy="2409.3" r="3.6"/>
<circle class="pt" cx="704.5" cy="2416.9" r="3.6"/>
<circle class="pt" cx="746.4" cy="2393.1" r="3.6"/>
<circle class="pt" cx="756.2" cy="2394.4" r="3.6"/>
<circle class="pt" cx="750.6" cy="2410.4" r="3.6"/>
<circle class="pt" cx="751" cy="2411" r="3.6"/>
<circle class="pt" cx="797.5" cy="2396" r="3.6"/>
<circle class="pt" cx="790" cy="2421.1" r="3.6"/>
<circle class="pt" cx="817.8" cy="2392.7" r="3.6"/>
<circle class="pt" cx="820.4" cy="2397.3" r="3.6"/>
<circle class="pt" cx="820.4" cy="2402.5" r="3.6"/>
<circle class="pt" cx="821.7" cy="2405.8" r="3.6"/>
<circle class="pt" cx="816.5" cy="2406.7" r="3.6"/>
<circle class="pt" cx="820.4" cy="2409.7" r="3.6"/>
<circle class="pt" cx="818.5" cy="2414.3" r="3.6"/>
<circle class="pt" cx="819.8" cy="2418.2" r="3.6"/>
<circle class="pt" cx="819.1" cy="2420.8" r="3.6"/>
<circle class="pt" cx="813.9" cy="2420.2" r="3.6"/>
<circle class="pt" cx="808.6" cy="2420.8" r="3.6"/>
<circle class="pt" cx="825.7" cy="2413.6" r="3.6"/>
<circle class="pt" cx="834.2" cy="2393.3" r="3.6"/>
<circle class="pt" cx="837.4" cy="2394" r="3.6"/>
<circle class="pt" cx="843.3" cy="2394.6" r="3.6"/>
<circle class="pt" cx="848.6" cy="2390.5" r="3.6"/>
<circle class="pt" cx="834.2" cy="2405.1" r="3.6"/>
<circle class="pt" cx="838.8" cy="2400.5" r="3.6"/>
<circle class="pt" cx="843.3" cy="2401.8" r="3.6"/>
<circle class="pt" cx="838.1" cy="2403.2" r="3.6"/>
<circle class="pt" cx="836.1" cy="2410.4" r="3.6"/>
<circle class="pt" cx="840.7" cy="2411.7" r="3.6"/>
<circle class="pt" cx="844" cy="2414.3" r="3.6"/>
<circle class="pt" cx="840.1" cy="2416.9" r="3.6"/>
<circle class="pt" cx="838.1" cy="2420.8" r="3.6"/>
<circle class="pt" cx="857.1" cy="2394.6" r="3.6"/>
<circle class="pt" cx="860.4" cy="2392.7" r="3.6"/>
<circle class="pt" cx="856.4" cy="2400.5" r="3.6"/>
<circle class="pt" cx="858.4" cy="2396" r="3.6"/>
<circle class="pt" cx="848.6" cy="2407.7" r="3.6"/>
<circle class="pt" cx="856.4" cy="2409.7" r="3.6"/>
<circle class="pt" cx="857.1" cy="2413" r="3.6"/>
<circle class="pt" cx="859.7" cy="2416.9" r="3.6"/>
<circle class="pt" cx="852.5" cy="2421.5" r="3.6"/>
<circle class="pt" cx="853.8" cy="2422.1" r="3.6"/>
<circle class="pt" cx="861" cy="2421.5" r="3.6"/>
<circle class="pt" cx="866.2" cy="2407.7" r="3.6"/>
<circle class="pt" cx="869.5" cy="2390.7" r="3.6"/>
<circle class="pt" cx="874.8" cy="2391.4" r="3.6"/>
<circle class="pt" cx="877.4" cy="2400.5" r="3.6"/>
<circle class="pt" cx="872.8" cy="2412.3" r="3.6"/>
<circle class="pt" cx="873.5" cy="2420.2" r="3.6"/>
<circle class="pt" cx="866.2" cy="2422.1" r="3.6"/>
<circle class="pt" cx="883.4" cy="2399" r="3.6"/>
<circle class="pt" cx="886.2" cy="2405.1" r="3.6"/>
<circle class="pt" cx="891" cy="2393.5" r="3.6"/>
<circle class="pt" cx="894.4" cy="2390.7" r="3.6"/>
<circle class="pt" cx="891.6" cy="2399.6" r="3.6"/>
<circle class="pt" cx="893.7" cy="2407.2" r="3.6"/>
<circle class="pt" cx="896.4" cy="2409.2" r="3.6"/>
<circle class="pt" cx="885.5" cy="2416.1" r="3.6"/>
<circle class="pt" cx="888.2" cy="2422.2" r="3.6"/>
<circle class="pt" cx="893" cy="2418.8" r="3.6"/>
<circle class="pt" cx="895.1" cy="2420.2" r="3.6"/>
<circle class="pt" cx="901.9" cy="2390.7" r="3.6"/>
<circle class="pt" cx="904.6" cy="2398.3" r="3.6"/>
<circle class="pt" cx="900.5" cy="2403.8" r="3.6"/>
<circle class="pt" cx="903.3" cy="2409.2" r="3.6"/>
<circle class="pt" cx="902.6" cy="2418.8" r="3.6"/>
<circle class="pt" cx="905.3" cy="2416.8" r="3.6"/>
<circle class="pt" cx="922.4" cy="2403.8" r="3.6"/>
<circle class="pt" cx="925.2" cy="2398.3" r="3.6"/>
<circle class="pt" cx="930.7" cy="2391.4" r="3.6"/>
<circle class="pt" cx="936.1" cy="2392.1" r="3.6"/>
<circle class="pt" cx="942.3" cy="2393.5" r="3.6"/>
<circle class="pt" cx="929.3" cy="2409.2" r="3.6"/>
<circle class="pt" cx="937.5" cy="2405.8" r="3.6"/>
<circle class="pt" cx="930" cy="2418.1" r="3.6"/>
<circle class="pt" cx="938.2" cy="2421.5" r="3.6"/>
<circle class="pt" cx="921.1" cy="2420.2" r="3.6"/>
<circle class="pt" cx="923.8" cy="2414.7" r="3.6"/>
<circle class="pt" cx="951.9" cy="2390.1" r="3.6"/>
<circle class="pt" cx="956.7" cy="2391.4" r="3.6"/>
<circle class="pt" cx="962.1" cy="2393.5" r="3.6"/>
<circle class="pt" cx="964.9" cy="2392.1" r="3.6"/>
<circle class="pt" cx="969" cy="2396.2" r="3.6"/>
<circle class="pt" cx="975.8" cy="2394.2" r="3.6"/>
<circle class="pt" cx="974.5" cy="2399.6" r="3.6"/>
<circle class="pt" cx="978.6" cy="2397.6" r="3.6"/>
<circle class="pt" cx="982" cy="2394.2" r="3.6"/>
<circle class="pt" cx="984" cy="2396.9" r="3.6"/>
<circle class="pt" cx="988.8" cy="2392.1" r="3.6"/>
<circle class="pt" cx="989.5" cy="2398.3" r="3.6"/>
<circle class="pt" cx="979.3" cy="2403.8" r="3.6"/>
<circle class="pt" cx="962.1" cy="2403.8" r="3.6"/>
<circle class="pt" cx="959.4" cy="2407.2" r="3.6"/>
<circle class="pt" cx="955.3" cy="2409.2" r="3.6"/>
<circle class="pt" cx="953.9" cy="2414.7" r="3.6"/>
<circle class="pt" cx="957.4" cy="2416.1" r="3.6"/>
<circle class="pt" cx="960.8" cy="2416.1" r="3.6"/>
<circle class="pt" cx="956" cy="2420.9" r="3.6"/>
<circle class="pt" cx="967.6" cy="2412" r="3.6"/>
<circle class="pt" cx="971.7" cy="2413.3" r="3.6"/>
<circle class="pt" cx="975.8" cy="2410.6" r="3.6"/>
<circle class="pt" cx="979.9" cy="2414" r="3.6"/>
<circle class="pt" cx="974.5" cy="2419.5" r="3.6"/>
<circle class="pt" cx="977.9" cy="2422.2" r="3.6"/>
<circle class="pt" cx="987.5" cy="2411.3" r="3.6"/>
<circle class="pt" cx="993.6" cy="2412" r="3.6"/>
<circle class="pt" cx="988.2" cy="2421.5" r="3.6"/>
<circle class="pt" cx="997.7" cy="2391.4" r="3.6"/>
<circle class="pt" cx="1003.9" cy="2392.8" r="3.6"/>
<circle class="pt" cx="1010.1" cy="2393.5" r="3.6"/>
<circle class="pt" cx="1016.2" cy="2396.2" r="3.6"/>
<circle class="pt" cx="997.1" cy="2395.5" r="3.6"/>
<circle class="pt" cx="997.7" cy="2403.8" r="3.6"/>
<circle class="pt" cx="1002.5" cy="2407.2" r="3.6"/>
<circle class="pt" cx="1008" cy="2405.8" r="3.6"/>
<circle class="pt" cx="1012.8" cy="2404.4" r="3.6"/>
<circle class="pt" cx="1017.6" cy="2404.4" r="3.6"/>
<circle class="pt" cx="1009.4" cy="2410.6" r="3.6"/>
<circle class="pt" cx="1016.9" cy="2412" r="3.6"/>
<circle class="pt" cx="1023.1" cy="2414.7" r="3.6"/>
<circle class="pt" cx="1027.9" cy="2399.6" r="3.6"/>
<circle class="pt" cx="1040.9" cy="2396.9" r="3.6"/>
<circle class="pt" cx="1046.3" cy="2400.3" r="3.6"/>
<circle class="pt" cx="1043.6" cy="2404.4" r="3.6"/>
<circle class="pt" cx="1047.7" cy="2408.5" r="3.6"/>
<circle class="pt" cx="1051.1" cy="2411.3" r="3.6"/>
<circle class="pt" cx="1049.1" cy="2414" r="3.6"/>
<circle class="pt" cx="1040.2" cy="2413.3" r="3.6"/>
<circle class="pt" cx="1038.8" cy="2420.2" r="3.6"/>
<circle class="pt" cx="1042.2" cy="2421.5" r="3.6"/>
<circle class="pt" cx="1056.6" cy="2416.1" r="3.6"/>
<circle class="pt" cx="1063.5" cy="2390.7" r="3.6"/>
<circle class="pt" cx="1068.2" cy="2416.8" r="3.6"/>
<circle class="pt" cx="1075.8" cy="2418.1" r="3.6"/>
<circle class="pt" cx="1073.7" cy="2421.5" r="3.6"/>
<circle class="pt" cx="1079.2" cy="2395.5" r="3.6"/>
<circle class="pt" cx="1098.4" cy="2392.5" r="3.6"/>
<circle class="pt" cx="1097" cy="2400.3" r="3.6"/>
<circle class="pt" cx="850.4" cy="2408" r="3.6"/>
<circle class="pt" cx="890.3" cy="2398" r="3.6"/>
<circle class="pt" cx="824.4" cy="2410.7" r="3.6"/>
<circle class="pt" cx="894.3" cy="2420.4" r="3.6"/>
<circle class="pt" cx="840.4" cy="2417.8" r="3.6"/>
<circle class="pt" cx="823.9" cy="2408.2" r="3.6"/>
<circle class="pt" cx="976.2" cy="2414.5" r="3.6"/>
<circle class="pt" cx="981" cy="2415.2" r="3.6"/>
<circle class="pt" cx="864.9" cy="2407" r="3.6"/>
<circle class="pt" cx="1046.4" cy="2406.1" r="3.6"/>
<circle class="pt" cx="888.1" cy="2418.1" r="3.6"/>
<circle class="pt" cx="957.4" cy="2415.2" r="3.6"/>
<circle class="pt" cx="854.7" cy="2420.5" r="3.6"/>
<circle class="pt" cx="838.9" cy="2405.3" r="3.6"/>
<circle class="pt" cx="821.2" cy="2420.5" r="3.6"/>
<circle class="pt" cx="903.6" cy="2416.1" r="3.6"/>
<circle class="pt" cx="824" cy="2408.8" r="3.6"/>
<circle class="pt" cx="847.4" cy="2387.8" r="3.6"/>
<circle class="pt" cx="966.9" cy="2391.3" r="3.6"/>
<circle class="pt" cx="976.8" cy="2403.5" r="3.6"/>
<circle class="pt" cx="866.8" cy="2423.8" r="3.6"/>
<circle class="pt" cx="1016.4" cy="2402.9" r="3.6"/>
<circle class="pt" cx="977.1" cy="2413.5" r="3.6"/>
<circle class="pt" cx="957.4" cy="2389" r="3.6"/>
<circle class="pt" cx="1047.2" cy="2406" r="3.6"/>
<circle class="pt" cx="837.3" cy="2395.8" r="3.6"/>
<circle class="pt" cx="905.8" cy="2395.1" r="3.6"/>
<circle class="pt" cx="976.6" cy="2398.6" r="3.6"/>
<circle class="pt" cx="978.4" cy="2411.2" r="3.6"/>
<circle class="pt" cx="925.9" cy="2395.4" r="3.6"/>
<circle class="pt" cx="838.5" cy="2418.5" r="3.6"/>
<circle class="pt" cx="861" cy="2394" r="3.6"/>
<circle class="pt" cx="973.2" cy="2395" r="3.6"/>
<circle class="pt" cx="822.7" cy="2414.1" r="3.6"/>
<circle class="pt" cx="848.5" cy="2421.3" r="3.6"/>
<circle class="pt" cx="1016.2" cy="2406.2" r="3.6"/>
<circle class="pt" cx="977.2" cy="2407.3" r="3.6"/>
<circle class="pt" cx="840.2" cy="2405.4" r="3.6"/>
<circle class="pt" cx="988.7" cy="2412.2" r="3.6"/>
<circle class="pt" cx="1045.4" cy="2403.3" r="3.6"/>
<circle class="pt" cx="986.4" cy="2414.7" r="3.6"/>
<circle class="pt" cx="818.8" cy="2396" r="3.6"/>
<circle class="pt" cx="981.7" cy="2398.1" r="3.6"/>
<circle class="pt" cx="824.1" cy="2414.2" r="3.6"/>
<rect class="bx" fill="#FFA500" x="924.9" y="1760.8" width="33.1" height="25.8"/>
<line class="md" x1="941.3" y1="1760.8" x2="941.3" y2="1786.6"/>
<polygon class="dm" points="933.1,1773.7 941.3,1766 949.5,1773.7 941.3,1781.4"/>
<rect class="bx" fill="#FB794A" x="889.9" y="1866.3" width="33.1" height="25.8"/>
<line class="md" x1="906.3" y1="1866.3" x2="906.3" y2="1892.1"/>
<polygon class="dm" points="898.1,1879.2 906.3,1871.5 914.5,1879.2 906.3,1886.9"/>
<rect class="bx" fill="#F05576" x="911.2" y="1971.8" width="15.4" height="25.8"/>
<line class="md" x1="918.9" y1="1971.8" x2="918.9" y2="1997.6"/>
<polygon class="dm" points="910.7,1984.7 918.9,1977 927.1,1984.7 918.9,1992.4"/>
<rect class="bx" fill="#C05091" x="910.9" y="2077.3" width="21.1" height="25.8"/>
<line class="md" x1="921.4" y1="2077.3" x2="921.4" y2="2103.2"/>
<polygon class="dm" points="913.2,2090.2 921.4,2082.6 929.6,2090.2 921.4,2097.9"/>
<rect class="bx" fill="#7C5296" x="920.7" y="2182.9" width="19.7" height="25.8"/>
<line class="md" x1="930.3" y1="2182.9" x2="930.3" y2="2208.7"/>
<polygon class="dm" points="922.1,2195.8 930.3,2188.1 938.5,2195.8 930.3,2203.5"/>
<rect class="bx" fill="#384E84" x="921.5" y="2288.4" width="24.7" height="25.8"/>
<line class="md" x1="933.5" y1="2288.4" x2="933.5" y2="2314.2"/>
<polygon class="dm" points="925.3,2301.3 933.5,2293.6 941.7,2301.3 933.5,2309"/>
<rect class="bx" fill="#0C1C34" x="907.5" y="2393.9" width="12.4" height="25.8"/>
<line class="md" x1="913.9" y1="2393.9" x2="913.9" y2="2419.7"/>
<polygon class="dm" points="905.7,2406.8 913.9,2399.1 922.1,2406.8 913.9,2414.5"/>
<path class="ax" d="M389.1 1710.4V2470.1H1148"/>
<text class="tk one" x="416.3" y="2497.1">1</text>
<text class="tk" x="587.5" y="2497.1">2</text>
<text class="tk" x="760.2" y="2497.1">3</text>
<text class="tk" x="932.9" y="2497.1">4</text>
<text class="tk" x="1105.6" y="2497.1">5</text>
<text class="tt" x="768.5" y="2533.6">Conscientiousness</text>
</g>
<g>
<rect class="yb" x="1651.8" y="1710.4" width="35.9" height="759.7"/>
<rect class="gb" x="1690.4" y="1710.4" width="13.6" height="759.7"/>
<line class="gd" x1="1697.1" y1="2470.1" x2="1697.1" y2="1710.4"/>
<line class="yd" x1="1669.2" y1="2470.1" x2="1669.2" y2="1710.4"/>
<circle class="pt" cx="1474.6" cy="1788.5" r="3.6"/>
<circle class="pt" cx="1486.7" cy="1783.3" r="3.6"/>
<circle class="pt" cx="1497.9" cy="1760.9" r="3.6"/>
<circle class="pt" cx="1610.7" cy="1763.9" r="3.6"/>
<circle class="pt" cx="1729.6" cy="1770.5" r="3.6"/>
<circle class="pt" cx="1748.5" cy="1779" r="3.6"/>
<circle class="pt" cx="1783.2" cy="1757.9" r="3.6"/>
<circle class="pt" cx="1901.2" cy="1763.6" r="3.6"/>
<circle class="pt" cx="1434.2" cy="1893.5" r="3.6"/>
<circle class="pt" cx="1486.8" cy="1873" r="3.6"/>
<circle class="pt" cx="1497.2" cy="1865.6" r="3.6"/>
<circle class="pt" cx="1546.5" cy="1882" r="3.6"/>
<circle class="pt" cx="1553.6" cy="1890" r="3.6"/>
<circle class="pt" cx="1559.1" cy="1886.7" r="3.6"/>
<circle class="pt" cx="1576.1" cy="1887" r="3.6"/>
<circle class="pt" cx="1576.1" cy="1894.9" r="3.6"/>
<circle class="pt" cx="1591.7" cy="1891.9" r="3.6"/>
<circle class="pt" cx="1606.7" cy="1869.7" r="3.6"/>
<circle class="pt" cx="1607.6" cy="1875.2" r="3.6"/>
<circle class="pt" cx="1671.1" cy="1883.4" r="3.6"/>
<circle class="pt" cx="1680.4" cy="1870.8" r="3.6"/>
<circle class="pt" cx="1720.6" cy="1868.4" r="3.6"/>
<circle class="pt" cx="1716.8" cy="1878.5" r="3.6"/>
<circle class="pt" cx="1721.2" cy="1887.2" r="3.6"/>
<circle class="pt" cx="1733" cy="1880.1" r="3.6"/>
<circle class="pt" cx="1754.6" cy="1874.7" r="3.6"/>
<circle class="pt" cx="1750.2" cy="1889.4" r="3.6"/>
<circle class="pt" cx="1768.3" cy="1883.4" r="3.6"/>
<circle class="pt" cx="1808" cy="1873.3" r="3.6"/>
<circle class="pt" cx="1839.8" cy="1868.6" r="3.6"/>
<circle class="pt" cx="1404.4" cy="1977" r="3.6"/>
<circle class="pt" cx="1417.3" cy="1985.9" r="3.6"/>
<circle class="pt" cx="1436.3" cy="1975.8" r="3.6"/>
<circle class="pt" cx="1454.1" cy="1982.1" r="3.6"/>
<circle class="pt" cx="1468.5" cy="1973.8" r="3.6"/>
<circle class="pt" cx="1487.1" cy="1975.5" r="3.6"/>
<circle class="pt" cx="1490.2" cy="1974.7" r="3.6"/>
<circle class="pt" cx="1486.7" cy="1998.1" r="3.6"/>
<circle class="pt" cx="1512.2" cy="1968.9" r="3.6"/>
<circle class="pt" cx="1511.4" cy="1991.4" r="3.6"/>
<circle class="pt" cx="1519.5" cy="1998.1" r="3.6"/>
<circle class="pt" cx="1531.9" cy="1997.8" r="3.6"/>
<circle class="pt" cx="1538.4" cy="1975.5" r="3.6"/>
<circle class="pt" cx="1548.9" cy="1975" r="3.6"/>
<circle class="pt" cx="1557.4" cy="1980.8" r="3.6"/>
<circle class="pt" cx="1562.7" cy="1987.6" r="3.6"/>
<circle class="pt" cx="1572.1" cy="1982.8" r="3.6"/>
<circle class="pt" cx="1575.6" cy="1989.9" r="3.6"/>
<circle class="pt" cx="1580.9" cy="1970.5" r="3.6"/>
<circle class="pt" cx="1592.3" cy="1974.2" r="3.6"/>
<circle class="pt" cx="1592.6" cy="1975" r="3.6"/>
<circle class="pt" cx="1606.3" cy="1974.7" r="3.6"/>
<circle class="pt" cx="1609.3" cy="1979.6" r="3.6"/>
<circle class="pt" cx="1607.8" cy="1983.8" r="3.6"/>
<circle class="pt" cx="1611.6" cy="1986.4" r="3.6"/>
<circle class="pt" cx="1610.8" cy="1990.2" r="3.6"/>
<circle class="pt" cx="1612.4" cy="1991.7" r="3.6"/>
<circle class="pt" cx="1617.7" cy="1982.6" r="3.6"/>
<circle class="pt" cx="1619.2" cy="1989.4" r="3.6"/>
<circle class="pt" cx="1594.9" cy="1989.4" r="3.6"/>
<circle class="pt" cx="1596.4" cy="1992.5" r="3.6"/>
<circle class="pt" cx="1600.7" cy="1998.5" r="3.6"/>
<circle class="pt" cx="1632.9" cy="1985.9" r="3.6"/>
<circle class="pt" cx="1633.6" cy="1985.9" r="3.6"/>
<circle class="pt" cx="1634.4" cy="1997.8" r="3.6"/>
<circle class="pt" cx="1641.2" cy="1974.2" r="3.6"/>
<circle class="pt" cx="1651.8" cy="1968.9" r="3.6"/>
<circle class="pt" cx="1657.1" cy="1972.4" r="3.6"/>
<circle class="pt" cx="1653.7" cy="1979.1" r="3.6"/>
<circle class="pt" cx="1661.7" cy="1988.7" r="3.6"/>
<circle class="pt" cx="1667" cy="1983.4" r="3.6"/>
<circle class="pt" cx="1670.8" cy="1985.6" r="3.6"/>
<circle class="pt" cx="1664.7" cy="1987.2" r="3.6"/>
<circle class="pt" cx="1659.4" cy="1997.8" r="3.6"/>
<circle class="pt" cx="1676.9" cy="2000.1" r="3.6"/>
<circle class="pt" cx="1679.2" cy="1972" r="3.6"/>
<circle class="pt" cx="1679.2" cy="1984.9" r="3.6"/>
<circle class="pt" cx="1701.9" cy="1981.8" r="3.6"/>
<circle class="pt" cx="1711.8" cy="1972.7" r="3.6"/>
<circle class="pt" cx="1710.3" cy="1977.3" r="3.6"/>
<circle class="pt" cx="1715.6" cy="1975.8" r="3.6"/>
<circle class="pt" cx="1720.1" cy="1975" r="3.6"/>
<circle class="pt" cx="1719.4" cy="1981.8" r="3.6"/>
<circle class="pt" cx="1714.8" cy="1994" r="3.6"/>
<circle class="pt" cx="1713.3" cy="1997.8" r="3.6"/>
<circle class="pt" cx="1717.9" cy="1994.7" r="3.6"/>
<circle class="pt" cx="1728.5" cy="1972" r="3.6"/>
<circle class="pt" cx="1729.2" cy="1976.5" r="3.6"/>
<circle class="pt" cx="1737.6" cy="1972.7" r="3.6"/>
<circle class="pt" cx="1739.9" cy="1980.3" r="3.6"/>
<circle class="pt" cx="1733" cy="1984.9" r="3.6"/>
<circle class="pt" cx="1736.1" cy="1989.4" r="3.6"/>
<circle class="pt" cx="1739.9" cy="1988.7" r="3.6"/>
<circle class="pt" cx="1744.4" cy="1984.9" r="3.6"/>
<circle class="pt" cx="1727.7" cy="1997.8" r="3.6"/>
<circle class="pt" cx="1736.1" cy="1996.7" r="3.6"/>
<circle class="pt" cx="1749.7" cy="1993.2" r="3.6"/>
<circle class="pt" cx="1751.2" cy="1995.5" r="3.6"/>
<circle class="pt" cx="1754.3" cy="1976.5" r="3.6"/>
<circle class="pt" cx="1757.3" cy="1984.9" r="3.6"/>
<circle class="pt" cx="1770.2" cy="1970.5" r="3.6"/>
<circle class="pt" cx="1775.5" cy="1972" r="3.6"/>
<circle class="pt" cx="1778.6" cy="1972.7" r="3.6"/>
<circle class="pt" cx="1767.9" cy="1981.1" r="3.6"/>
<circle class="pt" cx="1778.6" cy="1977.3" r="3.6"/>
<circle class="pt" cx="1778.6" cy="1987.9" r="3.6"/>
<circle class="pt" cx="1767.9" cy="1990.2" r="3.6"/>
<circle class="pt" cx="1786.2" cy="1975" r="3.6"/>
<circle class="pt" cx="1790.7" cy="1977.3" r="3.6"/>
<circle class="pt" cx="1789.2" cy="1984.9" r="3.6"/>
<circle class="pt" cx="1796" cy="1989.4" r="3.6"/>
<circle class="pt" cx="1781.6" cy="1996.3" r="3.6"/>
<circle class="pt" cx="1787.7" cy="1999.3" r="3.6"/>
<circle class="pt" cx="1812.7" cy="1976.5" r="3.6"/>
<circle class="pt" cx="1820.3" cy="1972" r="3.6"/>
<circle class="pt" cx="1822.6" cy="1977.3" r="3.6"/>
<circle class="pt" cx="1814.7" cy="1988.7" r="3.6"/>
<circle class="pt" cx="1821.1" cy="1994" r="3.6"/>
<circle class="pt" cx="1812.7" cy="1997.8" r="3.6"/>
<circle class="pt" cx="1834.7" cy="1969.7" r="3.6"/>
<circle class="pt" cx="1840.8" cy="1975.8" r="3.6"/>
<circle class="pt" cx="1837.8" cy="1974.2" r="3.6"/>
<circle class="pt" cx="1847.6" cy="1989.4" r="3.6"/>
<circle class="pt" cx="1855.2" cy="1988.7" r="3.6"/>
<circle class="pt" cx="1849.9" cy="1999.3" r="3.6"/>
<circle class="pt" cx="1892.4" cy="1969.4" r="3.6"/>
<circle class="pt" cx="1887.9" cy="1985.6" r="3.6"/>
<circle class="pt" cx="1713.1" cy="1974.7" r="3.6"/>
<circle class="pt" cx="1717.7" cy="1979.2" r="3.6"/>
<circle class="pt" cx="1730.8" cy="1974.5" r="3.6"/>
<circle class="pt" cx="1609.9" cy="1988" r="3.6"/>
<circle class="pt" cx="1785" cy="1976" r="3.6"/>
<circle class="pt" cx="1673.4" cy="1985" r="3.6"/>
<circle class="pt" cx="1765.9" cy="1983.3" r="3.6"/>
<circle class="pt" cx="1608.3" cy="1985.5" r="3.6"/>
<circle class="pt" cx="1709" cy="1979.9" r="3.6"/>
<circle class="pt" cx="1740" cy="1990.8" r="3.6"/>
<circle class="pt" cx="1611.1" cy="1981.3" r="3.6"/>
<circle class="pt" cx="1779.5" cy="1990.2" r="3.6"/>
<circle class="pt" cx="1604.1" cy="1973.4" r="3.6"/>
<circle class="pt" cx="1493.2" cy="2087.5" r="3.6"/>
<circle class="pt" cx="1521.8" cy="2088" r="3.6"/>
<circle class="pt" cx="1524.5" cy="2091" r="3.6"/>
<circle class="pt" cx="1543.8" cy="2081" r="3.6"/>
<circle class="pt" cx="1542.5" cy="2092" r="3.6"/>
<circle class="pt" cx="1577" cy="2074.8" r="3.6"/>
<circle class="pt" cx="1572.5" cy="2098.8" r="3.6"/>
<circle class="pt" cx="1581.2" cy="2103.8" r="3.6"/>
<circle class="pt" cx="1589.2" cy="2103" r="3.6"/>
<circle class="pt" cx="1601.5" cy="2097" r="3.6"/>
<circle class="pt" cx="1611.2" cy="2074.5" r="3.6"/>
<circle class="pt" cx="1615.5" cy="2078" r="3.6"/>
<circle class="pt" cx="1610.8" cy="2084" r="3.6"/>
<circle class="pt" cx="1616.8" cy="2105.2" r="3.6"/>
<circle class="pt" cx="1629.5" cy="2093" r="3.6"/>
<circle class="pt" cx="1657.5" cy="2095.5" r="3.6"/>
<circle class="pt" cx="1661.2" cy="2095.5" r="3.6"/>
<circle class="pt" cx="1668.8" cy="2102.2" r="3.6"/>
<circle class="pt" cx="1703.8" cy="2104.2" r="3.6"/>
<circle class="pt" cx="1720" cy="2076.8" r="3.6"/>
<circle class="pt" cx="1730" cy="2088.5" r="3.6"/>
<circle class="pt" cx="1726.2" cy="2092.2" r="3.6"/>
<circle class="pt" cx="1737" cy="2082.2" r="3.6"/>
<circle class="pt" cx="1746.2" cy="2076" r="3.6"/>
<circle class="pt" cx="1749.5" cy="2081" r="3.6"/>
<circle class="pt" cx="1750" cy="2087.5" r="3.6"/>
<circle class="pt" cx="1753.8" cy="2088" r="3.6"/>
<circle class="pt" cx="1757" cy="2086" r="3.6"/>
<circle class="pt" cx="1752.5" cy="2091" r="3.6"/>
<circle class="pt" cx="1756.2" cy="2093.5" r="3.6"/>
<circle class="pt" cx="1737.5" cy="2101.8" r="3.6"/>
<circle class="pt" cx="1750.5" cy="2104.5" r="3.6"/>
<circle class="pt" cx="1766.8" cy="2075" r="3.6"/>
<circle class="pt" cx="1788.8" cy="2076.8" r="3.6"/>
<circle class="pt" cx="1791.2" cy="2075.5" r="3.6"/>
<circle class="pt" cx="1782.5" cy="2093.5" r="3.6"/>
<circle class="pt" cx="1786.2" cy="2101" r="3.6"/>
<circle class="pt" cx="1791.2" cy="2098.8" r="3.6"/>
<circle class="pt" cx="1796.2" cy="2096.5" r="3.6"/>
<circle class="pt" cx="1802.5" cy="2091.2" r="3.6"/>
<circle class="pt" cx="1808.8" cy="2098.8" r="3.6"/>
<circle class="pt" cx="1842.5" cy="2084.5" r="3.6"/>
<circle class="pt" cx="1852.5" cy="2082.2" r="3.6"/>
<circle class="pt" cx="1850.5" cy="2095" r="3.6"/>
<circle class="pt" cx="1849.2" cy="2100.5" r="3.6"/>
<circle class="pt" cx="1867" cy="2090.2" r="3.6"/>
<circle class="pt" cx="1376.1" cy="2181.9" r="3.6"/>
<circle class="pt" cx="1416.9" cy="2195.4" r="3.6"/>
<circle class="pt" cx="1460.4" cy="2191.1" r="3.6"/>
<circle class="pt" cx="1469" cy="2185.1" r="3.6"/>
<circle class="pt" cx="1461.7" cy="2208.6" r="3.6"/>
<circle class="pt" cx="1485.3" cy="2204.3" r="3.6"/>
<circle class="pt" cx="1492.1" cy="2180.1" r="3.6"/>
<circle class="pt" cx="1491.1" cy="2183.3" r="3.6"/>
<circle class="pt" cx="1554.7" cy="2190.9" r="3.6"/>
<circle class="pt" cx="1553.6" cy="2197.6" r="3.6"/>
<circle class="pt" cx="1543.6" cy="2208" r="3.6"/>
<circle class="pt" cx="1572.9" cy="2201.6" r="3.6"/>
<circle class="pt" cx="1575.4" cy="2206.4" r="3.6"/>
<circle class="pt" cx="1583.9" cy="2189.3" r="3.6"/>
<circle class="pt" cx="1591" cy="2181.4" r="3.6"/>
<circle class="pt" cx="1592.9" cy="2190.4" r="3.6"/>
<circle class="pt" cx="1592.1" cy="2196.6" r="3.6"/>
<circle class="pt" cx="1594.3" cy="2200.9" r="3.6"/>
<circle class="pt" cx="1588.6" cy="2205.1" r="3.6"/>
<circle class="pt" cx="1595" cy="2210.9" r="3.6"/>
<circle class="pt" cx="1609.7" cy="2189" r="3.6"/>
<circle class="pt" cx="1617.1" cy="2186.1" r="3.6"/>
<circle class="pt" cx="1625.4" cy="2184.3" r="3.6"/>
<circle class="pt" cx="1613.6" cy="2196.1" r="3.6"/>
<circle class="pt" cx="1610.7" cy="2201.6" r="3.6"/>
<circle class="pt" cx="1625" cy="2206.3" r="3.6"/>
<circle class="pt" cx="1634.3" cy="2201.4" r="3.6"/>
<circle class="pt" cx="1664.3" cy="2180.1" r="3.6"/>
<circle class="pt" cx="1685" cy="2180.4" r="3.6"/>
<circle class="pt" cx="1683.6" cy="2183.3" r="3.6"/>
<circle class="pt" cx="1682.9" cy="2189.3" r="3.6"/>
<circle class="pt" cx="1681.4" cy="2205.4" r="3.6"/>
<circle class="pt" cx="1692.9" cy="2196.1" r="3.6"/>
<circle class="pt" cx="1697.9" cy="2206.6" r="3.6"/>
<circle class="pt" cx="1717.1" cy="2184.4" r="3.6"/>
<circle class="pt" cx="1716.4" cy="2185.4" r="3.6"/>
<circle class="pt" cx="1729.3" cy="2179.7" r="3.6"/>
<circle class="pt" cx="1745.7" cy="2182.1" r="3.6"/>
<circle class="pt" cx="1740" cy="2188.7" r="3.6"/>
<circle class="pt" cx="1744.3" cy="2193" r="3.6"/>
<circle class="pt" cx="1739.3" cy="2195.4" r="3.6"/>
<circle class="pt" cx="1717.1" cy="2197.1" r="3.6"/>
<circle class="pt" cx="1721.9" cy="2203" r="3.6"/>
<circle class="pt" cx="1739.7" cy="2205.9" r="3.6"/>
<circle class="pt" cx="1750" cy="2210.4" r="3.6"/>
<circle class="pt" cx="1757.1" cy="2210.9" r="3.6"/>
<circle class="pt" cx="1773.1" cy="2210.1" r="3.6"/>
<circle class="pt" cx="1777.9" cy="2198.7" r="3.6"/>
<circle class="pt" cx="1781.4" cy="2201.1" r="3.6"/>
<circle class="pt" cx="1788.3" cy="2201.4" r="3.6"/>
<circle class="pt" cx="1786.4" cy="2191.9" r="3.6"/>
<circle class="pt" cx="1800" cy="2191.6" r="3.6"/>
<circle class="pt" cx="1801" cy="2203.7" r="3.6"/>
<circle class="pt" cx="1815.7" cy="2199" r="3.6"/>
<circle class="pt" cx="1832.1" cy="2201.6" r="3.6"/>
<circle class="pt" cx="1398.5" cy="2291.4" r="3.6"/>
<circle class="pt" cx="1427.1" cy="2302" r="3.6"/>
<circle class="pt" cx="1467.8" cy="2300" r="3.6"/>
<circle class="pt" cx="1485.5" cy="2287.3" r="3.6"/>
<circle class="pt" cx="1493.4" cy="2285.2" r="3.6"/>
<circle class="pt" cx="1510.2" cy="2286" r="3.6"/>
<circle class="pt" cx="1539.8" cy="2302.3" r="3.6"/>
<circle class="pt" cx="1545.2" cy="2302" r="3.6"/>
<circle class="pt" cx="1575.4" cy="2288.8" r="3.6"/>
<circle class="pt" cx="1576.5" cy="2287.6" r="3.6"/>
<circle class="pt" cx="1562.2" cy="2309.7" r="3.6"/>
<circle class="pt" cx="1575.7" cy="2312.6" r="3.6"/>
<circle class="pt" cx="1588.9" cy="2313.1" r="3.6"/>
<circle class="pt" cx="1596.6" cy="2311.2" r="3.6"/>
<circle class="pt" cx="1599.7" cy="2298.9" r="3.6"/>
<circle class="pt" cx="1606.7" cy="2300.3" r="3.6"/>
<circle class="pt" cx="1632.2" cy="2308" r="3.6"/>
<circle class="pt" cx="1629.6" cy="2315.9" r="3.6"/>
<circle class="pt" cx="1642.7" cy="2315.9" r="3.6"/>
<circle class="pt" cx="1642.7" cy="2301.8" r="3.6"/>
<circle class="pt" cx="1647.7" cy="2300" r="3.6"/>
<circle class="pt" cx="1648.5" cy="2307.7" r="3.6"/>
<circle class="pt" cx="1648.5" cy="2313.1" r="3.6"/>
<circle class="pt" cx="1683" cy="2284.9" r="3.6"/>
<circle class="pt" cx="1699.1" cy="2287.6" r="3.6"/>
<circle class="pt" cx="1705.1" cy="2287.9" r="3.6"/>
<circle class="pt" cx="1702.8" cy="2293.6" r="3.6"/>
<circle class="pt" cx="1716.7" cy="2290.6" r="3.6"/>
<circle class="pt" cx="1739.3" cy="2294.3" r="3.6"/>
<circle class="pt" cx="1751.5" cy="2292.8" r="3.6"/>
<circle class="pt" cx="1762.4" cy="2285.4" r="3.6"/>
<circle class="pt" cx="1807.7" cy="2289.5" r="3.6"/>
<circle class="pt" cx="1830.4" cy="2289.5" r="3.6"/>
<circle class="pt" cx="1890.3" cy="2297.6" r="3.6"/>
<circle class="pt" cx="1699.1" cy="2310.7" r="3.6"/>
<circle class="pt" cx="1714.7" cy="2312.9" r="3.6"/>
<circle class="pt" cx="1721.1" cy="2315.6" r="3.6"/>
<circle class="pt" cx="1732.6" cy="2316.2" r="3.6"/>
<circle class="pt" cx="1738.5" cy="2315.6" r="3.6"/>
<circle class="pt" cx="1734.1" cy="2306.9" r="3.6"/>
<circle class="pt" cx="1737.8" cy="2305.5" r="3.6"/>
<circle class="pt" cx="1744.5" cy="2304.7" r="3.6"/>
<circle class="pt" cx="1746" cy="2306.2" r="3.6"/>
<circle class="pt" cx="1769" cy="2301.7" r="3.6"/>
<circle class="pt" cx="1772.8" cy="2300.7" r="3.6"/>
<circle class="pt" cx="1782.9" cy="2310.4" r="3.6"/>
<circle class="pt" cx="1835.3" cy="2310.4" r="3.6"/>
<circle class="pt" cx="1856.5" cy="2308.1" r="3.6"/>
<circle class="pt" cx="1866.5" cy="2316.3" r="3.6"/>
<circle class="pt" cx="1384.5" cy="2421.3" r="3.6"/>
<circle class="pt" cx="1399.8" cy="2415" r="3.6"/>
<circle class="pt" cx="1406.1" cy="2396.2" r="3.6"/>
<circle class="pt" cx="1426.5" cy="2404.1" r="3.6"/>
<circle class="pt" cx="1444.5" cy="2399.6" r="3.6"/>
<circle class="pt" cx="1461.6" cy="2394.3" r="3.6"/>
<circle class="pt" cx="1478.5" cy="2419.5" r="3.6"/>
<circle class="pt" cx="1485.5" cy="2416.5" r="3.6"/>
<circle class="pt" cx="1490" cy="2412" r="3.6"/>
<circle class="pt" cx="1526.2" cy="2405" r="3.6"/>
<circle class="pt" cx="1522.4" cy="2409.1" r="3.6"/>
<circle class="pt" cx="1523.4" cy="2414.1" r="3.6"/>
<circle class="pt" cx="1530.9" cy="2416.8" r="3.6"/>
<circle class="pt" cx="1541.4" cy="2392.1" r="3.6"/>
<circle class="pt" cx="1545.7" cy="2398.8" r="3.6"/>
<circle class="pt" cx="1563.2" cy="2390.7" r="3.6"/>
<circle class="pt" cx="1561.1" cy="2394.2" r="3.6"/>
<circle class="pt" cx="1562.6" cy="2399.8" r="3.6"/>
<circle class="pt" cx="1570.7" cy="2395.7" r="3.6"/>
<circle class="pt" cx="1561.6" cy="2408.4" r="3.6"/>
<circle class="pt" cx="1572.8" cy="2404.9" r="3.6"/>
<circle class="pt" cx="1574.8" cy="2410.4" r="3.6"/>
<circle class="pt" cx="1558.6" cy="2421" r="3.6"/>
<circle class="pt" cx="1571.2" cy="2420.5" r="3.6"/>
<circle class="pt" cx="1577.3" cy="2419.5" r="3.6"/>
<circle class="pt" cx="1578.3" cy="2417" r="3.6"/>
<circle class="pt" cx="1583.4" cy="2391.7" r="3.6"/>
<circle class="pt" cx="1584.9" cy="2392.2" r="3.6"/>
<circle class="pt" cx="1588.5" cy="2390.7" r="3.6"/>
<circle class="pt" cx="1581.4" cy="2398.3" r="3.6"/>
<circle class="pt" cx="1594.5" cy="2398.8" r="3.6"/>
<circle class="pt" cx="1601.6" cy="2397.8" r="3.6"/>
<circle class="pt" cx="1606.7" cy="2398.3" r="3.6"/>
<circle class="pt" cx="1608.2" cy="2400.8" r="3.6"/>
<circle class="pt" cx="1611.7" cy="2394.7" r="3.6"/>
<circle class="pt" cx="1612.7" cy="2395.7" r="3.6"/>
<circle class="pt" cx="1600.6" cy="2406.4" r="3.6"/>
<circle class="pt" cx="1605.1" cy="2407.4" r="3.6"/>
<circle class="pt" cx="1608.7" cy="2405.9" r="3.6"/>
<circle class="pt" cx="1616.3" cy="2401.8" r="3.6"/>
<circle class="pt" cx="1618.8" cy="2409.4" r="3.6"/>
<circle class="pt" cx="1616.3" cy="2414" r="3.6"/>
<circle class="pt" cx="1593.5" cy="2417.5" r="3.6"/>
<circle class="pt" cx="1596.5" cy="2415" r="3.6"/>
<circle class="pt" cx="1599.6" cy="2412.9" r="3.6"/>
<circle class="pt" cx="1625.4" cy="2390.2" r="3.6"/>
<circle class="pt" cx="1623.4" cy="2395.7" r="3.6"/>
<circle class="pt" cx="1629.9" cy="2395.7" r="3.6"/>
<circle class="pt" cx="1628.9" cy="2400.8" r="3.6"/>
<circle class="pt" cx="1636.5" cy="2397.3" r="3.6"/>
<circle class="pt" cx="1641.1" cy="2390.2" r="3.6"/>
<circle class="pt" cx="1642.1" cy="2392.7" r="3.6"/>
<circle class="pt" cx="1634" cy="2407.4" r="3.6"/>
<circle class="pt" cx="1628.4" cy="2412.4" r="3.6"/>
<circle class="pt" cx="1641.1" cy="2404.3" r="3.6"/>
<circle class="pt" cx="1645.1" cy="2405.4" r="3.6"/>
<circle class="pt" cx="1645.6" cy="2411.4" r="3.6"/>
<circle class="pt" cx="1645.6" cy="2416" r="3.6"/>
<circle class="pt" cx="1629.4" cy="2422.1" r="3.6"/>
<circle class="pt" cx="1653.2" cy="2418" r="3.6"/>
<circle class="pt" cx="1658.8" cy="2421.5" r="3.6"/>
<circle class="pt" cx="1659.3" cy="2392.2" r="3.6"/>
<circle class="pt" cx="1660.3" cy="2396.8" r="3.6"/>
<circle class="pt" cx="1666.9" cy="2394.2" r="3.6"/>
<circle class="pt" cx="1666.9" cy="2403.8" r="3.6"/>
<circle class="pt" cx="1658.3" cy="2407.9" r="3.6"/>
<circle class="pt" cx="1663.8" cy="2414" r="3.6"/>
<circle class="pt" cx="1657.8" cy="2416" r="3.6"/>
<circle class="pt" cx="1675.5" cy="2422.1" r="3.6"/>
<circle class="pt" cx="1680" cy="2391.2" r="3.6"/>
<circle class="pt" cx="1686.1" cy="2393.2" r="3.6"/>
<circle class="pt" cx="1680" cy="2398.3" r="3.6"/>
<circle class="pt" cx="1682.6" cy="2410.4" r="3.6"/>
<circle class="pt" cx="1692.2" cy="2421" r="3.6"/>
<circle class="pt" cx="1696.7" cy="2389.7" r="3.6"/>
<circle class="pt" cx="1703.8" cy="2395.2" r="3.6"/>
<circle class="pt" cx="1703.8" cy="2421" r="3.6"/>
<circle class="pt" cx="1711.9" cy="2398.3" r="3.6"/>
<circle class="pt" cx="1710.9" cy="2412.4" r="3.6"/>
<circle class="pt" cx="1716" cy="2394.2" r="3.6"/>
<circle class="pt" cx="1717" cy="2411.4" r="3.6"/>
<circle class="pt" cx="1717" cy="2419.5" r="3.6"/>
<circle class="pt" cx="1720.7" cy="2390" r="3.6"/>
<circle class="pt" cx="1718" cy="2393.8" r="3.6"/>
<circle class="pt" cx="1717" cy="2399.6" r="3.6"/>
<circle class="pt" cx="1720.7" cy="2403.4" r="3.6"/>
<circle class="pt" cx="1730.4" cy="2392.7" r="3.6"/>
<circle class="pt" cx="1731.4" cy="2393.8" r="3.6"/>
<circle class="pt" cx="1738.9" cy="2394.3" r="3.6"/>
<circle class="pt" cx="1726.1" cy="2399.6" r="3.6"/>
<circle class="pt" cx="1734.1" cy="2401.2" r="3.6"/>
<circle class="pt" cx="1740" cy="2404.5" r="3.6"/>
<circle class="pt" cx="1729.8" cy="2406.1" r="3.6"/>
<circle class="pt" cx="1727.1" cy="2412" r="3.6"/>
<circle class="pt" cx="1716.4" cy="2411.4" r="3.6"/>
<circle class="pt" cx="1719.6" cy="2418.9" r="3.6"/>
<circle class="pt" cx="1722.3" cy="2422.1" r="3.6"/>
<circle class="pt" cx="1731.4" cy="2421.1" r="3.6"/>
<circle class="pt" cx="1733" cy="2415.2" r="3.6"/>
<circle class="pt" cx="1737.9" cy="2417.9" r="3.6"/>
<circle class="pt" cx="1737.3" cy="2421.1" r="3.6"/>
<circle class="pt" cx="1739.5" cy="2410.4" r="3.6"/>
<circle class="pt" cx="1747.5" cy="2401.2" r="3.6"/>
<circle class="pt" cx="1747.5" cy="2402.9" r="3.6"/>
<circle class="pt" cx="1749.6" cy="2410.4" r="3.6"/>
<circle class="pt" cx="1755" cy="2395.4" r="3.6"/>
<circle class="pt" cx="1755.5" cy="2403.4" r="3.6"/>
<circle class="pt" cx="1753.9" cy="2411.4" r="3.6"/>
<circle class="pt" cx="1757.1" cy="2412" r="3.6"/>
<circle class="pt" cx="1746.4" cy="2418.4" r="3.6"/>
<circle class="pt" cx="1751.2" cy="2420.5" r="3.6"/>
<circle class="pt" cx="1745.4" cy="2422.1" r="3.6"/>
<circle class="pt" cx="1763.6" cy="2392.1" r="3.6"/>
<circle class="pt" cx="1769.5" cy="2397" r="3.6"/>
<circle class="pt" cx="1768.4" cy="2403.9" r="3.6"/>
<circle class="pt" cx="1773.2" cy="2406.6" r="3.6"/>
<circle class="pt" cx="1762.5" cy="2406.1" r="3.6"/>
<circle class="pt" cx="1771.6" cy="2413" r="3.6"/>
<circle class="pt" cx="1763.6" cy="2420" r="3.6"/>
<circle class="pt" cx="1765.7" cy="2421.6" r="3.6"/>
<circle class="pt" cx="1779.1" cy="2392.7" r="3.6"/>
<circle class="pt" cx="1785" cy="2393.8" r="3.6"/>
<circle class="pt" cx="1790.9" cy="2391.1" r="3.6"/>
<circle class="pt" cx="1790.4" cy="2400.2" r="3.6"/>
<circle class="pt" cx="1789.8" cy="2402.9" r="3.6"/>
<circle class="pt" cx="1782.3" cy="2401.2" r="3.6"/>
<circle class="pt" cx="1787.1" cy="2404.5" r="3.6"/>
<circle class="pt" cx="1803.2" cy="2399.6" r="3.6"/>
<circle class="pt" cx="1804.3" cy="2400.7" r="3.6"/>
<circle class="pt" cx="1799.5" cy="2410.4" r="3.6"/>
<circle class="pt" cx="1789.8" cy="2414.6" r="3.6"/>
<circle class="pt" cx="1790.4" cy="2417.9" r="3.6"/>
<circle class="pt" cx="1799.5" cy="2421.1" r="3.6"/>
<circle class="pt" cx="1800" cy="2421.6" r="3.6"/>
<circle class="pt" cx="1815" cy="2414.1" r="3.6"/>
<circle class="pt" cx="1813.9" cy="2420.5" r="3.6"/>
<circle class="pt" cx="1822" cy="2421.1" r="3.6"/>
<circle class="pt" cx="1822" cy="2391.6" r="3.6"/>
<circle class="pt" cx="1825.7" cy="2391.1" r="3.6"/>
<circle class="pt" cx="1822" cy="2399.1" r="3.6"/>
<circle class="pt" cx="1822" cy="2406.1" r="3.6"/>
<circle class="pt" cx="1838.6" cy="2392.7" r="3.6"/>
<circle class="pt" cx="1843.4" cy="2394.8" r="3.6"/>
<circle class="pt" cx="1849.3" cy="2392.1" r="3.6"/>
<circle class="pt" cx="1854.6" cy="2398" r="3.6"/>
<circle class="pt" cx="1859.5" cy="2392.7" r="3.6"/>
<circle class="pt" cx="1839.6" cy="2405" r="3.6"/>
<circle class="pt" cx="1833.2" cy="2408.8" r="3.6"/>
<circle class="pt" cx="1837.5" cy="2412.5" r="3.6"/>
<circle class="pt" cx="1833.2" cy="2417.3" r="3.6"/>
<circle class="pt" cx="1847.7" cy="2409.3" r="3.6"/>
<circle class="pt" cx="1851.4" cy="2406.6" r="3.6"/>
<circle class="pt" cx="1855.7" cy="2408.2" r="3.6"/>
<circle class="pt" cx="1865.4" cy="2408.2" r="3.6"/>
<circle class="pt" cx="1871.8" cy="2408.8" r="3.6"/>
<circle class="pt" cx="1876.6" cy="2413" r="3.6"/>
<circle class="pt" cx="1872.9" cy="2422.1" r="3.6"/>
<circle class="pt" cx="1656.6" cy="2409.3" r="3.6"/>
<circle class="pt" cx="1718.3" cy="2402.7" r="3.6"/>
<circle class="pt" cx="1802" cy="2420.3" r="3.6"/>
<circle class="pt" cx="1561.4" cy="2391.6" r="3.6"/>
<circle class="pt" cx="1725.2" cy="2409" r="3.6"/>
<circle class="pt" cx="1728.1" cy="2406.8" r="3.6"/>
<circle class="pt" cx="1584.3" cy="2393.3" r="3.6"/>
<circle class="pt" cx="1820.5" cy="2398.5" r="3.6"/>
<circle class="pt" cx="1656.2" cy="2394.1" r="3.6"/>
<circle class="pt" cx="1714.9" cy="2399" r="3.6"/>
<circle class="pt" cx="1669.9" cy="2395.9" r="3.6"/>
<circle class="pt" cx="1733.8" cy="2398.3" r="3.6"/>
<circle class="pt" cx="1607.9" cy="2403.1" r="3.6"/>
<circle class="pt" cx="1749" cy="2423.8" r="3.6"/>
<circle class="pt" cx="1744.3" cy="2419.5" r="3.6"/>
<circle class="pt" cx="1748.7" cy="2411.8" r="3.6"/>
<circle class="pt" cx="1781.2" cy="2394.7" r="3.6"/>
<circle class="pt" cx="1751.6" cy="2410.3" r="3.6"/>
<circle class="pt" cx="1747.6" cy="2405.2" r="3.6"/>
<circle class="pt" cx="1661.9" cy="2393.2" r="3.6"/>
<circle class="pt" cx="1610.5" cy="2401.2" r="3.6"/>
<circle class="pt" cx="1744.4" cy="2404.2" r="3.6"/>
<circle class="pt" cx="1838.1" cy="2402.3" r="3.6"/>
<circle class="pt" cx="1602.5" cy="2405.8" r="3.6"/>
<circle class="pt" cx="1619.4" cy="2402.3" r="3.6"/>
<circle class="pt" cx="1854.5" cy="2406.6" r="3.6"/>
<circle class="pt" cx="1789.4" cy="2402.3" r="3.6"/>
<circle class="pt" cx="1769.4" cy="2400.2" r="3.6"/>
<circle class="pt" cx="1791.9" cy="2402.9" r="3.6"/>
<circle class="pt" cx="1722.7" cy="2425.7" r="3.6"/>
<circle class="pt" cx="1754.1" cy="2407.6" r="3.6"/>
<circle class="pt" cx="1757.6" cy="2394.7" r="3.6"/>
<circle class="pt" cx="1596.7" cy="2406" r="3.6"/>
<rect class="bx" fill="#FFA500" x="1614.2" y="1760.8" width="74.1" height="25.8"/>
<line class="md" x1="1651.3" y1="1760.8" x2="1651.3" y2="1786.6"/>
<polygon class="dm" points="1643.1,1773.7 1651.3,1766 1659.5,1773.7 1651.3,1781.4"/>
<rect class="bx" fill="#FB794A" x="1631.2" y="1866.3" width="38.1" height="25.8"/>
<line class="md" x1="1650.4" y1="1866.3" x2="1650.4" y2="1892.1"/>
<polygon class="dm" points="1642.2,1879.2 1650.4,1871.5 1658.6,1879.2 1650.4,1886.9"/>
<rect class="bx" fill="#F05576" x="1681.9" y="1971.8" width="17.4" height="25.8"/>
<line class="md" x1="1690.4" y1="1971.8" x2="1690.4" y2="1997.6"/>
<polygon class="dm" points="1682.2,1984.7 1690.4,1977 1698.6,1984.7 1690.4,1992.4"/>
<rect class="bx" fill="#C05091" x="1691.7" y="2077.3" width="26.1" height="25.8"/>
<line class="md" x1="1704.5" y1="2077.3" x2="1704.5" y2="2103.2"/>
<polygon class="dm" points="1696.3,2090.2 1704.5,2082.6 1712.7,2090.2 1704.5,2097.9"/>
<rect class="bx" fill="#7C5296" x="1640.2" y="2182.9" width="23.8" height="25.8"/>
<line class="md" x1="1652.1" y1="2182.9" x2="1652.1" y2="2208.7"/>
<polygon class="dm" points="1643.9,2195.8 1652.1,2188.1 1660.3,2195.8 1652.1,2203.5"/>
<rect class="bx" fill="#384E84" x="1652.5" y="2288.4" width="29.5" height="25.8"/>
<line class="md" x1="1667.2" y1="2288.4" x2="1667.2" y2="2314.2"/>
<polygon class="dm" points="1659,2301.3 1667.2,2293.6 1675.4,2301.3 1667.2,2309"/>
<rect class="bx" fill="#0C1C34" x="1690.7" y="2393.9" width="13.4" height="25.8"/>
<line class="md" x1="1697.5" y1="2393.9" x2="1697.5" y2="2419.7"/>
<polygon class="dm" points="1689.3,2406.8 1697.5,2399.1 1705.7,2406.8 1697.5,2414.5"/>
<path class="ax" d="M1181.3 1710.4V2470.1H1940"/>
<text class="tk one" x="1208.4" y="2497.1">1</text>
<text class="tk" x="1379.6" y="2497.1">2</text>
<text class="tk" x="1552.3" y="2497.1">3</text>
<text class="tk" x="1725" y="2497.1">4</text>
<text class="tk" x="1897.7" y="2497.1">5</text>
<text class="tt" x="1560.7" y="2533.6">Openness</text>
</g>
<text class="lb" x="384.3" y="1785.1">Liver Donor</text>
<text class="lb" x="384.3" y="1890.6">Heroic Rescuer</text>
<text class="lb" x="384.3" y="1996.1">Kidney Donor (ND)</text>
<text class="lb" x="384.3" y="2101.7">Humanitarian Aid Worker</text>
<text class="lb" x="384.3" y="2207.2">Kidney Donor (D)</text>
<text class="lb" x="384.3" y="2312.7">Marrow Donor</text>
<text class="lb" x="384.3" y="2418.2">Control</text>
<text class="tt" transform="translate(28.3 2090.2) rotate(-90)" x="0" y="0">Group</text>
</svg></body></html>
